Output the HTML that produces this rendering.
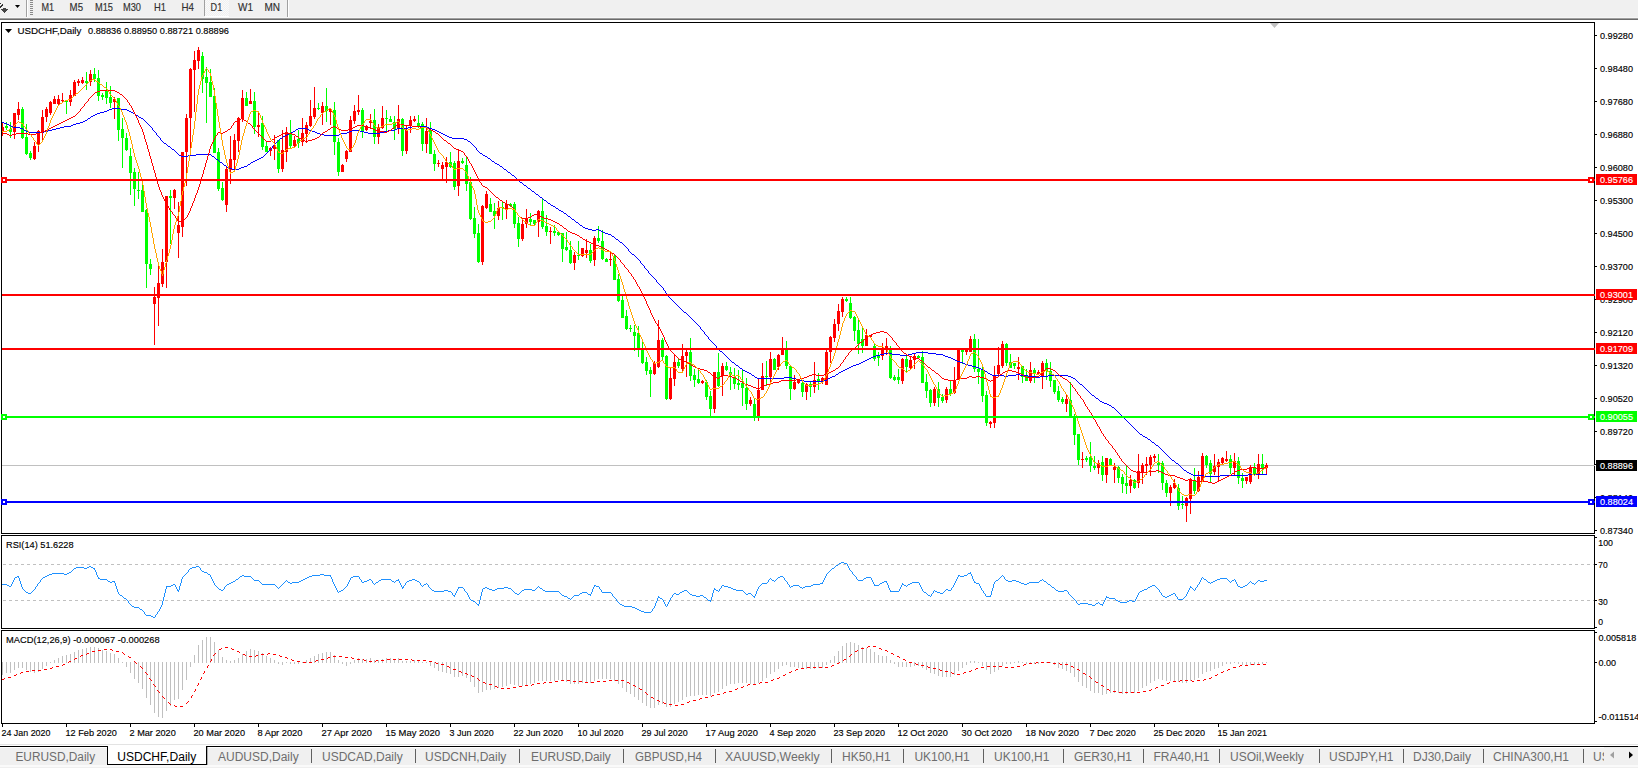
<!DOCTYPE html><html><head><meta charset="utf-8"><style>html,body{margin:0;padding:0;width:1638px;height:768px;overflow:hidden;background:#fff}svg{display:block}text{font-family:"Liberation Sans",sans-serif}</style></head><body>
<svg width="1638" height="768" viewBox="0 0 1638 768" shape-rendering="crispEdges">
<rect x="0" y="0" width="1638" height="18" fill="#f0f0f0"/>
<rect x="0" y="17" width="1638" height="1" fill="#f6f6f6"/>
<rect x="0" y="18" width="1638" height="1" fill="#a0a0a0"/>
<rect x="0" y="19" width="1638" height="1" fill="#6a6a6a"/>
<rect x="0" y="3" width="1" height="1" fill="#303030"/>
<rect x="2" y="4" width="1" height="1" fill="#303030"/>
<rect x="1" y="5" width="2" height="1" fill="#303030"/>
<rect x="0" y="6" width="2" height="1" fill="#303030"/>
<rect x="0" y="7" width="1" height="1" fill="#303030"/>
<rect x="3" y="8" width="3" height="1" fill="#444444"/>
<rect x="1" y="9" width="7" height="1" fill="#444444"/>
<rect x="2" y="10" width="5" height="1" fill="#444444"/>
<rect x="3" y="11" width="3" height="1" fill="#444444"/>
<rect x="4" y="12" width="1" height="1" fill="#444444"/>
<path d="M15 5 L20 5 L17.5 8 Z" fill="#000" shape-rendering="geometricPrecision"/>
<rect x="26" y="0" width="1" height="17" fill="#a0a0a0"/>
<rect x="27" y="0" width="1" height="17" fill="#ffffff"/>
<rect x="30" y="0" width="3" height="1" fill="#8a8a8a"/>
<rect x="30" y="2" width="3" height="1" fill="#8a8a8a"/>
<rect x="30" y="4" width="3" height="1" fill="#8a8a8a"/>
<rect x="30" y="6" width="3" height="1" fill="#8a8a8a"/>
<rect x="30" y="8" width="3" height="1" fill="#8a8a8a"/>
<rect x="30" y="10" width="3" height="1" fill="#8a8a8a"/>
<rect x="30" y="12" width="3" height="1" fill="#8a8a8a"/>
<rect x="30" y="14" width="3" height="1" fill="#8a8a8a"/>
<defs><pattern id="dith" width="2" height="2" patternUnits="userSpaceOnUse"><rect width="2" height="2" fill="#f0f0f0"/><rect width="1" height="1" fill="#fafafa"/><rect x="1" y="1" width="1" height="1" fill="#fafafa"/></pattern></defs>
<rect x="205" y="0" width="24" height="16" fill="url(#dith)"/>
<rect x="204" y="0" width="1" height="16" fill="#a0a0a0"/>
<rect x="205" y="16" width="24" height="1" fill="#ffffff"/>
<rect x="287" y="0" width="1" height="17" fill="#a0a0a0"/>
<rect x="288" y="0" width="1" height="17" fill="#ffffff"/>
<text x="41.4" y="10.5" font-size="10.5" fill="#303030" stroke="#303030" stroke-width="0.15" textLength="12.6" lengthAdjust="spacingAndGlyphs">M1</text>
<text x="69.6" y="10.5" font-size="10.5" fill="#303030" stroke="#303030" stroke-width="0.15" textLength="13.4" lengthAdjust="spacingAndGlyphs">M5</text>
<text x="95" y="10.5" font-size="10.5" fill="#303030" stroke="#303030" stroke-width="0.15" textLength="18" lengthAdjust="spacingAndGlyphs">M15</text>
<text x="123" y="10.5" font-size="10.5" fill="#303030" stroke="#303030" stroke-width="0.15" textLength="18" lengthAdjust="spacingAndGlyphs">M30</text>
<text x="154" y="10.5" font-size="10.5" fill="#303030" stroke="#303030" stroke-width="0.15" textLength="12" lengthAdjust="spacingAndGlyphs">H1</text>
<text x="181.5" y="10.5" font-size="10.5" fill="#303030" stroke="#303030" stroke-width="0.15" textLength="12.5" lengthAdjust="spacingAndGlyphs">H4</text>
<text x="210.6" y="10.5" font-size="10.5" fill="#303030" stroke="#303030" stroke-width="0.15" textLength="11.6" lengthAdjust="spacingAndGlyphs">D1</text>
<text x="238" y="10.5" font-size="10.5" fill="#303030" stroke="#303030" stroke-width="0.15" textLength="15" lengthAdjust="spacingAndGlyphs">W1</text>
<text x="264.4" y="10.5" font-size="10.5" fill="#303030" stroke="#303030" stroke-width="0.15" textLength="15.6" lengthAdjust="spacingAndGlyphs">MN</text>
<rect x="1" y="22" width="1594" height="1" fill="#000"/>
<rect x="1" y="533" width="1594" height="1" fill="#000"/>
<rect x="1" y="22" width="1" height="512" fill="#000"/>
<rect x="1594" y="22" width="1" height="512" fill="#000"/>
<rect x="1" y="535" width="1594" height="1" fill="#000"/>
<rect x="1" y="628" width="1594" height="1" fill="#000"/>
<rect x="1" y="535" width="1" height="94" fill="#000"/>
<rect x="1594" y="535" width="1" height="94" fill="#000"/>
<rect x="1" y="630" width="1594" height="1" fill="#000"/>
<rect x="1" y="723" width="1594" height="1" fill="#000"/>
<rect x="1" y="630" width="1" height="94" fill="#000"/>
<rect x="1594" y="630" width="1" height="94" fill="#000"/>
<rect x="2" y="465" width="1593" height="1" fill="#c0c0c0"/>
<g>
<rect x="2" y="123" width="1" height="13" fill="#ff0000"/>
<rect x="2" y="127" width="2" height="5" fill="#ff0000"/>
<rect x="6" y="122" width="1" height="8" fill="#00ff00"/>
<rect x="5" y="126" width="3" height="2" fill="#00ff00"/>
<rect x="10" y="122" width="1" height="16" fill="#00ff00"/>
<rect x="9" y="129" width="3" height="3" fill="#00ff00"/>
<rect x="14" y="113" width="1" height="26" fill="#ff0000"/>
<rect x="13" y="113" width="3" height="19" fill="#ff0000"/>
<rect x="18" y="102" width="1" height="18" fill="#ff0000"/>
<rect x="17" y="109" width="3" height="6" fill="#ff0000"/>
<rect x="22" y="107" width="1" height="32" fill="#00ff00"/>
<rect x="21" y="109" width="3" height="29" fill="#00ff00"/>
<rect x="26" y="124" width="1" height="31" fill="#00ff00"/>
<rect x="25" y="137" width="3" height="17" fill="#00ff00"/>
<rect x="30" y="151" width="1" height="9" fill="#00ff00"/>
<rect x="29" y="153" width="3" height="5" fill="#00ff00"/>
<rect x="34" y="142" width="1" height="18" fill="#ff0000"/>
<rect x="33" y="146" width="3" height="13" fill="#ff0000"/>
<rect x="38" y="130" width="1" height="22" fill="#ff0000"/>
<rect x="37" y="131" width="3" height="14" fill="#ff0000"/>
<rect x="42" y="110" width="1" height="30" fill="#ff0000"/>
<rect x="41" y="117" width="3" height="15" fill="#ff0000"/>
<rect x="46" y="107" width="1" height="15" fill="#ff0000"/>
<rect x="45" y="109" width="3" height="8" fill="#ff0000"/>
<rect x="50" y="101" width="1" height="14" fill="#ff0000"/>
<rect x="49" y="102" width="3" height="11" fill="#ff0000"/>
<rect x="54" y="96" width="1" height="8" fill="#ff0000"/>
<rect x="53" y="99" width="3" height="5" fill="#ff0000"/>
<rect x="58" y="95" width="1" height="10" fill="#ff0000"/>
<rect x="57" y="99" width="3" height="5" fill="#ff0000"/>
<rect x="62" y="93" width="1" height="10" fill="#ff0000"/>
<rect x="61" y="100" width="3" height="1" fill="#ff0000"/>
<rect x="66" y="100" width="1" height="14" fill="#00ff00"/>
<rect x="65" y="101" width="3" height="1" fill="#00ff00"/>
<rect x="70" y="90" width="1" height="16" fill="#ff0000"/>
<rect x="69" y="95" width="3" height="7" fill="#ff0000"/>
<rect x="74" y="80" width="1" height="16" fill="#ff0000"/>
<rect x="73" y="82" width="3" height="14" fill="#ff0000"/>
<rect x="78" y="79" width="1" height="7" fill="#ff0000"/>
<rect x="77" y="81" width="3" height="2" fill="#ff0000"/>
<rect x="82" y="77" width="1" height="7" fill="#ff0000"/>
<rect x="81" y="80" width="3" height="3" fill="#ff0000"/>
<rect x="86" y="72" width="1" height="18" fill="#00ff00"/>
<rect x="85" y="81" width="3" height="2" fill="#00ff00"/>
<rect x="90" y="70" width="1" height="16" fill="#ff0000"/>
<rect x="89" y="74" width="3" height="8" fill="#ff0000"/>
<rect x="94" y="68" width="1" height="14" fill="#00ff00"/>
<rect x="93" y="74" width="3" height="5" fill="#00ff00"/>
<rect x="98" y="70" width="1" height="31" fill="#00ff00"/>
<rect x="97" y="78" width="3" height="18" fill="#00ff00"/>
<rect x="102" y="93" width="1" height="7" fill="#00ff00"/>
<rect x="101" y="95" width="3" height="2" fill="#00ff00"/>
<rect x="106" y="82" width="1" height="22" fill="#00ff00"/>
<rect x="105" y="90" width="3" height="8" fill="#00ff00"/>
<rect x="110" y="86" width="1" height="22" fill="#00ff00"/>
<rect x="109" y="97" width="3" height="6" fill="#00ff00"/>
<rect x="114" y="97" width="1" height="22" fill="#ff0000"/>
<rect x="113" y="99" width="3" height="3" fill="#ff0000"/>
<rect x="118" y="98" width="1" height="43" fill="#00ff00"/>
<rect x="117" y="98" width="3" height="32" fill="#00ff00"/>
<rect x="122" y="118" width="1" height="50" fill="#00ff00"/>
<rect x="121" y="129" width="3" height="9" fill="#00ff00"/>
<rect x="126" y="133" width="1" height="18" fill="#00ff00"/>
<rect x="125" y="138" width="3" height="12" fill="#00ff00"/>
<rect x="130" y="148" width="1" height="47" fill="#00ff00"/>
<rect x="129" y="156" width="3" height="17" fill="#00ff00"/>
<rect x="134" y="168" width="1" height="38" fill="#00ff00"/>
<rect x="133" y="172" width="3" height="17" fill="#00ff00"/>
<rect x="138" y="172" width="1" height="27" fill="#00ff00"/>
<rect x="137" y="190" width="3" height="1" fill="#00ff00"/>
<rect x="142" y="185" width="1" height="27" fill="#00ff00"/>
<rect x="141" y="190" width="3" height="22" fill="#00ff00"/>
<rect x="146" y="209" width="1" height="79" fill="#00ff00"/>
<rect x="145" y="210" width="3" height="54" fill="#00ff00"/>
<rect x="150" y="259" width="1" height="16" fill="#00ff00"/>
<rect x="149" y="264" width="3" height="5" fill="#00ff00"/>
<rect x="154" y="287" width="1" height="58" fill="#ff0000"/>
<rect x="153" y="297" width="3" height="7" fill="#ff0000"/>
<rect x="158" y="266" width="1" height="60" fill="#ff0000"/>
<rect x="157" y="283" width="3" height="15" fill="#ff0000"/>
<rect x="162" y="249" width="1" height="38" fill="#ff0000"/>
<rect x="161" y="262" width="3" height="22" fill="#ff0000"/>
<rect x="166" y="196" width="1" height="92" fill="#ff0000"/>
<rect x="165" y="196" width="3" height="66" fill="#ff0000"/>
<rect x="170" y="190" width="1" height="54" fill="#00ff00"/>
<rect x="169" y="196" width="3" height="2" fill="#00ff00"/>
<rect x="174" y="189" width="1" height="20" fill="#ff0000"/>
<rect x="173" y="190" width="3" height="8" fill="#ff0000"/>
<rect x="178" y="202" width="1" height="56" fill="#ff0000"/>
<rect x="177" y="225" width="3" height="8" fill="#ff0000"/>
<rect x="182" y="152" width="1" height="85" fill="#ff0000"/>
<rect x="181" y="152" width="3" height="75" fill="#ff0000"/>
<rect x="186" y="114" width="1" height="72" fill="#ff0000"/>
<rect x="185" y="118" width="3" height="34" fill="#ff0000"/>
<rect x="190" y="68" width="1" height="80" fill="#ff0000"/>
<rect x="189" y="69" width="3" height="49" fill="#ff0000"/>
<rect x="194" y="51" width="1" height="61" fill="#ff0000"/>
<rect x="193" y="60" width="3" height="10" fill="#ff0000"/>
<rect x="198" y="47" width="1" height="22" fill="#ff0000"/>
<rect x="197" y="50" width="3" height="11" fill="#ff0000"/>
<rect x="202" y="52" width="1" height="41" fill="#00ff00"/>
<rect x="201" y="56" width="3" height="23" fill="#00ff00"/>
<rect x="206" y="67" width="1" height="56" fill="#00ff00"/>
<rect x="205" y="77" width="3" height="6" fill="#00ff00"/>
<rect x="210" y="69" width="1" height="28" fill="#00ff00"/>
<rect x="209" y="82" width="3" height="15" fill="#00ff00"/>
<rect x="214" y="88" width="1" height="65" fill="#00ff00"/>
<rect x="213" y="96" width="3" height="57" fill="#00ff00"/>
<rect x="218" y="148" width="1" height="43" fill="#00ff00"/>
<rect x="217" y="152" width="3" height="37" fill="#00ff00"/>
<rect x="222" y="182" width="1" height="19" fill="#00ff00"/>
<rect x="221" y="188" width="3" height="12" fill="#00ff00"/>
<rect x="226" y="167" width="1" height="45" fill="#ff0000"/>
<rect x="225" y="169" width="3" height="36" fill="#ff0000"/>
<rect x="230" y="136" width="1" height="48" fill="#ff0000"/>
<rect x="229" y="159" width="3" height="11" fill="#ff0000"/>
<rect x="234" y="134" width="1" height="36" fill="#ff0000"/>
<rect x="233" y="140" width="3" height="20" fill="#ff0000"/>
<rect x="238" y="117" width="1" height="35" fill="#ff0000"/>
<rect x="237" y="118" width="3" height="23" fill="#ff0000"/>
<rect x="242" y="90" width="1" height="32" fill="#ff0000"/>
<rect x="241" y="98" width="3" height="21" fill="#ff0000"/>
<rect x="246" y="92" width="1" height="14" fill="#00ff00"/>
<rect x="245" y="98" width="3" height="8" fill="#00ff00"/>
<rect x="250" y="89" width="1" height="15" fill="#ff0000"/>
<rect x="249" y="101" width="3" height="3" fill="#ff0000"/>
<rect x="254" y="92" width="1" height="42" fill="#00ff00"/>
<rect x="253" y="101" width="3" height="26" fill="#00ff00"/>
<rect x="258" y="113" width="1" height="24" fill="#ff0000"/>
<rect x="257" y="125" width="3" height="2" fill="#ff0000"/>
<rect x="262" y="116" width="1" height="34" fill="#00ff00"/>
<rect x="261" y="123" width="3" height="24" fill="#00ff00"/>
<rect x="266" y="142" width="1" height="10" fill="#00ff00"/>
<rect x="265" y="146" width="3" height="6" fill="#00ff00"/>
<rect x="270" y="147" width="1" height="9" fill="#ff0000"/>
<rect x="269" y="148" width="3" height="3" fill="#ff0000"/>
<rect x="274" y="135" width="1" height="25" fill="#ff0000"/>
<rect x="273" y="146" width="3" height="3" fill="#ff0000"/>
<rect x="278" y="140" width="1" height="33" fill="#00ff00"/>
<rect x="277" y="140" width="3" height="29" fill="#00ff00"/>
<rect x="282" y="130" width="1" height="42" fill="#ff0000"/>
<rect x="281" y="150" width="3" height="19" fill="#ff0000"/>
<rect x="286" y="127" width="1" height="35" fill="#ff0000"/>
<rect x="285" y="132" width="3" height="20" fill="#ff0000"/>
<rect x="290" y="120" width="1" height="28" fill="#00ff00"/>
<rect x="289" y="133" width="3" height="13" fill="#00ff00"/>
<rect x="294" y="136" width="1" height="11" fill="#ff0000"/>
<rect x="293" y="140" width="3" height="6" fill="#ff0000"/>
<rect x="298" y="130" width="1" height="18" fill="#00ff00"/>
<rect x="297" y="139" width="3" height="4" fill="#00ff00"/>
<rect x="302" y="118" width="1" height="28" fill="#ff0000"/>
<rect x="301" y="133" width="3" height="9" fill="#ff0000"/>
<rect x="306" y="122" width="1" height="21" fill="#ff0000"/>
<rect x="305" y="125" width="3" height="9" fill="#ff0000"/>
<rect x="310" y="100" width="1" height="27" fill="#ff0000"/>
<rect x="309" y="116" width="3" height="10" fill="#ff0000"/>
<rect x="314" y="87" width="1" height="32" fill="#ff0000"/>
<rect x="313" y="108" width="3" height="9" fill="#ff0000"/>
<rect x="318" y="103" width="1" height="7" fill="#00ff00"/>
<rect x="317" y="108" width="3" height="1" fill="#00ff00"/>
<rect x="322" y="102" width="1" height="23" fill="#ff0000"/>
<rect x="321" y="106" width="3" height="7" fill="#ff0000"/>
<rect x="326" y="88" width="1" height="34" fill="#00ff00"/>
<rect x="325" y="106" width="3" height="5" fill="#00ff00"/>
<rect x="330" y="108" width="1" height="17" fill="#ff0000"/>
<rect x="329" y="109" width="3" height="3" fill="#ff0000"/>
<rect x="334" y="102" width="1" height="53" fill="#00ff00"/>
<rect x="333" y="110" width="3" height="32" fill="#00ff00"/>
<rect x="338" y="138" width="1" height="38" fill="#00ff00"/>
<rect x="337" y="142" width="3" height="30" fill="#00ff00"/>
<rect x="342" y="164" width="1" height="8" fill="#ff0000"/>
<rect x="341" y="165" width="3" height="7" fill="#ff0000"/>
<rect x="346" y="150" width="1" height="12" fill="#ff0000"/>
<rect x="345" y="151" width="3" height="8" fill="#ff0000"/>
<rect x="350" y="116" width="1" height="36" fill="#ff0000"/>
<rect x="349" y="120" width="3" height="32" fill="#ff0000"/>
<rect x="354" y="105" width="1" height="19" fill="#ff0000"/>
<rect x="353" y="111" width="3" height="10" fill="#ff0000"/>
<rect x="358" y="95" width="1" height="20" fill="#ff0000"/>
<rect x="357" y="110" width="3" height="2" fill="#ff0000"/>
<rect x="362" y="108" width="1" height="30" fill="#00ff00"/>
<rect x="361" y="110" width="3" height="21" fill="#00ff00"/>
<rect x="366" y="125" width="1" height="6" fill="#ff0000"/>
<rect x="365" y="126" width="3" height="4" fill="#ff0000"/>
<rect x="370" y="114" width="1" height="15" fill="#ff0000"/>
<rect x="369" y="121" width="3" height="2" fill="#ff0000"/>
<rect x="374" y="109" width="1" height="35" fill="#00ff00"/>
<rect x="373" y="120" width="3" height="17" fill="#00ff00"/>
<rect x="378" y="124" width="1" height="20" fill="#ff0000"/>
<rect x="377" y="127" width="3" height="10" fill="#ff0000"/>
<rect x="382" y="106" width="1" height="23" fill="#ff0000"/>
<rect x="381" y="118" width="3" height="10" fill="#ff0000"/>
<rect x="386" y="110" width="1" height="22" fill="#00ff00"/>
<rect x="385" y="118" width="3" height="1" fill="#00ff00"/>
<rect x="390" y="116" width="1" height="6" fill="#00ff00"/>
<rect x="389" y="119" width="3" height="3" fill="#00ff00"/>
<rect x="394" y="116" width="1" height="24" fill="#00ff00"/>
<rect x="393" y="122" width="3" height="7" fill="#00ff00"/>
<rect x="398" y="105" width="1" height="29" fill="#ff0000"/>
<rect x="397" y="119" width="3" height="9" fill="#ff0000"/>
<rect x="402" y="118" width="1" height="38" fill="#00ff00"/>
<rect x="401" y="119" width="3" height="32" fill="#00ff00"/>
<rect x="406" y="125" width="1" height="29" fill="#ff0000"/>
<rect x="405" y="130" width="3" height="21" fill="#ff0000"/>
<rect x="410" y="116" width="1" height="17" fill="#ff0000"/>
<rect x="409" y="120" width="3" height="6" fill="#ff0000"/>
<rect x="414" y="116" width="1" height="6" fill="#ff0000"/>
<rect x="413" y="119" width="3" height="2" fill="#ff0000"/>
<rect x="418" y="115" width="1" height="13" fill="#00ff00"/>
<rect x="417" y="123" width="3" height="3" fill="#00ff00"/>
<rect x="422" y="122" width="1" height="29" fill="#00ff00"/>
<rect x="421" y="124" width="3" height="20" fill="#00ff00"/>
<rect x="426" y="118" width="1" height="35" fill="#ff0000"/>
<rect x="425" y="131" width="3" height="13" fill="#ff0000"/>
<rect x="430" y="122" width="1" height="32" fill="#00ff00"/>
<rect x="429" y="130" width="3" height="24" fill="#00ff00"/>
<rect x="434" y="150" width="1" height="21" fill="#00ff00"/>
<rect x="433" y="154" width="3" height="10" fill="#00ff00"/>
<rect x="438" y="160" width="1" height="7" fill="#ff0000"/>
<rect x="437" y="163" width="3" height="1" fill="#ff0000"/>
<rect x="442" y="162" width="1" height="18" fill="#ff0000"/>
<rect x="441" y="165" width="3" height="4" fill="#ff0000"/>
<rect x="446" y="157" width="1" height="26" fill="#ff0000"/>
<rect x="445" y="162" width="3" height="5" fill="#ff0000"/>
<rect x="450" y="152" width="1" height="16" fill="#00ff00"/>
<rect x="449" y="162" width="3" height="5" fill="#00ff00"/>
<rect x="454" y="161" width="1" height="29" fill="#00ff00"/>
<rect x="453" y="163" width="3" height="24" fill="#00ff00"/>
<rect x="458" y="149" width="1" height="47" fill="#ff0000"/>
<rect x="457" y="161" width="3" height="25" fill="#ff0000"/>
<rect x="462" y="158" width="1" height="6" fill="#00ff00"/>
<rect x="461" y="161" width="3" height="2" fill="#00ff00"/>
<rect x="466" y="156" width="1" height="35" fill="#00ff00"/>
<rect x="465" y="165" width="3" height="19" fill="#00ff00"/>
<rect x="470" y="177" width="1" height="43" fill="#00ff00"/>
<rect x="469" y="182" width="3" height="37" fill="#00ff00"/>
<rect x="474" y="207" width="1" height="31" fill="#00ff00"/>
<rect x="473" y="218" width="3" height="16" fill="#00ff00"/>
<rect x="478" y="224" width="1" height="39" fill="#00ff00"/>
<rect x="477" y="233" width="3" height="29" fill="#00ff00"/>
<rect x="482" y="205" width="1" height="60" fill="#ff0000"/>
<rect x="481" y="206" width="3" height="56" fill="#ff0000"/>
<rect x="486" y="191" width="1" height="18" fill="#ff0000"/>
<rect x="485" y="194" width="3" height="14" fill="#ff0000"/>
<rect x="490" y="198" width="1" height="14" fill="#00ff00"/>
<rect x="489" y="204" width="3" height="8" fill="#00ff00"/>
<rect x="494" y="203" width="1" height="26" fill="#00ff00"/>
<rect x="493" y="211" width="3" height="5" fill="#00ff00"/>
<rect x="498" y="201" width="1" height="19" fill="#ff0000"/>
<rect x="497" y="208" width="3" height="8" fill="#ff0000"/>
<rect x="502" y="202" width="1" height="18" fill="#00ff00"/>
<rect x="501" y="207" width="3" height="1" fill="#00ff00"/>
<rect x="506" y="200" width="1" height="19" fill="#ff0000"/>
<rect x="505" y="204" width="3" height="5" fill="#ff0000"/>
<rect x="510" y="203" width="1" height="4" fill="#00ff00"/>
<rect x="509" y="204" width="3" height="2" fill="#00ff00"/>
<rect x="514" y="202" width="1" height="26" fill="#00ff00"/>
<rect x="513" y="204" width="3" height="20" fill="#00ff00"/>
<rect x="518" y="217" width="1" height="30" fill="#00ff00"/>
<rect x="517" y="223" width="3" height="16" fill="#00ff00"/>
<rect x="522" y="219" width="1" height="22" fill="#ff0000"/>
<rect x="521" y="224" width="3" height="15" fill="#ff0000"/>
<rect x="526" y="209" width="1" height="19" fill="#ff0000"/>
<rect x="525" y="219" width="3" height="5" fill="#ff0000"/>
<rect x="530" y="213" width="1" height="12" fill="#00ff00"/>
<rect x="529" y="219" width="3" height="3" fill="#00ff00"/>
<rect x="534" y="220" width="1" height="6" fill="#00ff00"/>
<rect x="533" y="220" width="3" height="4" fill="#00ff00"/>
<rect x="538" y="210" width="1" height="27" fill="#ff0000"/>
<rect x="537" y="211" width="3" height="11" fill="#ff0000"/>
<rect x="542" y="199" width="1" height="30" fill="#00ff00"/>
<rect x="541" y="211" width="3" height="16" fill="#00ff00"/>
<rect x="546" y="215" width="1" height="21" fill="#00ff00"/>
<rect x="545" y="226" width="3" height="6" fill="#00ff00"/>
<rect x="550" y="227" width="1" height="17" fill="#ff0000"/>
<rect x="549" y="231" width="3" height="1" fill="#ff0000"/>
<rect x="554" y="225" width="1" height="11" fill="#00ff00"/>
<rect x="553" y="231" width="3" height="2" fill="#00ff00"/>
<rect x="558" y="232" width="1" height="4" fill="#00ff00"/>
<rect x="557" y="232" width="3" height="3" fill="#00ff00"/>
<rect x="562" y="233" width="1" height="29" fill="#00ff00"/>
<rect x="561" y="233" width="3" height="16" fill="#00ff00"/>
<rect x="566" y="232" width="1" height="19" fill="#00ff00"/>
<rect x="565" y="247" width="3" height="3" fill="#00ff00"/>
<rect x="570" y="241" width="1" height="23" fill="#00ff00"/>
<rect x="569" y="250" width="3" height="13" fill="#00ff00"/>
<rect x="574" y="252" width="1" height="18" fill="#ff0000"/>
<rect x="573" y="255" width="3" height="8" fill="#ff0000"/>
<rect x="578" y="241" width="1" height="19" fill="#00ff00"/>
<rect x="577" y="255" width="3" height="1" fill="#00ff00"/>
<rect x="582" y="248" width="1" height="9" fill="#ff0000"/>
<rect x="581" y="248" width="3" height="8" fill="#ff0000"/>
<rect x="586" y="239" width="1" height="19" fill="#ff0000"/>
<rect x="585" y="250" width="3" height="3" fill="#ff0000"/>
<rect x="590" y="244" width="1" height="19" fill="#00ff00"/>
<rect x="589" y="250" width="3" height="11" fill="#00ff00"/>
<rect x="594" y="236" width="1" height="30" fill="#ff0000"/>
<rect x="593" y="238" width="3" height="22" fill="#ff0000"/>
<rect x="598" y="226" width="1" height="17" fill="#00ff00"/>
<rect x="597" y="238" width="3" height="3" fill="#00ff00"/>
<rect x="602" y="230" width="1" height="30" fill="#00ff00"/>
<rect x="601" y="241" width="3" height="18" fill="#00ff00"/>
<rect x="606" y="258" width="1" height="4" fill="#00ff00"/>
<rect x="605" y="259" width="3" height="3" fill="#00ff00"/>
<rect x="610" y="252" width="1" height="14" fill="#ff0000"/>
<rect x="609" y="259" width="3" height="1" fill="#ff0000"/>
<rect x="614" y="254" width="1" height="26" fill="#00ff00"/>
<rect x="613" y="256" width="3" height="24" fill="#00ff00"/>
<rect x="618" y="274" width="1" height="28" fill="#00ff00"/>
<rect x="617" y="279" width="3" height="22" fill="#00ff00"/>
<rect x="622" y="296" width="1" height="22" fill="#00ff00"/>
<rect x="621" y="300" width="3" height="18" fill="#00ff00"/>
<rect x="626" y="310" width="1" height="20" fill="#00ff00"/>
<rect x="625" y="316" width="3" height="13" fill="#00ff00"/>
<rect x="630" y="325" width="1" height="7" fill="#00ff00"/>
<rect x="629" y="328" width="3" height="1" fill="#00ff00"/>
<rect x="634" y="325" width="1" height="26" fill="#00ff00"/>
<rect x="633" y="332" width="3" height="4" fill="#00ff00"/>
<rect x="638" y="326" width="1" height="31" fill="#00ff00"/>
<rect x="637" y="333" width="3" height="17" fill="#00ff00"/>
<rect x="642" y="342" width="1" height="22" fill="#00ff00"/>
<rect x="641" y="350" width="3" height="13" fill="#00ff00"/>
<rect x="646" y="357" width="1" height="18" fill="#00ff00"/>
<rect x="645" y="362" width="3" height="9" fill="#00ff00"/>
<rect x="650" y="367" width="1" height="30" fill="#00ff00"/>
<rect x="649" y="370" width="3" height="4" fill="#00ff00"/>
<rect x="654" y="361" width="1" height="14" fill="#ff0000"/>
<rect x="653" y="363" width="3" height="11" fill="#ff0000"/>
<rect x="658" y="320" width="1" height="48" fill="#ff0000"/>
<rect x="657" y="340" width="3" height="27" fill="#ff0000"/>
<rect x="662" y="338" width="1" height="22" fill="#00ff00"/>
<rect x="661" y="340" width="3" height="17" fill="#00ff00"/>
<rect x="666" y="355" width="1" height="45" fill="#00ff00"/>
<rect x="665" y="356" width="3" height="43" fill="#00ff00"/>
<rect x="670" y="368" width="1" height="32" fill="#ff0000"/>
<rect x="669" y="378" width="3" height="21" fill="#ff0000"/>
<rect x="674" y="355" width="1" height="31" fill="#ff0000"/>
<rect x="673" y="362" width="3" height="17" fill="#ff0000"/>
<rect x="678" y="359" width="1" height="9" fill="#00ff00"/>
<rect x="677" y="362" width="3" height="4" fill="#00ff00"/>
<rect x="682" y="344" width="1" height="28" fill="#ff0000"/>
<rect x="681" y="356" width="3" height="13" fill="#ff0000"/>
<rect x="686" y="350" width="1" height="27" fill="#ff0000"/>
<rect x="685" y="352" width="3" height="4" fill="#ff0000"/>
<rect x="690" y="338" width="1" height="43" fill="#00ff00"/>
<rect x="689" y="352" width="3" height="24" fill="#00ff00"/>
<rect x="694" y="369" width="1" height="18" fill="#00ff00"/>
<rect x="693" y="375" width="3" height="5" fill="#00ff00"/>
<rect x="698" y="370" width="1" height="14" fill="#00ff00"/>
<rect x="697" y="379" width="3" height="4" fill="#00ff00"/>
<rect x="702" y="380" width="1" height="4" fill="#ff0000"/>
<rect x="701" y="381" width="3" height="2" fill="#ff0000"/>
<rect x="706" y="380" width="1" height="20" fill="#00ff00"/>
<rect x="705" y="382" width="3" height="15" fill="#00ff00"/>
<rect x="710" y="391" width="1" height="25" fill="#00ff00"/>
<rect x="709" y="396" width="3" height="13" fill="#00ff00"/>
<rect x="714" y="372" width="1" height="41" fill="#ff0000"/>
<rect x="713" y="372" width="3" height="37" fill="#ff0000"/>
<rect x="718" y="353" width="1" height="34" fill="#00ff00"/>
<rect x="717" y="372" width="3" height="14" fill="#00ff00"/>
<rect x="722" y="363" width="1" height="33" fill="#ff0000"/>
<rect x="721" y="366" width="3" height="10" fill="#ff0000"/>
<rect x="726" y="362" width="1" height="9" fill="#00ff00"/>
<rect x="725" y="366" width="3" height="4" fill="#00ff00"/>
<rect x="730" y="367" width="1" height="23" fill="#00ff00"/>
<rect x="729" y="372" width="3" height="3" fill="#00ff00"/>
<rect x="734" y="368" width="1" height="21" fill="#00ff00"/>
<rect x="733" y="377" width="3" height="7" fill="#00ff00"/>
<rect x="738" y="370" width="1" height="20" fill="#00ff00"/>
<rect x="737" y="383" width="3" height="2" fill="#00ff00"/>
<rect x="742" y="370" width="1" height="36" fill="#00ff00"/>
<rect x="741" y="383" width="3" height="5" fill="#00ff00"/>
<rect x="746" y="378" width="1" height="32" fill="#00ff00"/>
<rect x="745" y="388" width="3" height="16" fill="#00ff00"/>
<rect x="750" y="397" width="1" height="9" fill="#ff0000"/>
<rect x="749" y="400" width="3" height="4" fill="#ff0000"/>
<rect x="754" y="399" width="1" height="22" fill="#00ff00"/>
<rect x="753" y="404" width="3" height="12" fill="#00ff00"/>
<rect x="758" y="378" width="1" height="43" fill="#ff0000"/>
<rect x="757" y="390" width="3" height="26" fill="#ff0000"/>
<rect x="762" y="363" width="1" height="27" fill="#ff0000"/>
<rect x="761" y="376" width="3" height="14" fill="#ff0000"/>
<rect x="766" y="361" width="1" height="25" fill="#00ff00"/>
<rect x="765" y="376" width="3" height="1" fill="#00ff00"/>
<rect x="770" y="352" width="1" height="32" fill="#ff0000"/>
<rect x="769" y="359" width="3" height="18" fill="#ff0000"/>
<rect x="774" y="358" width="1" height="12" fill="#00ff00"/>
<rect x="773" y="359" width="3" height="11" fill="#00ff00"/>
<rect x="778" y="354" width="1" height="16" fill="#ff0000"/>
<rect x="777" y="355" width="3" height="12" fill="#ff0000"/>
<rect x="782" y="337" width="1" height="18" fill="#ff0000"/>
<rect x="781" y="350" width="3" height="5" fill="#ff0000"/>
<rect x="786" y="341" width="1" height="28" fill="#00ff00"/>
<rect x="785" y="350" width="3" height="16" fill="#00ff00"/>
<rect x="790" y="365" width="1" height="35" fill="#00ff00"/>
<rect x="789" y="366" width="3" height="23" fill="#00ff00"/>
<rect x="794" y="375" width="1" height="15" fill="#ff0000"/>
<rect x="793" y="382" width="3" height="7" fill="#ff0000"/>
<rect x="798" y="380" width="1" height="4" fill="#ff0000"/>
<rect x="797" y="380" width="3" height="3" fill="#ff0000"/>
<rect x="802" y="381" width="1" height="16" fill="#00ff00"/>
<rect x="801" y="383" width="3" height="9" fill="#00ff00"/>
<rect x="806" y="383" width="1" height="17" fill="#ff0000"/>
<rect x="805" y="384" width="3" height="8" fill="#ff0000"/>
<rect x="810" y="382" width="1" height="15" fill="#00ff00"/>
<rect x="809" y="384" width="3" height="3" fill="#00ff00"/>
<rect x="814" y="362" width="1" height="31" fill="#ff0000"/>
<rect x="813" y="380" width="3" height="7" fill="#ff0000"/>
<rect x="818" y="373" width="1" height="17" fill="#00ff00"/>
<rect x="817" y="379" width="3" height="2" fill="#00ff00"/>
<rect x="822" y="377" width="1" height="7" fill="#ff0000"/>
<rect x="821" y="378" width="3" height="3" fill="#ff0000"/>
<rect x="826" y="350" width="1" height="35" fill="#ff0000"/>
<rect x="825" y="352" width="3" height="33" fill="#ff0000"/>
<rect x="830" y="336" width="1" height="27" fill="#ff0000"/>
<rect x="829" y="337" width="3" height="15" fill="#ff0000"/>
<rect x="834" y="319" width="1" height="23" fill="#ff0000"/>
<rect x="833" y="324" width="3" height="14" fill="#ff0000"/>
<rect x="838" y="304" width="1" height="27" fill="#ff0000"/>
<rect x="837" y="311" width="3" height="13" fill="#ff0000"/>
<rect x="842" y="297" width="1" height="20" fill="#ff0000"/>
<rect x="841" y="299" width="3" height="13" fill="#ff0000"/>
<rect x="846" y="297" width="1" height="5" fill="#00ff00"/>
<rect x="845" y="299" width="3" height="2" fill="#00ff00"/>
<rect x="850" y="297" width="1" height="22" fill="#00ff00"/>
<rect x="849" y="303" width="3" height="15" fill="#00ff00"/>
<rect x="854" y="316" width="1" height="25" fill="#00ff00"/>
<rect x="853" y="317" width="3" height="14" fill="#00ff00"/>
<rect x="858" y="320" width="1" height="34" fill="#00ff00"/>
<rect x="857" y="330" width="3" height="14" fill="#00ff00"/>
<rect x="862" y="327" width="1" height="26" fill="#00ff00"/>
<rect x="861" y="339" width="3" height="7" fill="#00ff00"/>
<rect x="866" y="329" width="1" height="17" fill="#ff0000"/>
<rect x="865" y="335" width="3" height="11" fill="#ff0000"/>
<rect x="870" y="335" width="1" height="3" fill="#ff0000"/>
<rect x="869" y="335" width="3" height="2" fill="#ff0000"/>
<rect x="874" y="344" width="1" height="17" fill="#00ff00"/>
<rect x="873" y="346" width="3" height="13" fill="#00ff00"/>
<rect x="878" y="352" width="1" height="14" fill="#00ff00"/>
<rect x="877" y="356" width="3" height="2" fill="#00ff00"/>
<rect x="882" y="343" width="1" height="17" fill="#ff0000"/>
<rect x="881" y="348" width="3" height="8" fill="#ff0000"/>
<rect x="886" y="338" width="1" height="17" fill="#ff0000"/>
<rect x="885" y="346" width="3" height="4" fill="#ff0000"/>
<rect x="890" y="346" width="1" height="33" fill="#00ff00"/>
<rect x="889" y="348" width="3" height="30" fill="#00ff00"/>
<rect x="894" y="375" width="1" height="6" fill="#00ff00"/>
<rect x="893" y="377" width="3" height="3" fill="#00ff00"/>
<rect x="898" y="369" width="1" height="15" fill="#00ff00"/>
<rect x="897" y="377" width="3" height="3" fill="#00ff00"/>
<rect x="902" y="358" width="1" height="26" fill="#ff0000"/>
<rect x="901" y="359" width="3" height="22" fill="#ff0000"/>
<rect x="906" y="356" width="1" height="17" fill="#00ff00"/>
<rect x="905" y="359" width="3" height="8" fill="#00ff00"/>
<rect x="910" y="356" width="1" height="13" fill="#ff0000"/>
<rect x="909" y="360" width="3" height="8" fill="#ff0000"/>
<rect x="914" y="354" width="1" height="15" fill="#ff0000"/>
<rect x="913" y="356" width="3" height="4" fill="#ff0000"/>
<rect x="918" y="355" width="1" height="3" fill="#00ff00"/>
<rect x="917" y="356" width="3" height="2" fill="#00ff00"/>
<rect x="922" y="351" width="1" height="32" fill="#00ff00"/>
<rect x="921" y="357" width="3" height="26" fill="#00ff00"/>
<rect x="926" y="374" width="1" height="24" fill="#00ff00"/>
<rect x="925" y="382" width="3" height="9" fill="#00ff00"/>
<rect x="930" y="389" width="1" height="18" fill="#00ff00"/>
<rect x="929" y="390" width="3" height="13" fill="#00ff00"/>
<rect x="934" y="387" width="1" height="19" fill="#ff0000"/>
<rect x="933" y="389" width="3" height="14" fill="#ff0000"/>
<rect x="938" y="382" width="1" height="25" fill="#00ff00"/>
<rect x="937" y="389" width="3" height="9" fill="#00ff00"/>
<rect x="942" y="394" width="1" height="9" fill="#00ff00"/>
<rect x="941" y="397" width="3" height="4" fill="#00ff00"/>
<rect x="946" y="387" width="1" height="16" fill="#ff0000"/>
<rect x="945" y="389" width="3" height="11" fill="#ff0000"/>
<rect x="950" y="381" width="1" height="15" fill="#00ff00"/>
<rect x="949" y="389" width="3" height="5" fill="#00ff00"/>
<rect x="954" y="367" width="1" height="27" fill="#ff0000"/>
<rect x="953" y="380" width="3" height="13" fill="#ff0000"/>
<rect x="958" y="349" width="1" height="31" fill="#ff0000"/>
<rect x="957" y="349" width="3" height="31" fill="#ff0000"/>
<rect x="962" y="350" width="1" height="14" fill="#00ff00"/>
<rect x="961" y="350" width="3" height="2" fill="#00ff00"/>
<rect x="966" y="350" width="1" height="5" fill="#ff0000"/>
<rect x="965" y="350" width="3" height="2" fill="#ff0000"/>
<rect x="970" y="336" width="1" height="16" fill="#ff0000"/>
<rect x="969" y="339" width="3" height="13" fill="#ff0000"/>
<rect x="974" y="334" width="1" height="38" fill="#00ff00"/>
<rect x="973" y="339" width="3" height="30" fill="#00ff00"/>
<rect x="978" y="339" width="1" height="45" fill="#00ff00"/>
<rect x="977" y="369" width="3" height="3" fill="#00ff00"/>
<rect x="982" y="366" width="1" height="36" fill="#00ff00"/>
<rect x="981" y="370" width="3" height="26" fill="#00ff00"/>
<rect x="986" y="391" width="1" height="35" fill="#00ff00"/>
<rect x="985" y="395" width="3" height="28" fill="#00ff00"/>
<rect x="990" y="421" width="1" height="7" fill="#ff0000"/>
<rect x="989" y="422" width="3" height="2" fill="#ff0000"/>
<rect x="994" y="366" width="1" height="62" fill="#ff0000"/>
<rect x="993" y="375" width="3" height="48" fill="#ff0000"/>
<rect x="998" y="347" width="1" height="28" fill="#ff0000"/>
<rect x="997" y="365" width="3" height="9" fill="#ff0000"/>
<rect x="1002" y="341" width="1" height="27" fill="#ff0000"/>
<rect x="1001" y="344" width="3" height="22" fill="#ff0000"/>
<rect x="1006" y="343" width="1" height="23" fill="#00ff00"/>
<rect x="1005" y="344" width="3" height="19" fill="#00ff00"/>
<rect x="1010" y="354" width="1" height="14" fill="#00ff00"/>
<rect x="1009" y="362" width="3" height="6" fill="#00ff00"/>
<rect x="1014" y="363" width="1" height="6" fill="#00ff00"/>
<rect x="1013" y="363" width="3" height="3" fill="#00ff00"/>
<rect x="1018" y="357" width="1" height="23" fill="#ff0000"/>
<rect x="1017" y="367" width="3" height="2" fill="#ff0000"/>
<rect x="1022" y="366" width="1" height="17" fill="#00ff00"/>
<rect x="1021" y="366" width="3" height="11" fill="#00ff00"/>
<rect x="1026" y="369" width="1" height="12" fill="#00ff00"/>
<rect x="1025" y="375" width="3" height="6" fill="#00ff00"/>
<rect x="1030" y="362" width="1" height="21" fill="#ff0000"/>
<rect x="1029" y="370" width="3" height="11" fill="#ff0000"/>
<rect x="1034" y="368" width="1" height="15" fill="#00ff00"/>
<rect x="1033" y="370" width="3" height="4" fill="#00ff00"/>
<rect x="1038" y="370" width="1" height="5" fill="#ff0000"/>
<rect x="1037" y="372" width="3" height="2" fill="#ff0000"/>
<rect x="1042" y="361" width="1" height="28" fill="#ff0000"/>
<rect x="1041" y="363" width="3" height="13" fill="#ff0000"/>
<rect x="1046" y="359" width="1" height="21" fill="#00ff00"/>
<rect x="1045" y="363" width="3" height="8" fill="#00ff00"/>
<rect x="1050" y="362" width="1" height="25" fill="#00ff00"/>
<rect x="1049" y="371" width="3" height="10" fill="#00ff00"/>
<rect x="1054" y="380" width="1" height="14" fill="#00ff00"/>
<rect x="1053" y="380" width="3" height="12" fill="#00ff00"/>
<rect x="1058" y="386" width="1" height="16" fill="#00ff00"/>
<rect x="1057" y="391" width="3" height="9" fill="#00ff00"/>
<rect x="1062" y="397" width="1" height="7" fill="#00ff00"/>
<rect x="1061" y="399" width="3" height="3" fill="#00ff00"/>
<rect x="1066" y="394" width="1" height="18" fill="#ff0000"/>
<rect x="1065" y="399" width="3" height="5" fill="#ff0000"/>
<rect x="1070" y="382" width="1" height="36" fill="#00ff00"/>
<rect x="1069" y="400" width="3" height="18" fill="#00ff00"/>
<rect x="1074" y="414" width="1" height="31" fill="#00ff00"/>
<rect x="1073" y="416" width="3" height="19" fill="#00ff00"/>
<rect x="1078" y="434" width="1" height="31" fill="#00ff00"/>
<rect x="1077" y="434" width="3" height="26" fill="#00ff00"/>
<rect x="1082" y="452" width="1" height="16" fill="#ff0000"/>
<rect x="1081" y="459" width="3" height="1" fill="#ff0000"/>
<rect x="1086" y="456" width="1" height="6" fill="#00ff00"/>
<rect x="1085" y="458" width="3" height="2" fill="#00ff00"/>
<rect x="1090" y="442" width="1" height="30" fill="#00ff00"/>
<rect x="1089" y="457" width="3" height="9" fill="#00ff00"/>
<rect x="1094" y="456" width="1" height="14" fill="#00ff00"/>
<rect x="1093" y="466" width="3" height="2" fill="#00ff00"/>
<rect x="1098" y="460" width="1" height="14" fill="#ff0000"/>
<rect x="1097" y="463" width="3" height="5" fill="#ff0000"/>
<rect x="1102" y="456" width="1" height="25" fill="#00ff00"/>
<rect x="1101" y="462" width="3" height="13" fill="#00ff00"/>
<rect x="1106" y="458" width="1" height="25" fill="#ff0000"/>
<rect x="1105" y="458" width="3" height="17" fill="#ff0000"/>
<rect x="1110" y="458" width="1" height="8" fill="#00ff00"/>
<rect x="1109" y="459" width="3" height="7" fill="#00ff00"/>
<rect x="1114" y="463" width="1" height="20" fill="#ff0000"/>
<rect x="1113" y="467" width="3" height="3" fill="#ff0000"/>
<rect x="1118" y="466" width="1" height="17" fill="#00ff00"/>
<rect x="1117" y="467" width="3" height="11" fill="#00ff00"/>
<rect x="1122" y="474" width="1" height="19" fill="#00ff00"/>
<rect x="1121" y="477" width="3" height="7" fill="#00ff00"/>
<rect x="1126" y="466" width="1" height="28" fill="#00ff00"/>
<rect x="1125" y="483" width="3" height="3" fill="#00ff00"/>
<rect x="1130" y="475" width="1" height="18" fill="#ff0000"/>
<rect x="1129" y="480" width="3" height="6" fill="#ff0000"/>
<rect x="1134" y="479" width="1" height="10" fill="#00ff00"/>
<rect x="1133" y="480" width="3" height="8" fill="#00ff00"/>
<rect x="1138" y="454" width="1" height="34" fill="#ff0000"/>
<rect x="1137" y="471" width="3" height="12" fill="#ff0000"/>
<rect x="1142" y="463" width="1" height="21" fill="#ff0000"/>
<rect x="1141" y="465" width="3" height="7" fill="#ff0000"/>
<rect x="1146" y="457" width="1" height="18" fill="#ff0000"/>
<rect x="1145" y="464" width="3" height="2" fill="#ff0000"/>
<rect x="1150" y="455" width="1" height="21" fill="#ff0000"/>
<rect x="1149" y="457" width="3" height="8" fill="#ff0000"/>
<rect x="1154" y="454" width="1" height="8" fill="#ff0000"/>
<rect x="1153" y="456" width="3" height="2" fill="#ff0000"/>
<rect x="1158" y="454" width="1" height="19" fill="#00ff00"/>
<rect x="1157" y="463" width="3" height="2" fill="#00ff00"/>
<rect x="1162" y="461" width="1" height="29" fill="#00ff00"/>
<rect x="1161" y="463" width="3" height="20" fill="#00ff00"/>
<rect x="1166" y="480" width="1" height="17" fill="#00ff00"/>
<rect x="1165" y="483" width="3" height="10" fill="#00ff00"/>
<rect x="1170" y="485" width="1" height="21" fill="#ff0000"/>
<rect x="1169" y="487" width="3" height="6" fill="#ff0000"/>
<rect x="1174" y="479" width="1" height="10" fill="#ff0000"/>
<rect x="1173" y="483" width="3" height="5" fill="#ff0000"/>
<rect x="1178" y="484" width="1" height="26" fill="#00ff00"/>
<rect x="1177" y="488" width="3" height="18" fill="#00ff00"/>
<rect x="1182" y="496" width="1" height="13" fill="#00ff00"/>
<rect x="1181" y="504" width="3" height="1" fill="#00ff00"/>
<rect x="1186" y="497" width="1" height="25" fill="#ff0000"/>
<rect x="1185" y="498" width="3" height="8" fill="#ff0000"/>
<rect x="1190" y="478" width="1" height="36" fill="#ff0000"/>
<rect x="1189" y="479" width="3" height="20" fill="#ff0000"/>
<rect x="1194" y="468" width="1" height="26" fill="#00ff00"/>
<rect x="1193" y="481" width="3" height="10" fill="#00ff00"/>
<rect x="1198" y="471" width="1" height="21" fill="#ff0000"/>
<rect x="1197" y="477" width="3" height="14" fill="#ff0000"/>
<rect x="1202" y="453" width="1" height="29" fill="#ff0000"/>
<rect x="1201" y="456" width="3" height="25" fill="#ff0000"/>
<rect x="1206" y="455" width="1" height="13" fill="#00ff00"/>
<rect x="1205" y="456" width="3" height="9" fill="#00ff00"/>
<rect x="1210" y="460" width="1" height="23" fill="#00ff00"/>
<rect x="1209" y="463" width="3" height="11" fill="#00ff00"/>
<rect x="1214" y="454" width="1" height="21" fill="#ff0000"/>
<rect x="1213" y="466" width="3" height="6" fill="#ff0000"/>
<rect x="1218" y="459" width="1" height="22" fill="#ff0000"/>
<rect x="1217" y="462" width="3" height="5" fill="#ff0000"/>
<rect x="1222" y="457" width="1" height="8" fill="#ff0000"/>
<rect x="1221" y="458" width="3" height="5" fill="#ff0000"/>
<rect x="1226" y="451" width="1" height="11" fill="#ff0000"/>
<rect x="1225" y="459" width="3" height="2" fill="#ff0000"/>
<rect x="1230" y="455" width="1" height="19" fill="#00ff00"/>
<rect x="1229" y="459" width="3" height="9" fill="#00ff00"/>
<rect x="1234" y="453" width="1" height="22" fill="#ff0000"/>
<rect x="1233" y="461" width="3" height="7" fill="#ff0000"/>
<rect x="1238" y="457" width="1" height="27" fill="#00ff00"/>
<rect x="1237" y="461" width="3" height="17" fill="#00ff00"/>
<rect x="1242" y="473" width="1" height="15" fill="#00ff00"/>
<rect x="1241" y="478" width="3" height="3" fill="#00ff00"/>
<rect x="1246" y="477" width="1" height="7" fill="#ff0000"/>
<rect x="1245" y="477" width="3" height="4" fill="#ff0000"/>
<rect x="1250" y="465" width="1" height="19" fill="#ff0000"/>
<rect x="1249" y="467" width="3" height="15" fill="#ff0000"/>
<rect x="1254" y="463" width="1" height="13" fill="#00ff00"/>
<rect x="1253" y="468" width="3" height="6" fill="#00ff00"/>
<rect x="1258" y="454" width="1" height="25" fill="#ff0000"/>
<rect x="1257" y="464" width="3" height="10" fill="#ff0000"/>
<rect x="1262" y="454" width="1" height="20" fill="#00ff00"/>
<rect x="1261" y="464" width="3" height="4" fill="#00ff00"/>
<rect x="1266" y="463" width="1" height="11" fill="#ff0000"/>
<rect x="1265" y="465" width="3" height="3" fill="#ff0000"/>
</g>
<path fill="#0000ff" d="M2 122h1v1h-1zM3 122h1v1h-1zM4 123h1v1h-1zM5 123h1v1h-1zM6 123h1v1h-1zM7 124h1v1h-1zM8 124h1v1h-1zM9 125h1v1h-1zM10 125h1v1h-1zM11 126h1v1h-1zM12 126h1v1h-1zM13 127h1v1h-1zM14 127h1v1h-1zM15 127h1v1h-1zM16 127h1v1h-1zM17 127h1v1h-1zM18 127h1v1h-1zM19 127h1v1h-1zM20 128h1v1h-1zM21 128h1v1h-1zM22 128h1v1h-1zM23 129h1v1h-1zM24 130h1v1h-1zM25 130h1v1h-1zM26 131h1v1h-1zM27 131h1v1h-1zM28 132h1v1h-1zM29 132h1v1h-1zM30 132h1v1h-1zM31 132h1v1h-1zM32 132h1v1h-1zM33 132h1v1h-1zM34 132h1v1h-1zM35 132h1v1h-1zM36 132h1v1h-1zM37 132h1v1h-1zM38 132h1v1h-1zM39 132h1v1h-1zM40 132h1v1h-1zM41 132h1v1h-1zM42 132h1v1h-1zM43 132h1v1h-1zM44 131h1v1h-1zM45 131h1v1h-1zM46 131h1v1h-1zM47 131h1v1h-1zM48 130h1v1h-1zM49 130h1v1h-1zM50 130h1v1h-1zM51 130h1v1h-1zM52 129h1v1h-1zM53 129h1v1h-1zM54 129h1v1h-1zM55 129h1v1h-1zM56 128h1v1h-1zM57 128h1v1h-1zM58 128h1v1h-1zM59 128h1v1h-1zM60 127h1v1h-1zM61 127h1v1h-1zM62 127h1v1h-1zM63 127h1v1h-1zM64 126h1v1h-1zM65 126h1v1h-1zM66 126h1v1h-1zM67 126h1v1h-1zM68 126h1v1h-1zM69 126h1v1h-1zM70 126h1v1h-1zM71 125h1v1h-1zM72 125h1v1h-1zM73 124h1v1h-1zM74 124h1v1h-1zM75 124h1v1h-1zM76 123h1v1h-1zM77 123h1v1h-1zM78 123h1v1h-1zM79 123h1v1h-1zM80 122h1v1h-1zM81 122h1v1h-1zM82 122h1v1h-1zM83 121h1v1h-1zM84 121h1v1h-1zM85 120h1v1h-1zM86 120h1v1h-1zM87 119h1v1h-1zM88 118h1v1h-1zM89 118h1v1h-1zM90 117h1v1h-1zM91 116h1v1h-1zM92 116h1v1h-1zM93 115h1v1h-1zM94 115h1v1h-1zM95 114h1v1h-1zM96 114h1v1h-1zM97 113h1v1h-1zM98 113h1v1h-1zM99 113h1v1h-1zM100 112h1v1h-1zM101 112h1v1h-1zM102 112h1v1h-1zM103 112h1v1h-1zM104 111h1v1h-1zM105 111h1v1h-1zM106 111h1v1h-1zM107 110h1v1h-1zM108 110h1v1h-1zM109 109h1v1h-1zM110 109h1v1h-1zM111 109h1v1h-1zM112 108h1v1h-1zM113 108h1v1h-1zM114 108h1v1h-1zM115 108h1v1h-1zM116 108h1v1h-1zM117 108h1v1h-1zM118 108h1v1h-1zM119 108h1v1h-1zM120 109h1v1h-1zM121 109h1v1h-1zM122 109h1v1h-1zM123 109h1v1h-1zM124 109h1v1h-1zM125 109h1v1h-1zM126 109h1v1h-1zM127 110h1v1h-1zM128 110h1v1h-1zM129 111h1v1h-1zM130 111h1v1h-1zM131 112h1v1h-1zM132 112h1v1h-1zM133 113h1v1h-1zM134 113h1v1h-1zM135 114h1v1h-1zM136 115h1v1h-1zM137 115h1v1h-1zM138 116h1v1h-1zM139 117h1v1h-1zM140 117h1v1h-1zM141 118h1v1h-1zM142 118h1v1h-1zM143 119h1v1h-1zM144 120h1v1h-1zM145 121h1v1h-1zM146 122h1v1h-1zM147 123h1v1h-1zM148 124h1v1h-1zM149 125h1v1h-1zM150 126h1v1h-1zM151 127h1v1h-1zM152 128h1v2h-1zM153 130h1v1h-1zM154 131h1v1h-1zM155 132h1v1h-1zM156 133h1v2h-1zM157 135h1v1h-1zM158 136h1v1h-1zM159 137h1v1h-1zM160 138h1v2h-1zM161 140h1v1h-1zM162 141h1v1h-1zM163 142h1v1h-1zM164 143h1v1h-1zM165 143h1v1h-1zM166 144h1v1h-1zM167 145h1v1h-1zM168 146h1v1h-1zM169 146h1v1h-1zM170 147h1v1h-1zM171 148h1v1h-1zM172 149h1v1h-1zM173 149h1v1h-1zM174 150h1v1h-1zM175 151h1v1h-1zM176 152h1v1h-1zM177 153h1v1h-1zM178 154h1v1h-1zM179 155h1v1h-1zM180 155h1v1h-1zM181 156h1v1h-1zM182 156h1v1h-1zM183 156h1v1h-1zM184 156h1v1h-1zM185 156h1v1h-1zM186 156h1v1h-1zM187 156h1v1h-1zM188 155h1v1h-1zM189 155h1v1h-1zM190 155h1v1h-1zM191 155h1v1h-1zM192 155h1v1h-1zM193 155h1v1h-1zM194 155h1v1h-1zM195 155h1v1h-1zM196 154h1v1h-1zM197 154h1v1h-1zM198 154h1v1h-1zM199 154h1v1h-1zM200 154h1v1h-1zM201 154h1v1h-1zM202 154h1v1h-1zM203 154h1v1h-1zM204 154h1v1h-1zM205 154h1v1h-1zM206 154h1v1h-1zM207 154h1v1h-1zM208 154h1v1h-1zM209 154h1v1h-1zM210 154h1v1h-1zM211 155h1v1h-1zM212 156h1v1h-1zM213 156h1v1h-1zM214 157h1v1h-1zM215 158h1v1h-1zM216 159h1v1h-1zM217 159h1v1h-1zM218 160h1v1h-1zM219 161h1v1h-1zM220 162h1v1h-1zM221 162h1v1h-1zM222 163h1v1h-1zM223 164h1v1h-1zM224 165h1v1h-1zM225 165h1v1h-1zM226 166h1v1h-1zM227 167h1v1h-1zM228 167h1v1h-1zM229 168h1v1h-1zM230 168h1v1h-1zM231 168h1v1h-1zM232 169h1v1h-1zM233 169h1v1h-1zM234 169h1v1h-1zM235 169h1v1h-1zM236 169h1v1h-1zM237 169h1v1h-1zM238 169h1v1h-1zM239 168h1v1h-1zM240 168h1v1h-1zM241 167h1v1h-1zM242 167h1v1h-1zM243 167h1v1h-1zM244 166h1v1h-1zM245 166h1v1h-1zM246 166h1v1h-1zM247 165h1v1h-1zM248 164h1v1h-1zM249 164h1v1h-1zM250 163h1v1h-1zM251 162h1v1h-1zM252 162h1v1h-1zM253 161h1v1h-1zM254 161h1v1h-1zM255 160h1v1h-1zM256 160h1v1h-1zM257 159h1v1h-1zM258 159h1v1h-1zM259 158h1v1h-1zM260 158h1v1h-1zM261 157h1v1h-1zM262 157h1v1h-1zM263 156h1v1h-1zM264 155h1v1h-1zM265 154h1v1h-1zM266 153h1v1h-1zM267 152h1v1h-1zM268 151h1v1h-1zM269 150h1v1h-1zM270 149h1v1h-1zM271 148h1v1h-1zM272 146h1v2h-1zM273 145h1v1h-1zM274 144h1v1h-1zM275 143h1v1h-1zM276 142h1v1h-1zM277 141h1v1h-1zM278 140h1v1h-1zM279 139h1v1h-1zM280 138h1v1h-1zM281 138h1v1h-1zM282 137h1v1h-1zM283 136h1v1h-1zM284 136h1v1h-1zM285 135h1v1h-1zM286 135h1v1h-1zM287 134h1v1h-1zM288 134h1v1h-1zM289 133h1v1h-1zM290 133h1v1h-1zM291 132h1v1h-1zM292 132h1v1h-1zM293 131h1v1h-1zM294 131h1v1h-1zM295 130h1v1h-1zM296 129h1v1h-1zM297 129h1v1h-1zM298 128h1v1h-1zM299 128h1v1h-1zM300 128h1v1h-1zM301 128h1v1h-1zM302 128h1v1h-1zM303 128h1v1h-1zM304 128h1v1h-1zM305 128h1v1h-1zM306 128h1v1h-1zM307 129h1v1h-1zM308 129h1v1h-1zM309 130h1v1h-1zM310 130h1v1h-1zM311 130h1v1h-1zM312 131h1v1h-1zM313 131h1v1h-1zM314 131h1v1h-1zM315 132h1v1h-1zM316 132h1v1h-1zM317 133h1v1h-1zM318 133h1v1h-1zM319 133h1v1h-1zM320 134h1v1h-1zM321 134h1v1h-1zM322 134h1v1h-1zM323 134h1v1h-1zM324 135h1v1h-1zM325 135h1v1h-1zM326 135h1v1h-1zM327 135h1v1h-1zM328 135h1v1h-1zM329 135h1v1h-1zM330 135h1v1h-1zM331 135h1v1h-1zM332 135h1v1h-1zM333 135h1v1h-1zM334 135h1v1h-1zM335 135h1v1h-1zM336 135h1v1h-1zM337 135h1v1h-1zM338 135h1v1h-1zM339 134h1v1h-1zM340 134h1v1h-1zM341 133h1v1h-1zM342 133h1v1h-1zM343 133h1v1h-1zM344 133h1v1h-1zM345 133h1v1h-1zM346 133h1v1h-1zM347 132h1v1h-1zM348 132h1v1h-1zM349 131h1v1h-1zM350 131h1v1h-1zM351 131h1v1h-1zM352 130h1v1h-1zM353 130h1v1h-1zM354 130h1v1h-1zM355 130h1v1h-1zM356 130h1v1h-1zM357 130h1v1h-1zM358 130h1v1h-1zM359 130h1v1h-1zM360 131h1v1h-1zM361 131h1v1h-1zM362 131h1v1h-1zM363 131h1v1h-1zM364 132h1v1h-1zM365 132h1v1h-1zM366 132h1v1h-1zM367 132h1v1h-1zM368 133h1v1h-1zM369 133h1v1h-1zM370 133h1v1h-1zM371 133h1v1h-1zM372 133h1v1h-1zM373 133h1v1h-1zM374 133h1v1h-1zM375 133h1v1h-1zM376 133h1v1h-1zM377 133h1v1h-1zM378 133h1v1h-1zM379 133h1v1h-1zM380 132h1v1h-1zM381 132h1v1h-1zM382 132h1v1h-1zM383 132h1v1h-1zM384 131h1v1h-1zM385 131h1v1h-1zM386 131h1v1h-1zM387 131h1v1h-1zM388 130h1v1h-1zM389 130h1v1h-1zM390 130h1v1h-1zM391 130h1v1h-1zM392 130h1v1h-1zM393 130h1v1h-1zM394 130h1v1h-1zM395 129h1v1h-1zM396 129h1v1h-1zM397 128h1v1h-1zM398 128h1v1h-1zM399 128h1v1h-1zM400 128h1v1h-1zM401 128h1v1h-1zM402 128h1v1h-1zM403 128h1v1h-1zM404 128h1v1h-1zM405 128h1v1h-1zM406 128h1v1h-1zM407 128h1v1h-1zM408 127h1v1h-1zM409 127h1v1h-1zM410 127h1v1h-1zM411 127h1v1h-1zM412 126h1v1h-1zM413 126h1v1h-1zM414 126h1v1h-1zM415 126h1v1h-1zM416 126h1v1h-1zM417 126h1v1h-1zM418 126h1v1h-1zM419 126h1v1h-1zM420 126h1v1h-1zM421 126h1v1h-1zM422 126h1v1h-1zM423 126h1v1h-1zM424 126h1v1h-1zM425 126h1v1h-1zM426 126h1v1h-1zM427 127h1v1h-1zM428 127h1v1h-1zM429 128h1v1h-1zM430 128h1v1h-1zM431 128h1v1h-1zM432 129h1v1h-1zM433 129h1v1h-1zM434 129h1v1h-1zM435 130h1v1h-1zM436 130h1v1h-1zM437 131h1v1h-1zM438 131h1v1h-1zM439 132h1v1h-1zM440 132h1v1h-1zM441 133h1v1h-1zM442 133h1v1h-1zM443 134h1v1h-1zM444 134h1v1h-1zM445 135h1v1h-1zM446 135h1v1h-1zM447 136h1v1h-1zM448 136h1v1h-1zM449 137h1v1h-1zM450 137h1v1h-1zM451 137h1v1h-1zM452 138h1v1h-1zM453 138h1v1h-1zM454 138h1v1h-1zM455 138h1v1h-1zM456 138h1v1h-1zM457 138h1v1h-1zM458 138h1v1h-1zM459 138h1v1h-1zM460 138h1v1h-1zM461 138h1v1h-1zM462 138h1v1h-1zM463 138h1v1h-1zM464 139h1v1h-1zM465 139h1v1h-1zM466 139h1v1h-1zM467 140h1v1h-1zM468 141h1v1h-1zM469 141h1v1h-1zM470 142h1v1h-1zM471 143h1v1h-1zM472 144h1v1h-1zM473 145h1v1h-1zM474 146h1v1h-1zM475 147h1v1h-1zM476 148h1v2h-1zM477 150h1v1h-1zM478 151h1v1h-1zM479 152h1v1h-1zM480 153h1v1h-1zM481 153h1v1h-1zM482 154h1v1h-1zM483 155h1v1h-1zM484 155h1v1h-1zM485 156h1v1h-1zM486 156h1v1h-1zM487 157h1v1h-1zM488 158h1v1h-1zM489 158h1v1h-1zM490 159h1v1h-1zM491 160h1v1h-1zM492 161h1v1h-1zM493 161h1v1h-1zM494 162h1v1h-1zM495 163h1v1h-1zM496 163h1v1h-1zM497 164h1v1h-1zM498 164h1v1h-1zM499 165h1v1h-1zM500 166h1v1h-1zM501 166h1v1h-1zM502 167h1v1h-1zM503 168h1v1h-1zM504 169h1v1h-1zM505 169h1v1h-1zM506 170h1v1h-1zM507 171h1v1h-1zM508 172h1v1h-1zM509 172h1v1h-1zM510 173h1v1h-1zM511 174h1v1h-1zM512 175h1v1h-1zM513 175h1v1h-1zM514 176h1v1h-1zM515 177h1v1h-1zM516 178h1v1h-1zM517 179h1v1h-1zM518 180h1v1h-1zM519 181h1v1h-1zM520 182h1v1h-1zM521 182h1v1h-1zM522 183h1v1h-1zM523 184h1v1h-1zM524 185h1v1h-1zM525 185h1v1h-1zM526 186h1v1h-1zM527 187h1v1h-1zM528 188h1v1h-1zM529 188h1v1h-1zM530 189h1v1h-1zM531 190h1v1h-1zM532 191h1v1h-1zM533 191h1v1h-1zM534 192h1v1h-1zM535 193h1v1h-1zM536 194h1v1h-1zM537 194h1v1h-1zM538 195h1v1h-1zM539 196h1v1h-1zM540 197h1v1h-1zM541 197h1v1h-1zM542 198h1v1h-1zM543 199h1v1h-1zM544 200h1v1h-1zM545 200h1v1h-1zM546 201h1v1h-1zM547 202h1v1h-1zM548 203h1v1h-1zM549 203h1v1h-1zM550 204h1v1h-1zM551 205h1v1h-1zM552 205h1v1h-1zM553 206h1v1h-1zM554 206h1v1h-1zM555 207h1v1h-1zM556 208h1v1h-1zM557 208h1v1h-1zM558 209h1v1h-1zM559 210h1v1h-1zM560 210h1v1h-1zM561 211h1v1h-1zM562 211h1v1h-1zM563 212h1v1h-1zM564 213h1v1h-1zM565 213h1v1h-1zM566 214h1v1h-1zM567 215h1v1h-1zM568 216h1v1h-1zM569 216h1v1h-1zM570 217h1v1h-1zM571 218h1v1h-1zM572 219h1v1h-1zM573 219h1v1h-1zM574 220h1v1h-1zM575 221h1v1h-1zM576 222h1v1h-1zM577 222h1v1h-1zM578 223h1v1h-1zM579 224h1v1h-1zM580 225h1v1h-1zM581 225h1v1h-1zM582 226h1v1h-1zM583 227h1v1h-1zM584 227h1v1h-1zM585 228h1v1h-1zM586 228h1v1h-1zM587 228h1v1h-1zM588 229h1v1h-1zM589 229h1v1h-1zM590 229h1v1h-1zM591 229h1v1h-1zM592 230h1v1h-1zM593 230h1v1h-1zM594 230h1v1h-1zM595 230h1v1h-1zM596 229h1v1h-1zM597 229h1v1h-1zM598 229h1v1h-1zM599 230h1v1h-1zM600 230h1v1h-1zM601 231h1v1h-1zM602 231h1v1h-1zM603 232h1v1h-1zM604 232h1v1h-1zM605 233h1v1h-1zM606 233h1v1h-1zM607 233h1v1h-1zM608 234h1v1h-1zM609 234h1v1h-1zM610 234h1v1h-1zM611 235h1v1h-1zM612 236h1v1h-1zM613 236h1v1h-1zM614 237h1v1h-1zM615 238h1v1h-1zM616 239h1v1h-1zM617 239h1v1h-1zM618 240h1v1h-1zM619 241h1v1h-1zM620 242h1v1h-1zM621 242h1v1h-1zM622 243h1v1h-1zM623 244h1v1h-1zM624 245h1v1h-1zM625 246h1v1h-1zM626 247h1v1h-1zM627 248h1v1h-1zM628 249h1v2h-1zM629 251h1v1h-1zM630 252h1v1h-1zM631 253h1v1h-1zM632 254h1v1h-1zM633 254h1v1h-1zM634 255h1v1h-1zM635 256h1v1h-1zM636 257h1v1h-1zM637 258h1v1h-1zM638 259h1v1h-1zM639 260h1v1h-1zM640 261h1v2h-1zM641 263h1v1h-1zM642 264h1v1h-1zM643 265h1v1h-1zM644 266h1v2h-1zM645 268h1v1h-1zM646 269h1v1h-1zM647 270h1v1h-1zM648 271h1v2h-1zM649 273h1v1h-1zM650 274h1v1h-1zM651 275h1v1h-1zM652 276h1v1h-1zM653 277h1v1h-1zM654 278h1v1h-1zM655 279h1v1h-1zM656 280h1v2h-1zM657 282h1v1h-1zM658 283h1v1h-1zM659 284h1v1h-1zM660 285h1v1h-1zM661 286h1v1h-1zM662 287h1v1h-1zM663 288h1v2h-1zM664 290h1v1h-1zM665 291h1v2h-1zM666 293h1v1h-1zM667 294h1v1h-1zM668 295h1v2h-1zM669 297h1v1h-1zM670 298h1v1h-1zM671 299h1v1h-1zM672 300h1v1h-1zM673 301h1v1h-1zM674 302h1v1h-1zM675 303h1v1h-1zM676 304h1v1h-1zM677 305h1v1h-1zM678 306h1v1h-1zM679 307h1v1h-1zM680 308h1v1h-1zM681 309h1v1h-1zM682 310h1v1h-1zM683 311h1v1h-1zM684 312h1v1h-1zM685 312h1v1h-1zM686 313h1v1h-1zM687 314h1v1h-1zM688 315h1v1h-1zM689 316h1v1h-1zM690 317h1v1h-1zM691 318h1v1h-1zM692 319h1v1h-1zM693 320h1v1h-1zM694 321h1v1h-1zM695 322h1v1h-1zM696 323h1v1h-1zM697 324h1v1h-1zM698 325h1v1h-1zM699 326h1v1h-1zM700 327h1v2h-1zM701 329h1v1h-1zM702 330h1v1h-1zM703 331h1v1h-1zM704 332h1v2h-1zM705 334h1v1h-1zM706 335h1v1h-1zM707 336h1v1h-1zM708 337h1v2h-1zM709 339h1v1h-1zM710 340h1v1h-1zM711 341h1v1h-1zM712 342h1v1h-1zM713 343h1v1h-1zM714 344h1v1h-1zM715 345h1v1h-1zM716 346h1v2h-1zM717 348h1v1h-1zM718 349h1v1h-1zM719 350h1v1h-1zM720 351h1v1h-1zM721 351h1v1h-1zM722 352h1v1h-1zM723 353h1v1h-1zM724 354h1v1h-1zM725 355h1v1h-1zM726 356h1v1h-1zM727 357h1v1h-1zM728 358h1v1h-1zM729 359h1v1h-1zM730 360h1v1h-1zM731 361h1v1h-1zM732 362h1v1h-1zM733 362h1v1h-1zM734 363h1v1h-1zM735 364h1v1h-1zM736 365h1v1h-1zM737 365h1v1h-1zM738 366h1v1h-1zM739 367h1v1h-1zM740 368h1v1h-1zM741 368h1v1h-1zM742 369h1v1h-1zM743 370h1v1h-1zM744 370h1v1h-1zM745 371h1v1h-1zM746 371h1v1h-1zM747 372h1v1h-1zM748 372h1v1h-1zM749 373h1v1h-1zM750 373h1v1h-1zM751 374h1v1h-1zM752 375h1v1h-1zM753 375h1v1h-1zM754 376h1v1h-1zM755 377h1v1h-1zM756 377h1v1h-1zM757 378h1v1h-1zM758 378h1v1h-1zM759 378h1v1h-1zM760 378h1v1h-1zM761 378h1v1h-1zM762 378h1v1h-1zM763 378h1v1h-1zM764 378h1v1h-1zM765 378h1v1h-1zM766 378h1v1h-1zM767 378h1v1h-1zM768 378h1v1h-1zM769 378h1v1h-1zM770 378h1v1h-1zM771 378h1v1h-1zM772 378h1v1h-1zM773 378h1v1h-1zM774 378h1v1h-1zM775 378h1v1h-1zM776 378h1v1h-1zM777 378h1v1h-1zM778 378h1v1h-1zM779 378h1v1h-1zM780 378h1v1h-1zM781 378h1v1h-1zM782 378h1v1h-1zM783 378h1v1h-1zM784 377h1v1h-1zM785 377h1v1h-1zM786 377h1v1h-1zM787 377h1v1h-1zM788 377h1v1h-1zM789 377h1v1h-1zM790 377h1v1h-1zM791 377h1v1h-1zM792 378h1v1h-1zM793 378h1v1h-1zM794 378h1v1h-1zM795 378h1v1h-1zM796 379h1v1h-1zM797 379h1v1h-1zM798 379h1v1h-1zM799 379h1v1h-1zM800 380h1v1h-1zM801 380h1v1h-1zM802 380h1v1h-1zM803 380h1v1h-1zM804 381h1v1h-1zM805 381h1v1h-1zM806 381h1v1h-1zM807 381h1v1h-1zM808 381h1v1h-1zM809 381h1v1h-1zM810 381h1v1h-1zM811 381h1v1h-1zM812 381h1v1h-1zM813 381h1v1h-1zM814 381h1v1h-1zM815 381h1v1h-1zM816 381h1v1h-1zM817 381h1v1h-1zM818 381h1v1h-1zM819 381h1v1h-1zM820 381h1v1h-1zM821 381h1v1h-1zM822 381h1v1h-1zM823 381h1v1h-1zM824 380h1v1h-1zM825 380h1v1h-1zM826 380h1v1h-1zM827 379h1v1h-1zM828 378h1v1h-1zM829 378h1v1h-1zM830 377h1v1h-1zM831 377h1v1h-1zM832 376h1v1h-1zM833 376h1v1h-1zM834 376h1v1h-1zM835 375h1v1h-1zM836 374h1v1h-1zM837 374h1v1h-1zM838 373h1v1h-1zM839 372h1v1h-1zM840 372h1v1h-1zM841 371h1v1h-1zM842 371h1v1h-1zM843 370h1v1h-1zM844 370h1v1h-1zM845 369h1v1h-1zM846 369h1v1h-1zM847 368h1v1h-1zM848 368h1v1h-1zM849 367h1v1h-1zM850 367h1v1h-1zM851 366h1v1h-1zM852 366h1v1h-1zM853 365h1v1h-1zM854 365h1v1h-1zM855 365h1v1h-1zM856 364h1v1h-1zM857 364h1v1h-1zM858 364h1v1h-1zM859 363h1v1h-1zM860 363h1v1h-1zM861 362h1v1h-1zM862 362h1v1h-1zM863 361h1v1h-1zM864 361h1v1h-1zM865 360h1v1h-1zM866 360h1v1h-1zM867 359h1v1h-1zM868 359h1v1h-1zM869 358h1v1h-1zM870 358h1v1h-1zM871 357h1v1h-1zM872 357h1v1h-1zM873 356h1v1h-1zM874 356h1v1h-1zM875 356h1v1h-1zM876 355h1v1h-1zM877 355h1v1h-1zM878 355h1v1h-1zM879 355h1v1h-1zM880 354h1v1h-1zM881 354h1v1h-1zM882 354h1v1h-1zM883 354h1v1h-1zM884 353h1v1h-1zM885 353h1v1h-1zM886 353h1v1h-1zM887 353h1v1h-1zM888 353h1v1h-1zM889 353h1v1h-1zM890 353h1v1h-1zM891 353h1v1h-1zM892 354h1v1h-1zM893 354h1v1h-1zM894 354h1v1h-1zM895 354h1v1h-1zM896 354h1v1h-1zM897 354h1v1h-1zM898 354h1v1h-1zM899 354h1v1h-1zM900 355h1v1h-1zM901 355h1v1h-1zM902 355h1v1h-1zM903 355h1v1h-1zM904 355h1v1h-1zM905 355h1v1h-1zM906 355h1v1h-1zM907 355h1v1h-1zM908 354h1v1h-1zM909 354h1v1h-1zM910 354h1v1h-1zM911 354h1v1h-1zM912 353h1v1h-1zM913 353h1v1h-1zM914 353h1v1h-1zM915 353h1v1h-1zM916 352h1v1h-1zM917 352h1v1h-1zM918 352h1v1h-1zM919 352h1v1h-1zM920 352h1v1h-1zM921 352h1v1h-1zM922 352h1v1h-1zM923 352h1v1h-1zM924 352h1v1h-1zM925 352h1v1h-1zM926 352h1v1h-1zM927 352h1v1h-1zM928 353h1v1h-1zM929 353h1v1h-1zM930 353h1v1h-1zM931 353h1v1h-1zM932 353h1v1h-1zM933 353h1v1h-1zM934 353h1v1h-1zM935 353h1v1h-1zM936 354h1v1h-1zM937 354h1v1h-1zM938 354h1v1h-1zM939 354h1v1h-1zM940 354h1v1h-1zM941 354h1v1h-1zM942 354h1v1h-1zM943 355h1v1h-1zM944 355h1v1h-1zM945 356h1v1h-1zM946 356h1v1h-1zM947 356h1v1h-1zM948 357h1v1h-1zM949 357h1v1h-1zM950 357h1v1h-1zM951 358h1v1h-1zM952 358h1v1h-1zM953 359h1v1h-1zM954 359h1v1h-1zM955 360h1v1h-1zM956 360h1v1h-1zM957 361h1v1h-1zM958 361h1v1h-1zM959 361h1v1h-1zM960 362h1v1h-1zM961 362h1v1h-1zM962 362h1v1h-1zM963 363h1v1h-1zM964 363h1v1h-1zM965 364h1v1h-1zM966 364h1v1h-1zM967 364h1v1h-1zM968 365h1v1h-1zM969 365h1v1h-1zM970 365h1v1h-1zM971 365h1v1h-1zM972 366h1v1h-1zM973 366h1v1h-1zM974 366h1v1h-1zM975 366h1v1h-1zM976 367h1v1h-1zM977 367h1v1h-1zM978 367h1v1h-1zM979 368h1v1h-1zM980 368h1v1h-1zM981 369h1v1h-1zM982 369h1v1h-1zM983 370h1v1h-1zM984 370h1v1h-1zM985 371h1v1h-1zM986 371h1v1h-1zM987 372h1v1h-1zM988 373h1v1h-1zM989 373h1v1h-1zM990 374h1v1h-1zM991 374h1v1h-1zM992 375h1v1h-1zM993 375h1v1h-1zM994 375h1v1h-1zM995 375h1v1h-1zM996 375h1v1h-1zM997 375h1v1h-1zM998 375h1v1h-1zM999 375h1v1h-1zM1000 375h1v1h-1zM1001 375h1v1h-1zM1002 375h1v1h-1zM1003 375h1v1h-1zM1004 376h1v1h-1zM1005 376h1v1h-1zM1006 376h1v1h-1zM1007 376h1v1h-1zM1008 375h1v1h-1zM1009 375h1v1h-1zM1010 375h1v1h-1zM1011 375h1v1h-1zM1012 375h1v1h-1zM1013 375h1v1h-1zM1014 375h1v1h-1zM1015 375h1v1h-1zM1016 374h1v1h-1zM1017 374h1v1h-1zM1018 374h1v1h-1zM1019 374h1v1h-1zM1020 375h1v1h-1zM1021 375h1v1h-1zM1022 375h1v1h-1zM1023 375h1v1h-1zM1024 375h1v1h-1zM1025 375h1v1h-1zM1026 375h1v1h-1zM1027 375h1v1h-1zM1028 376h1v1h-1zM1029 376h1v1h-1zM1030 376h1v1h-1zM1031 376h1v1h-1zM1032 376h1v1h-1zM1033 376h1v1h-1zM1034 376h1v1h-1zM1035 376h1v1h-1zM1036 377h1v1h-1zM1037 377h1v1h-1zM1038 377h1v1h-1zM1039 377h1v1h-1zM1040 376h1v1h-1zM1041 376h1v1h-1zM1042 376h1v1h-1zM1043 376h1v1h-1zM1044 376h1v1h-1zM1045 376h1v1h-1zM1046 376h1v1h-1zM1047 376h1v1h-1zM1048 375h1v1h-1zM1049 375h1v1h-1zM1050 375h1v1h-1zM1051 375h1v1h-1zM1052 375h1v1h-1zM1053 375h1v1h-1zM1054 375h1v1h-1zM1055 375h1v1h-1zM1056 375h1v1h-1zM1057 375h1v1h-1zM1058 375h1v1h-1zM1059 375h1v1h-1zM1060 375h1v1h-1zM1061 375h1v1h-1zM1062 375h1v1h-1zM1063 375h1v1h-1zM1064 375h1v1h-1zM1065 375h1v1h-1zM1066 375h1v1h-1zM1067 375h1v1h-1zM1068 376h1v1h-1zM1069 376h1v1h-1zM1070 376h1v1h-1zM1071 377h1v1h-1zM1072 377h1v1h-1zM1073 378h1v1h-1zM1074 378h1v1h-1zM1075 379h1v1h-1zM1076 380h1v1h-1zM1077 381h1v1h-1zM1078 382h1v1h-1zM1079 383h1v1h-1zM1080 384h1v1h-1zM1081 384h1v1h-1zM1082 385h1v1h-1zM1083 386h1v1h-1zM1084 387h1v1h-1zM1085 388h1v1h-1zM1086 389h1v1h-1zM1087 390h1v1h-1zM1088 391h1v1h-1zM1089 392h1v1h-1zM1090 393h1v1h-1zM1091 394h1v1h-1zM1092 395h1v1h-1zM1093 395h1v1h-1zM1094 396h1v1h-1zM1095 397h1v1h-1zM1096 398h1v1h-1zM1097 398h1v1h-1zM1098 399h1v1h-1zM1099 400h1v1h-1zM1100 401h1v1h-1zM1101 401h1v1h-1zM1102 402h1v1h-1zM1103 402h1v1h-1zM1104 403h1v1h-1zM1105 403h1v1h-1zM1106 403h1v1h-1zM1107 404h1v1h-1zM1108 404h1v1h-1zM1109 405h1v1h-1zM1110 405h1v1h-1zM1111 406h1v1h-1zM1112 407h1v1h-1zM1113 407h1v1h-1zM1114 408h1v1h-1zM1115 409h1v1h-1zM1116 410h1v1h-1zM1117 411h1v1h-1zM1118 412h1v1h-1zM1119 413h1v1h-1zM1120 414h1v1h-1zM1121 415h1v1h-1zM1122 416h1v1h-1zM1123 417h1v1h-1zM1124 418h1v1h-1zM1125 419h1v1h-1zM1126 420h1v1h-1zM1127 421h1v1h-1zM1128 422h1v1h-1zM1129 423h1v1h-1zM1130 424h1v1h-1zM1131 425h1v1h-1zM1132 426h1v1h-1zM1133 427h1v1h-1zM1134 428h1v1h-1zM1135 429h1v1h-1zM1136 430h1v1h-1zM1137 431h1v1h-1zM1138 432h1v1h-1zM1139 433h1v1h-1zM1140 434h1v1h-1zM1141 434h1v1h-1zM1142 435h1v1h-1zM1143 436h1v1h-1zM1144 436h1v1h-1zM1145 437h1v1h-1zM1146 437h1v1h-1zM1147 438h1v1h-1zM1148 439h1v1h-1zM1149 439h1v1h-1zM1150 440h1v1h-1zM1151 441h1v1h-1zM1152 442h1v1h-1zM1153 442h1v1h-1zM1154 443h1v1h-1zM1155 444h1v1h-1zM1156 445h1v1h-1zM1157 445h1v1h-1zM1158 446h1v1h-1zM1159 447h1v1h-1zM1160 448h1v1h-1zM1161 449h1v1h-1zM1162 450h1v1h-1zM1163 451h1v1h-1zM1164 452h1v1h-1zM1165 453h1v1h-1zM1166 454h1v1h-1zM1167 455h1v1h-1zM1168 456h1v1h-1zM1169 457h1v1h-1zM1170 458h1v1h-1zM1171 459h1v1h-1zM1172 460h1v1h-1zM1173 460h1v1h-1zM1174 461h1v1h-1zM1175 462h1v1h-1zM1176 463h1v1h-1zM1177 463h1v1h-1zM1178 464h1v1h-1zM1179 465h1v1h-1zM1180 466h1v1h-1zM1181 467h1v1h-1zM1182 468h1v1h-1zM1183 469h1v1h-1zM1184 470h1v1h-1zM1185 470h1v1h-1zM1186 471h1v1h-1zM1187 472h1v1h-1zM1188 472h1v1h-1zM1189 473h1v1h-1zM1190 473h1v1h-1zM1191 474h1v1h-1zM1192 474h1v1h-1zM1193 475h1v1h-1zM1194 475h1v1h-1zM1195 475h1v1h-1zM1196 475h1v1h-1zM1197 475h1v1h-1zM1198 475h1v1h-1zM1199 475h1v1h-1zM1200 475h1v1h-1zM1201 475h1v1h-1zM1202 475h1v1h-1zM1203 475h1v1h-1zM1204 476h1v1h-1zM1205 476h1v1h-1zM1206 476h1v1h-1zM1207 476h1v1h-1zM1208 476h1v1h-1zM1209 476h1v1h-1zM1210 476h1v1h-1zM1211 476h1v1h-1zM1212 476h1v1h-1zM1213 476h1v1h-1zM1214 476h1v1h-1zM1215 476h1v1h-1zM1216 476h1v1h-1zM1217 476h1v1h-1zM1218 476h1v1h-1zM1219 476h1v1h-1zM1220 475h1v1h-1zM1221 475h1v1h-1zM1222 475h1v1h-1zM1223 475h1v1h-1zM1224 475h1v1h-1zM1225 475h1v1h-1zM1226 475h1v1h-1zM1227 475h1v1h-1zM1228 475h1v1h-1zM1229 475h1v1h-1zM1230 475h1v1h-1zM1231 475h1v1h-1zM1232 475h1v1h-1zM1233 475h1v1h-1zM1234 475h1v1h-1zM1235 475h1v1h-1zM1236 475h1v1h-1zM1237 475h1v1h-1zM1238 475h1v1h-1zM1239 475h1v1h-1zM1240 475h1v1h-1zM1241 475h1v1h-1zM1242 475h1v1h-1zM1243 475h1v1h-1zM1244 475h1v1h-1zM1245 475h1v1h-1zM1246 475h1v1h-1zM1247 475h1v1h-1zM1248 474h1v1h-1zM1249 474h1v1h-1zM1250 474h1v1h-1zM1251 474h1v1h-1zM1252 474h1v1h-1zM1253 474h1v1h-1zM1254 474h1v1h-1zM1255 474h1v1h-1zM1256 474h1v1h-1zM1257 474h1v1h-1zM1258 474h1v1h-1zM1259 474h1v1h-1zM1260 474h1v1h-1zM1261 474h1v1h-1zM1262 474h1v1h-1zM1263 474h1v1h-1zM1264 474h1v1h-1zM1265 474h1v1h-1zM1266 474h1v1h-1z"/>
<path fill="#ff0000" d="M2 133h1v1h-1zM3 133h1v1h-1zM4 133h1v1h-1zM5 133h1v1h-1zM6 133h1v1h-1zM7 134h1v1h-1zM8 134h1v1h-1zM9 135h1v1h-1zM10 135h1v1h-1zM11 135h1v1h-1zM12 134h1v1h-1zM13 134h1v1h-1zM14 134h1v1h-1zM15 134h1v1h-1zM16 133h1v1h-1zM17 133h1v1h-1zM18 133h1v1h-1zM19 133h1v1h-1zM20 133h1v1h-1zM21 133h1v1h-1zM22 133h1v1h-1zM23 133h1v1h-1zM24 133h1v1h-1zM25 133h1v1h-1zM26 133h1v1h-1zM27 133h1v1h-1zM28 134h1v1h-1zM29 134h1v1h-1zM30 134h1v1h-1zM31 134h1v1h-1zM32 134h1v1h-1zM33 134h1v1h-1zM34 134h1v1h-1zM35 134h1v1h-1zM36 133h1v1h-1zM37 133h1v1h-1zM38 133h1v1h-1zM39 133h1v1h-1zM40 132h1v1h-1zM41 132h1v1h-1zM42 132h1v1h-1zM43 131h1v1h-1zM44 131h1v1h-1zM45 130h1v1h-1zM46 130h1v1h-1zM47 129h1v1h-1zM48 129h1v1h-1zM49 128h1v1h-1zM50 128h1v1h-1zM51 127h1v1h-1zM52 127h1v1h-1zM53 126h1v1h-1zM54 126h1v1h-1zM55 125h1v1h-1zM56 125h1v1h-1zM57 124h1v1h-1zM58 124h1v1h-1zM59 123h1v1h-1zM60 123h1v1h-1zM61 122h1v1h-1zM62 122h1v1h-1zM63 121h1v1h-1zM64 121h1v1h-1zM65 120h1v1h-1zM66 120h1v1h-1zM67 119h1v1h-1zM68 119h1v1h-1zM69 118h1v1h-1zM70 118h1v1h-1zM71 117h1v1h-1zM72 117h1v1h-1zM73 116h1v1h-1zM74 116h1v1h-1zM75 115h1v1h-1zM76 114h1v1h-1zM77 113h1v1h-1zM78 112h1v1h-1zM79 111h1v1h-1zM80 109h1v2h-1zM81 108h1v1h-1zM82 107h1v1h-1zM83 106h1v1h-1zM84 104h1v2h-1zM85 103h1v1h-1zM86 102h1v1h-1zM87 101h1v1h-1zM88 99h1v2h-1zM89 98h1v1h-1zM90 97h1v1h-1zM91 96h1v1h-1zM92 95h1v1h-1zM93 94h1v1h-1zM94 93h1v1h-1zM95 92h1v1h-1zM96 92h1v1h-1zM97 91h1v1h-1zM98 91h1v1h-1zM99 91h1v1h-1zM100 90h1v1h-1zM101 90h1v1h-1zM102 90h1v1h-1zM103 90h1v1h-1zM104 90h1v1h-1zM105 90h1v1h-1zM106 90h1v1h-1zM107 90h1v1h-1zM108 90h1v1h-1zM109 90h1v1h-1zM110 90h1v1h-1zM111 90h1v1h-1zM112 90h1v1h-1zM113 90h1v1h-1zM114 90h1v1h-1zM115 91h1v1h-1zM116 91h1v1h-1zM117 92h1v1h-1zM118 92h1v1h-1zM119 93h1v1h-1zM120 94h1v1h-1zM121 94h1v1h-1zM122 95h1v1h-1zM123 96h1v1h-1zM124 97h1v1h-1zM125 98h1v1h-1zM126 99h1v1h-1zM127 100h1v2h-1zM128 102h1v1h-1zM129 103h1v2h-1zM130 105h1v1h-1zM131 106h1v2h-1zM132 108h1v2h-1zM133 110h1v2h-1zM134 112h1v2h-1zM135 114h1v2h-1zM136 116h1v2h-1zM137 118h1v2h-1zM138 120h1v3h-1zM139 123h1v2h-1zM140 125h1v2h-1zM141 127h1v2h-1zM142 129h1v3h-1zM143 132h1v3h-1zM144 135h1v4h-1zM145 139h1v3h-1zM146 142h1v3h-1zM147 145h1v4h-1zM148 149h1v3h-1zM149 152h1v4h-1zM150 156h1v3h-1zM151 159h1v4h-1zM152 163h1v3h-1zM153 166h1v4h-1zM154 170h1v3h-1zM155 173h1v4h-1zM156 177h1v3h-1zM157 180h1v4h-1zM158 184h1v3h-1zM159 187h1v3h-1zM160 190h1v2h-1zM161 192h1v3h-1zM162 195h1v2h-1zM163 197h1v2h-1zM164 199h1v2h-1zM165 201h1v2h-1zM166 203h1v1h-1zM167 204h1v2h-1zM168 206h1v2h-1zM169 208h1v2h-1zM170 210h1v1h-1zM171 211h1v1h-1zM172 212h1v2h-1zM173 214h1v1h-1zM174 215h1v1h-1zM175 216h1v2h-1zM176 218h1v1h-1zM177 219h1v2h-1zM178 221h1v1h-1zM179 221h1v1h-1zM180 221h1v1h-1zM181 221h1v1h-1zM182 221h1v1h-1zM183 220h1v1h-1zM184 219h1v1h-1zM185 218h1v1h-1zM186 217h1v1h-1zM187 215h1v2h-1zM188 213h1v2h-1zM189 211h1v2h-1zM190 208h1v3h-1zM191 206h1v2h-1zM192 203h1v3h-1zM193 201h1v2h-1zM194 198h1v3h-1zM195 195h1v3h-1zM196 193h1v2h-1zM197 190h1v3h-1zM198 187h1v3h-1zM199 184h1v3h-1zM200 180h1v4h-1zM201 177h1v3h-1zM202 174h1v3h-1zM203 170h1v4h-1zM204 167h1v3h-1zM205 163h1v4h-1zM206 160h1v3h-1zM207 156h1v4h-1zM208 153h1v3h-1zM209 149h1v4h-1zM210 146h1v3h-1zM211 144h1v2h-1zM212 142h1v2h-1zM213 140h1v2h-1zM214 138h1v2h-1zM215 136h1v2h-1zM216 135h1v1h-1zM217 133h1v2h-1zM218 132h1v1h-1zM219 132h1v1h-1zM220 133h1v1h-1zM221 133h1v1h-1zM222 133h1v1h-1zM223 132h1v1h-1zM224 132h1v1h-1zM225 131h1v1h-1zM226 131h1v1h-1zM227 130h1v1h-1zM228 129h1v1h-1zM229 129h1v1h-1zM230 128h1v1h-1zM231 126h1v2h-1zM232 125h1v1h-1zM233 123h1v2h-1zM234 122h1v1h-1zM235 121h1v1h-1zM236 121h1v1h-1zM237 120h1v1h-1zM238 120h1v1h-1zM239 119h1v1h-1zM240 119h1v1h-1zM241 118h1v1h-1zM242 118h1v1h-1zM243 119h1v1h-1zM244 120h1v1h-1zM245 120h1v1h-1zM246 121h1v1h-1zM247 122h1v1h-1zM248 123h1v1h-1zM249 123h1v1h-1zM250 124h1v1h-1zM251 125h1v1h-1zM252 126h1v2h-1zM253 128h1v1h-1zM254 129h1v1h-1zM255 130h1v1h-1zM256 131h1v1h-1zM257 132h1v1h-1zM258 133h1v1h-1zM259 134h1v1h-1zM260 135h1v1h-1zM261 136h1v1h-1zM262 137h1v1h-1zM263 138h1v1h-1zM264 139h1v1h-1zM265 140h1v1h-1zM266 141h1v1h-1zM267 141h1v1h-1zM268 141h1v1h-1zM269 141h1v1h-1zM270 141h1v1h-1zM271 140h1v1h-1zM272 139h1v1h-1zM273 139h1v1h-1zM274 138h1v1h-1zM275 137h1v1h-1zM276 137h1v1h-1zM277 136h1v1h-1zM278 136h1v1h-1zM279 135h1v1h-1zM280 135h1v1h-1zM281 134h1v1h-1zM282 134h1v1h-1zM283 133h1v1h-1zM284 133h1v1h-1zM285 132h1v1h-1zM286 132h1v1h-1zM287 132h1v1h-1zM288 133h1v1h-1zM289 133h1v1h-1zM290 133h1v1h-1zM291 133h1v1h-1zM292 134h1v1h-1zM293 134h1v1h-1zM294 134h1v1h-1zM295 135h1v1h-1zM296 136h1v1h-1zM297 136h1v1h-1zM298 137h1v1h-1zM299 138h1v1h-1zM300 138h1v1h-1zM301 139h1v1h-1zM302 139h1v1h-1zM303 140h1v1h-1zM304 140h1v1h-1zM305 141h1v1h-1zM306 141h1v1h-1zM307 141h1v1h-1zM308 140h1v1h-1zM309 140h1v1h-1zM310 140h1v1h-1zM311 140h1v1h-1zM312 139h1v1h-1zM313 139h1v1h-1zM314 139h1v1h-1zM315 138h1v1h-1zM316 138h1v1h-1zM317 137h1v1h-1zM318 137h1v1h-1zM319 136h1v1h-1zM320 135h1v1h-1zM321 134h1v1h-1zM322 133h1v1h-1zM323 132h1v1h-1zM324 132h1v1h-1zM325 131h1v1h-1zM326 131h1v1h-1zM327 130h1v1h-1zM328 129h1v1h-1zM329 129h1v1h-1zM330 128h1v1h-1zM331 127h1v1h-1zM332 127h1v1h-1zM333 126h1v1h-1zM334 126h1v1h-1zM335 127h1v1h-1zM336 127h1v1h-1zM337 128h1v1h-1zM338 128h1v1h-1zM339 129h1v1h-1zM340 129h1v1h-1zM341 130h1v1h-1zM342 130h1v1h-1zM343 130h1v1h-1zM344 130h1v1h-1zM345 130h1v1h-1zM346 130h1v1h-1zM347 130h1v1h-1zM348 129h1v1h-1zM349 129h1v1h-1zM350 129h1v1h-1zM351 128h1v1h-1zM352 128h1v1h-1zM353 127h1v1h-1zM354 127h1v1h-1zM355 126h1v1h-1zM356 126h1v1h-1zM357 125h1v1h-1zM358 125h1v1h-1zM359 125h1v1h-1zM360 125h1v1h-1zM361 125h1v1h-1zM362 125h1v1h-1zM363 125h1v1h-1zM364 126h1v1h-1zM365 126h1v1h-1zM366 126h1v1h-1zM367 126h1v1h-1zM368 127h1v1h-1zM369 127h1v1h-1zM370 127h1v1h-1zM371 128h1v1h-1zM372 128h1v1h-1zM373 129h1v1h-1zM374 129h1v1h-1zM375 130h1v1h-1zM376 130h1v1h-1zM377 131h1v1h-1zM378 131h1v1h-1zM379 131h1v1h-1zM380 131h1v1h-1zM381 131h1v1h-1zM382 131h1v1h-1zM383 131h1v1h-1zM384 132h1v1h-1zM385 132h1v1h-1zM386 132h1v1h-1zM387 131h1v1h-1zM388 131h1v1h-1zM389 130h1v1h-1zM390 130h1v1h-1zM391 129h1v1h-1zM392 128h1v1h-1zM393 128h1v1h-1zM394 127h1v1h-1zM395 126h1v1h-1zM396 125h1v1h-1zM397 125h1v1h-1zM398 124h1v1h-1zM399 124h1v1h-1zM400 124h1v1h-1zM401 124h1v1h-1zM402 124h1v1h-1zM403 124h1v1h-1zM404 125h1v1h-1zM405 125h1v1h-1zM406 125h1v1h-1zM407 125h1v1h-1zM408 125h1v1h-1zM409 125h1v1h-1zM410 125h1v1h-1zM411 125h1v1h-1zM412 126h1v1h-1zM413 126h1v1h-1zM414 126h1v1h-1zM415 126h1v1h-1zM416 126h1v1h-1zM417 126h1v1h-1zM418 126h1v1h-1zM419 126h1v1h-1zM420 127h1v1h-1zM421 127h1v1h-1zM422 127h1v1h-1zM423 127h1v1h-1zM424 127h1v1h-1zM425 127h1v1h-1zM426 127h1v1h-1zM427 128h1v1h-1zM428 128h1v1h-1zM429 129h1v1h-1zM430 129h1v1h-1zM431 130h1v1h-1zM432 130h1v1h-1zM433 131h1v1h-1zM434 131h1v1h-1zM435 132h1v1h-1zM436 133h1v1h-1zM437 133h1v1h-1zM438 134h1v1h-1zM439 135h1v1h-1zM440 136h1v1h-1zM441 137h1v1h-1zM442 138h1v1h-1zM443 139h1v1h-1zM444 140h1v1h-1zM445 140h1v1h-1zM446 141h1v1h-1zM447 142h1v1h-1zM448 143h1v1h-1zM449 143h1v1h-1zM450 144h1v1h-1zM451 145h1v1h-1zM452 146h1v1h-1zM453 147h1v1h-1zM454 148h1v1h-1zM455 148h1v1h-1zM456 149h1v1h-1zM457 149h1v1h-1zM458 149h1v1h-1zM459 150h1v1h-1zM460 150h1v1h-1zM461 151h1v1h-1zM462 151h1v1h-1zM463 152h1v1h-1zM464 153h1v2h-1zM465 155h1v1h-1zM466 156h1v1h-1zM467 157h1v2h-1zM468 159h1v2h-1zM469 161h1v2h-1zM470 163h1v1h-1zM471 164h1v2h-1zM472 166h1v2h-1zM473 168h1v2h-1zM474 170h1v2h-1zM475 172h1v2h-1zM476 174h1v2h-1zM477 176h1v2h-1zM478 178h1v2h-1zM479 180h1v2h-1zM480 182h1v1h-1zM481 183h1v2h-1zM482 185h1v1h-1zM483 186h1v1h-1zM484 186h1v1h-1zM485 187h1v1h-1zM486 187h1v1h-1zM487 188h1v1h-1zM488 189h1v1h-1zM489 190h1v1h-1zM490 191h1v1h-1zM491 192h1v1h-1zM492 193h1v1h-1zM493 194h1v1h-1zM494 195h1v1h-1zM495 196h1v1h-1zM496 197h1v1h-1zM497 197h1v1h-1zM498 198h1v1h-1zM499 199h1v1h-1zM500 200h1v1h-1zM501 200h1v1h-1zM502 201h1v1h-1zM503 202h1v1h-1zM504 202h1v1h-1zM505 203h1v1h-1zM506 203h1v1h-1zM507 204h1v1h-1zM508 204h1v1h-1zM509 205h1v1h-1zM510 205h1v1h-1zM511 206h1v1h-1zM512 207h1v1h-1zM513 208h1v1h-1zM514 209h1v1h-1zM515 210h1v2h-1zM516 212h1v1h-1zM517 213h1v2h-1zM518 215h1v1h-1zM519 216h1v1h-1zM520 217h1v1h-1zM521 217h1v1h-1zM522 218h1v1h-1zM523 218h1v1h-1zM524 218h1v1h-1zM525 218h1v1h-1zM526 218h1v1h-1zM527 218h1v1h-1zM528 217h1v1h-1zM529 217h1v1h-1zM530 217h1v1h-1zM531 216h1v1h-1zM532 215h1v1h-1zM533 215h1v1h-1zM534 214h1v1h-1zM535 214h1v1h-1zM536 214h1v1h-1zM537 214h1v1h-1zM538 214h1v1h-1zM539 215h1v1h-1zM540 216h1v1h-1zM541 216h1v1h-1zM542 217h1v1h-1zM543 217h1v1h-1zM544 218h1v1h-1zM545 218h1v1h-1zM546 218h1v1h-1zM547 218h1v1h-1zM548 219h1v1h-1zM549 219h1v1h-1zM550 219h1v1h-1zM551 220h1v1h-1zM552 220h1v1h-1zM553 221h1v1h-1zM554 221h1v1h-1zM555 222h1v1h-1zM556 222h1v1h-1zM557 223h1v1h-1zM558 223h1v1h-1zM559 224h1v1h-1zM560 225h1v1h-1zM561 225h1v1h-1zM562 226h1v1h-1zM563 227h1v1h-1zM564 228h1v1h-1zM565 228h1v1h-1zM566 229h1v1h-1zM567 230h1v1h-1zM568 231h1v1h-1zM569 231h1v1h-1zM570 232h1v1h-1zM571 232h1v1h-1zM572 233h1v1h-1zM573 233h1v1h-1zM574 233h1v1h-1zM575 234h1v1h-1zM576 234h1v1h-1zM577 235h1v1h-1zM578 235h1v1h-1zM579 236h1v1h-1zM580 237h1v1h-1zM581 237h1v1h-1zM582 238h1v1h-1zM583 239h1v1h-1zM584 239h1v1h-1zM585 240h1v1h-1zM586 240h1v1h-1zM587 241h1v1h-1zM588 241h1v1h-1zM589 242h1v1h-1zM590 242h1v1h-1zM591 243h1v1h-1zM592 243h1v1h-1zM593 244h1v1h-1zM594 244h1v1h-1zM595 244h1v1h-1zM596 245h1v1h-1zM597 245h1v1h-1zM598 245h1v1h-1zM599 246h1v1h-1zM600 246h1v1h-1zM601 247h1v1h-1zM602 247h1v1h-1zM603 248h1v1h-1zM604 248h1v1h-1zM605 249h1v1h-1zM606 249h1v1h-1zM607 250h1v1h-1zM608 250h1v1h-1zM609 251h1v1h-1zM610 251h1v1h-1zM611 252h1v1h-1zM612 253h1v1h-1zM613 253h1v1h-1zM614 254h1v1h-1zM615 255h1v1h-1zM616 256h1v1h-1zM617 257h1v1h-1zM618 258h1v1h-1zM619 259h1v1h-1zM620 260h1v2h-1zM621 262h1v1h-1zM622 263h1v1h-1zM623 264h1v1h-1zM624 265h1v2h-1zM625 267h1v1h-1zM626 268h1v1h-1zM627 269h1v1h-1zM628 270h1v2h-1zM629 272h1v1h-1zM630 273h1v1h-1zM631 274h1v2h-1zM632 276h1v1h-1zM633 277h1v2h-1zM634 279h1v1h-1zM635 280h1v2h-1zM636 282h1v2h-1zM637 284h1v2h-1zM638 286h1v1h-1zM639 287h1v2h-1zM640 289h1v2h-1zM641 291h1v2h-1zM642 293h1v2h-1zM643 295h1v2h-1zM644 297h1v2h-1zM645 299h1v2h-1zM646 301h1v3h-1zM647 304h1v2h-1zM648 306h1v2h-1zM649 308h1v2h-1zM650 310h1v3h-1zM651 313h1v2h-1zM652 315h1v2h-1zM653 317h1v2h-1zM654 319h1v2h-1zM655 321h1v2h-1zM656 323h1v1h-1zM657 324h1v2h-1zM658 326h1v1h-1zM659 327h1v2h-1zM660 329h1v2h-1zM661 331h1v2h-1zM662 333h1v2h-1zM663 335h1v2h-1zM664 337h1v3h-1zM665 340h1v2h-1zM666 342h1v2h-1zM667 344h1v2h-1zM668 346h1v2h-1zM669 348h1v2h-1zM670 350h1v1h-1zM671 351h1v1h-1zM672 352h1v1h-1zM673 353h1v1h-1zM674 354h1v1h-1zM675 355h1v1h-1zM676 356h1v1h-1zM677 357h1v1h-1zM678 358h1v1h-1zM679 359h1v1h-1zM680 359h1v1h-1zM681 360h1v1h-1zM682 360h1v1h-1zM683 360h1v1h-1zM684 361h1v1h-1zM685 361h1v1h-1zM686 361h1v1h-1zM687 362h1v1h-1zM688 363h1v1h-1zM689 363h1v1h-1zM690 364h1v1h-1zM691 365h1v1h-1zM692 365h1v1h-1zM693 366h1v1h-1zM694 366h1v1h-1zM695 367h1v1h-1zM696 367h1v1h-1zM697 368h1v1h-1zM698 368h1v1h-1zM699 368h1v1h-1zM700 369h1v1h-1zM701 369h1v1h-1zM702 369h1v1h-1zM703 369h1v1h-1zM704 370h1v1h-1zM705 370h1v1h-1zM706 370h1v1h-1zM707 371h1v1h-1zM708 372h1v1h-1zM709 372h1v1h-1zM710 373h1v1h-1zM711 374h1v1h-1zM712 375h1v1h-1zM713 375h1v1h-1zM714 376h1v1h-1zM715 377h1v1h-1zM716 377h1v1h-1zM717 378h1v1h-1zM718 378h1v1h-1zM719 377h1v1h-1zM720 376h1v1h-1zM721 376h1v1h-1zM722 375h1v1h-1zM723 375h1v1h-1zM724 375h1v1h-1zM725 375h1v1h-1zM726 375h1v1h-1zM727 375h1v1h-1zM728 376h1v1h-1zM729 376h1v1h-1zM730 376h1v1h-1zM731 376h1v1h-1zM732 377h1v1h-1zM733 377h1v1h-1zM734 377h1v1h-1zM735 378h1v1h-1zM736 378h1v1h-1zM737 379h1v1h-1zM738 379h1v1h-1zM739 380h1v1h-1zM740 381h1v1h-1zM741 381h1v1h-1zM742 382h1v1h-1zM743 383h1v1h-1zM744 383h1v1h-1zM745 384h1v1h-1zM746 384h1v1h-1zM747 384h1v1h-1zM748 385h1v1h-1zM749 385h1v1h-1zM750 385h1v1h-1zM751 386h1v1h-1zM752 386h1v1h-1zM753 387h1v1h-1zM754 387h1v1h-1zM755 387h1v1h-1zM756 388h1v1h-1zM757 388h1v1h-1zM758 388h1v1h-1zM759 388h1v1h-1zM760 387h1v1h-1zM761 387h1v1h-1zM762 387h1v1h-1zM763 386h1v1h-1zM764 385h1v1h-1zM765 385h1v1h-1zM766 384h1v1h-1zM767 384h1v1h-1zM768 384h1v1h-1zM769 384h1v1h-1zM770 384h1v1h-1zM771 383h1v1h-1zM772 383h1v1h-1zM773 382h1v1h-1zM774 382h1v1h-1zM775 382h1v1h-1zM776 382h1v1h-1zM777 382h1v1h-1zM778 382h1v1h-1zM779 381h1v1h-1zM780 381h1v1h-1zM781 380h1v1h-1zM782 380h1v1h-1zM783 380h1v1h-1zM784 380h1v1h-1zM785 380h1v1h-1zM786 380h1v1h-1zM787 380h1v1h-1zM788 380h1v1h-1zM789 380h1v1h-1zM790 380h1v1h-1zM791 380h1v1h-1zM792 380h1v1h-1zM793 380h1v1h-1zM794 380h1v1h-1zM795 380h1v1h-1zM796 379h1v1h-1zM797 379h1v1h-1zM798 379h1v1h-1zM799 379h1v1h-1zM800 378h1v1h-1zM801 378h1v1h-1zM802 378h1v1h-1zM803 378h1v1h-1zM804 377h1v1h-1zM805 377h1v1h-1zM806 377h1v1h-1zM807 376h1v1h-1zM808 376h1v1h-1zM809 375h1v1h-1zM810 375h1v1h-1zM811 375h1v1h-1zM812 374h1v1h-1zM813 374h1v1h-1zM814 374h1v1h-1zM815 374h1v1h-1zM816 375h1v1h-1zM817 375h1v1h-1zM818 375h1v1h-1zM819 375h1v1h-1zM820 375h1v1h-1zM821 375h1v1h-1zM822 375h1v1h-1zM823 375h1v1h-1zM824 374h1v1h-1zM825 374h1v1h-1zM826 374h1v1h-1zM827 373h1v1h-1zM828 373h1v1h-1zM829 372h1v1h-1zM830 372h1v1h-1zM831 371h1v1h-1zM832 371h1v1h-1zM833 370h1v1h-1zM834 370h1v1h-1zM835 369h1v1h-1zM836 368h1v1h-1zM837 368h1v1h-1zM838 367h1v1h-1zM839 366h1v1h-1zM840 364h1v2h-1zM841 363h1v1h-1zM842 362h1v1h-1zM843 360h1v2h-1zM844 359h1v1h-1zM845 357h1v2h-1zM846 356h1v1h-1zM847 355h1v1h-1zM848 353h1v2h-1zM849 352h1v1h-1zM850 351h1v1h-1zM851 350h1v1h-1zM852 349h1v1h-1zM853 349h1v1h-1zM854 348h1v1h-1zM855 347h1v1h-1zM856 346h1v1h-1zM857 345h1v1h-1zM858 344h1v1h-1zM859 343h1v1h-1zM860 342h1v1h-1zM861 342h1v1h-1zM862 341h1v1h-1zM863 340h1v1h-1zM864 339h1v1h-1zM865 339h1v1h-1zM866 338h1v1h-1zM867 337h1v1h-1zM868 336h1v1h-1zM869 336h1v1h-1zM870 335h1v1h-1zM871 334h1v1h-1zM872 334h1v1h-1zM873 333h1v1h-1zM874 333h1v1h-1zM875 333h1v1h-1zM876 332h1v1h-1zM877 332h1v1h-1zM878 332h1v1h-1zM879 332h1v1h-1zM880 331h1v1h-1zM881 331h1v1h-1zM882 331h1v1h-1zM883 331h1v1h-1zM884 332h1v1h-1zM885 332h1v1h-1zM886 332h1v1h-1zM887 333h1v1h-1zM888 334h1v1h-1zM889 335h1v1h-1zM890 336h1v1h-1zM891 337h1v1h-1zM892 338h1v2h-1zM893 340h1v1h-1zM894 341h1v1h-1zM895 342h1v1h-1zM896 343h1v2h-1zM897 345h1v1h-1zM898 346h1v1h-1zM899 347h1v1h-1zM900 348h1v2h-1zM901 350h1v1h-1zM902 351h1v1h-1zM903 352h1v1h-1zM904 353h1v1h-1zM905 353h1v1h-1zM906 354h1v1h-1zM907 355h1v1h-1zM908 355h1v1h-1zM909 356h1v1h-1zM910 356h1v1h-1zM911 356h1v1h-1zM912 357h1v1h-1zM913 357h1v1h-1zM914 357h1v1h-1zM915 357h1v1h-1zM916 358h1v1h-1zM917 358h1v1h-1zM918 358h1v1h-1zM919 359h1v1h-1zM920 360h1v1h-1zM921 360h1v1h-1zM922 361h1v1h-1zM923 362h1v1h-1zM924 363h1v1h-1zM925 364h1v1h-1zM926 365h1v1h-1zM927 366h1v1h-1zM928 367h1v1h-1zM929 367h1v1h-1zM930 368h1v1h-1zM931 369h1v1h-1zM932 370h1v1h-1zM933 370h1v1h-1zM934 371h1v1h-1zM935 372h1v1h-1zM936 373h1v1h-1zM937 373h1v1h-1zM938 374h1v1h-1zM939 375h1v1h-1zM940 376h1v1h-1zM941 377h1v1h-1zM942 378h1v1h-1zM943 378h1v1h-1zM944 379h1v1h-1zM945 379h1v1h-1zM946 379h1v1h-1zM947 379h1v1h-1zM948 380h1v1h-1zM949 380h1v1h-1zM950 380h1v1h-1zM951 380h1v1h-1zM952 380h1v1h-1zM953 380h1v1h-1zM954 380h1v1h-1zM955 380h1v1h-1zM956 379h1v1h-1zM957 379h1v1h-1zM958 379h1v1h-1zM959 379h1v1h-1zM960 378h1v1h-1zM961 378h1v1h-1zM962 378h1v1h-1zM963 378h1v1h-1zM964 378h1v1h-1zM965 378h1v1h-1zM966 378h1v1h-1zM967 377h1v1h-1zM968 377h1v1h-1zM969 376h1v1h-1zM970 376h1v1h-1zM971 376h1v1h-1zM972 377h1v1h-1zM973 377h1v1h-1zM974 377h1v1h-1zM975 377h1v1h-1zM976 376h1v1h-1zM977 376h1v1h-1zM978 376h1v1h-1zM979 376h1v1h-1zM980 377h1v1h-1zM981 377h1v1h-1zM982 377h1v1h-1zM983 377h1v1h-1zM984 378h1v1h-1zM985 378h1v1h-1zM986 378h1v1h-1zM987 379h1v1h-1zM988 380h1v1h-1zM989 380h1v1h-1zM990 381h1v1h-1zM991 380h1v1h-1zM992 380h1v1h-1zM993 379h1v1h-1zM994 379h1v1h-1zM995 378h1v1h-1zM996 377h1v1h-1zM997 377h1v1h-1zM998 376h1v1h-1zM999 375h1v1h-1zM1000 374h1v1h-1zM1001 374h1v1h-1zM1002 373h1v1h-1zM1003 372h1v1h-1zM1004 372h1v1h-1zM1005 371h1v1h-1zM1006 371h1v1h-1zM1007 371h1v1h-1zM1008 370h1v1h-1zM1009 370h1v1h-1zM1010 370h1v1h-1zM1011 370h1v1h-1zM1012 371h1v1h-1zM1013 371h1v1h-1zM1014 371h1v1h-1zM1015 371h1v1h-1zM1016 372h1v1h-1zM1017 372h1v1h-1zM1018 372h1v1h-1zM1019 373h1v1h-1zM1020 373h1v1h-1zM1021 374h1v1h-1zM1022 374h1v1h-1zM1023 375h1v1h-1zM1024 376h1v1h-1zM1025 376h1v1h-1zM1026 377h1v1h-1zM1027 377h1v1h-1zM1028 377h1v1h-1zM1029 377h1v1h-1zM1030 377h1v1h-1zM1031 377h1v1h-1zM1032 377h1v1h-1zM1033 377h1v1h-1zM1034 377h1v1h-1zM1035 377h1v1h-1zM1036 376h1v1h-1zM1037 376h1v1h-1zM1038 376h1v1h-1zM1039 375h1v1h-1zM1040 374h1v1h-1zM1041 373h1v1h-1zM1042 372h1v1h-1zM1043 371h1v1h-1zM1044 370h1v1h-1zM1045 369h1v1h-1zM1046 368h1v1h-1zM1047 368h1v1h-1zM1048 368h1v1h-1zM1049 368h1v1h-1zM1050 368h1v1h-1zM1051 369h1v1h-1zM1052 369h1v1h-1zM1053 370h1v1h-1zM1054 370h1v1h-1zM1055 371h1v1h-1zM1056 372h1v1h-1zM1057 373h1v1h-1zM1058 374h1v1h-1zM1059 375h1v1h-1zM1060 376h1v1h-1zM1061 376h1v1h-1zM1062 377h1v1h-1zM1063 378h1v1h-1zM1064 378h1v1h-1zM1065 379h1v1h-1zM1066 379h1v1h-1zM1067 380h1v1h-1zM1068 381h1v1h-1zM1069 382h1v1h-1zM1070 383h1v1h-1zM1071 384h1v1h-1zM1072 385h1v2h-1zM1073 387h1v1h-1zM1074 388h1v1h-1zM1075 389h1v2h-1zM1076 391h1v1h-1zM1077 392h1v2h-1zM1078 394h1v1h-1zM1079 395h1v1h-1zM1080 396h1v2h-1zM1081 398h1v1h-1zM1082 399h1v1h-1zM1083 400h1v2h-1zM1084 402h1v2h-1zM1085 404h1v2h-1zM1086 406h1v1h-1zM1087 407h1v2h-1zM1088 409h1v1h-1zM1089 410h1v2h-1zM1090 412h1v1h-1zM1091 413h1v2h-1zM1092 415h1v2h-1zM1093 417h1v2h-1zM1094 419h1v1h-1zM1095 420h1v2h-1zM1096 422h1v2h-1zM1097 424h1v2h-1zM1098 426h1v1h-1zM1099 427h1v2h-1zM1100 429h1v2h-1zM1101 431h1v2h-1zM1102 433h1v1h-1zM1103 434h1v2h-1zM1104 436h1v1h-1zM1105 437h1v2h-1zM1106 439h1v1h-1zM1107 440h1v1h-1zM1108 441h1v2h-1zM1109 443h1v1h-1zM1110 444h1v1h-1zM1111 445h1v1h-1zM1112 446h1v2h-1zM1113 448h1v1h-1zM1114 449h1v1h-1zM1115 450h1v2h-1zM1116 452h1v1h-1zM1117 453h1v2h-1zM1118 455h1v1h-1zM1119 456h1v2h-1zM1120 458h1v1h-1zM1121 459h1v2h-1zM1122 461h1v1h-1zM1123 462h1v1h-1zM1124 463h1v1h-1zM1125 464h1v1h-1zM1126 465h1v1h-1zM1127 466h1v1h-1zM1128 467h1v1h-1zM1129 468h1v1h-1zM1130 469h1v1h-1zM1131 470h1v1h-1zM1132 470h1v1h-1zM1133 471h1v1h-1zM1134 471h1v1h-1zM1135 471h1v1h-1zM1136 472h1v1h-1zM1137 472h1v1h-1zM1138 472h1v1h-1zM1139 472h1v1h-1zM1140 472h1v1h-1zM1141 472h1v1h-1zM1142 472h1v1h-1zM1143 472h1v1h-1zM1144 472h1v1h-1zM1145 472h1v1h-1zM1146 472h1v1h-1zM1147 472h1v1h-1zM1148 471h1v1h-1zM1149 471h1v1h-1zM1150 471h1v1h-1zM1151 471h1v1h-1zM1152 471h1v1h-1zM1153 471h1v1h-1zM1154 471h1v1h-1zM1155 471h1v1h-1zM1156 470h1v1h-1zM1157 470h1v1h-1zM1158 470h1v1h-1zM1159 471h1v1h-1zM1160 471h1v1h-1zM1161 472h1v1h-1zM1162 472h1v1h-1zM1163 473h1v1h-1zM1164 473h1v1h-1zM1165 474h1v1h-1zM1166 474h1v1h-1zM1167 474h1v1h-1zM1168 475h1v1h-1zM1169 475h1v1h-1zM1170 475h1v1h-1zM1171 475h1v1h-1zM1172 475h1v1h-1zM1173 475h1v1h-1zM1174 475h1v1h-1zM1175 476h1v1h-1zM1176 476h1v1h-1zM1177 477h1v1h-1zM1178 477h1v1h-1zM1179 477h1v1h-1zM1180 478h1v1h-1zM1181 478h1v1h-1zM1182 478h1v1h-1zM1183 479h1v1h-1zM1184 479h1v1h-1zM1185 480h1v1h-1zM1186 480h1v1h-1zM1187 480h1v1h-1zM1188 479h1v1h-1zM1189 479h1v1h-1zM1190 479h1v1h-1zM1191 479h1v1h-1zM1192 480h1v1h-1zM1193 480h1v1h-1zM1194 480h1v1h-1zM1195 480h1v1h-1zM1196 481h1v1h-1zM1197 481h1v1h-1zM1198 481h1v1h-1zM1199 481h1v1h-1zM1200 481h1v1h-1zM1201 481h1v1h-1zM1202 481h1v1h-1zM1203 481h1v1h-1zM1204 481h1v1h-1zM1205 481h1v1h-1zM1206 481h1v1h-1zM1207 481h1v1h-1zM1208 482h1v1h-1zM1209 482h1v1h-1zM1210 482h1v1h-1zM1211 482h1v1h-1zM1212 483h1v1h-1zM1213 483h1v1h-1zM1214 483h1v1h-1zM1215 482h1v1h-1zM1216 482h1v1h-1zM1217 481h1v1h-1zM1218 481h1v1h-1zM1219 480h1v1h-1zM1220 480h1v1h-1zM1221 479h1v1h-1zM1222 479h1v1h-1zM1223 478h1v1h-1zM1224 478h1v1h-1zM1225 477h1v1h-1zM1226 477h1v1h-1zM1227 476h1v1h-1zM1228 476h1v1h-1zM1229 475h1v1h-1zM1230 475h1v1h-1zM1231 474h1v1h-1zM1232 473h1v1h-1zM1233 473h1v1h-1zM1234 472h1v1h-1zM1235 471h1v1h-1zM1236 471h1v1h-1zM1237 470h1v1h-1zM1238 470h1v1h-1zM1239 470h1v1h-1zM1240 469h1v1h-1zM1241 469h1v1h-1zM1242 469h1v1h-1zM1243 469h1v1h-1zM1244 469h1v1h-1zM1245 469h1v1h-1zM1246 469h1v1h-1zM1247 468h1v1h-1zM1248 468h1v1h-1zM1249 467h1v1h-1zM1250 467h1v1h-1zM1251 467h1v1h-1zM1252 467h1v1h-1zM1253 467h1v1h-1zM1254 467h1v1h-1zM1255 467h1v1h-1zM1256 468h1v1h-1zM1257 468h1v1h-1zM1258 468h1v1h-1zM1259 468h1v1h-1zM1260 468h1v1h-1zM1261 468h1v1h-1zM1262 468h1v1h-1zM1263 468h1v1h-1zM1264 467h1v1h-1zM1265 467h1v1h-1zM1266 467h1v1h-1z"/>
<path fill="#ffa500" d="M2 131h1v1h-1zM3 131h1v1h-1zM4 131h1v1h-1zM5 131h1v1h-1zM6 131h1v1h-1zM7 130h1v1h-1zM8 130h1v1h-1zM9 129h1v1h-1zM10 129h1v1h-1zM11 128h1v1h-1zM12 127h1v1h-1zM13 126h1v1h-1zM14 125h1v1h-1zM15 124h1v1h-1zM16 123h1v1h-1zM17 122h1v1h-1zM18 121h1v1h-1zM19 122h1v1h-1zM20 122h1v1h-1zM21 123h1v1h-1zM22 123h1v1h-1zM23 124h1v2h-1zM24 126h1v1h-1zM25 127h1v2h-1zM26 129h1v1h-1zM27 130h1v1h-1zM28 131h1v2h-1zM29 133h1v1h-1zM30 134h1v1h-1zM31 135h1v2h-1zM32 137h1v1h-1zM33 138h1v2h-1zM34 140h1v1h-1zM35 141h1v1h-1zM36 142h1v2h-1zM37 144h1v1h-1zM38 145h1v1h-1zM39 144h1v1h-1zM40 143h1v1h-1zM41 142h1v1h-1zM42 140h1v2h-1zM43 138h1v2h-1zM44 136h1v2h-1zM45 134h1v2h-1zM46 131h1v3h-1zM47 128h1v3h-1zM48 126h1v2h-1zM49 123h1v3h-1zM50 120h1v3h-1zM51 118h1v2h-1zM52 116h1v2h-1zM53 114h1v2h-1zM54 112h1v2h-1zM55 110h1v2h-1zM56 108h1v2h-1zM57 106h1v2h-1zM58 105h1v1h-1zM59 104h1v1h-1zM60 103h1v1h-1zM61 103h1v1h-1zM62 102h1v1h-1zM63 101h1v1h-1zM64 101h1v1h-1zM65 100h1v1h-1zM66 100h1v1h-1zM67 100h1v1h-1zM68 99h1v1h-1zM69 99h1v1h-1zM70 99h1v1h-1zM71 98h1v1h-1zM72 97h1v1h-1zM73 96h1v1h-1zM74 95h1v1h-1zM75 94h1v1h-1zM76 93h1v1h-1zM77 93h1v1h-1zM78 92h1v1h-1zM79 91h1v1h-1zM80 90h1v1h-1zM81 89h1v1h-1zM82 88h1v1h-1zM83 87h1v1h-1zM84 86h1v1h-1zM85 85h1v1h-1zM86 84h1v1h-1zM87 83h1v1h-1zM88 82h1v1h-1zM89 81h1v1h-1zM90 80h1v1h-1zM91 80h1v1h-1zM92 79h1v1h-1zM93 79h1v1h-1zM94 79h1v1h-1zM95 80h1v1h-1zM96 81h1v1h-1zM97 81h1v1h-1zM98 82h1v1h-1zM99 83h1v1h-1zM100 84h1v1h-1zM101 84h1v1h-1zM102 85h1v1h-1zM103 86h1v1h-1zM104 87h1v1h-1zM105 87h1v1h-1zM106 88h1v1h-1zM107 89h1v2h-1zM108 91h1v1h-1zM109 92h1v2h-1zM110 94h1v1h-1zM111 95h1v1h-1zM112 96h1v1h-1zM113 97h1v1h-1zM114 98h1v1h-1zM115 99h1v2h-1zM116 101h1v2h-1zM117 103h1v2h-1zM118 105h1v1h-1zM119 106h1v2h-1zM120 108h1v2h-1zM121 110h1v2h-1zM122 112h1v3h-1zM123 115h1v2h-1zM124 117h1v3h-1zM125 120h1v2h-1zM126 122h1v3h-1zM127 125h1v4h-1zM128 129h1v3h-1zM129 132h1v4h-1zM130 136h1v4h-1zM131 140h1v4h-1zM132 144h1v5h-1zM133 149h1v4h-1zM134 153h1v4h-1zM135 157h1v3h-1zM136 160h1v3h-1zM137 163h1v3h-1zM138 166h1v3h-1zM139 169h1v4h-1zM140 173h1v4h-1zM141 177h1v4h-1zM142 181h1v4h-1zM143 185h1v6h-1zM144 191h1v6h-1zM145 197h1v6h-1zM146 203h1v5h-1zM147 208h1v5h-1zM148 213h1v4h-1zM149 217h1v5h-1zM150 222h1v5h-1zM151 227h1v6h-1zM152 233h1v5h-1zM153 238h1v6h-1zM154 244h1v5h-1zM155 249h1v4h-1zM156 253h1v5h-1zM157 258h1v4h-1zM158 262h1v4h-1zM159 266h1v3h-1zM160 269h1v2h-1zM161 271h1v3h-1zM162 274h1v2h-1zM163 270h1v4h-1zM164 267h1v3h-1zM165 263h1v4h-1zM166 260h1v3h-1zM167 256h1v4h-1zM168 253h1v3h-1zM169 249h1v4h-1zM170 245h1v4h-1zM171 240h1v5h-1zM172 234h1v6h-1zM173 229h1v5h-1zM174 225h1v4h-1zM175 222h1v3h-1zM176 219h1v3h-1zM177 216h1v3h-1zM178 212h1v4h-1zM179 206h1v6h-1zM180 201h1v5h-1zM181 195h1v6h-1zM182 191h1v4h-1zM183 187h1v4h-1zM184 183h1v4h-1zM185 179h1v4h-1zM186 173h1v6h-1zM187 167h1v6h-1zM188 161h1v6h-1zM189 155h1v6h-1zM190 148h1v7h-1zM191 142h1v6h-1zM192 135h1v7h-1zM193 129h1v6h-1zM194 121h1v8h-1zM195 112h1v9h-1zM196 104h1v8h-1zM197 95h1v9h-1zM198 89h1v6h-1zM199 85h1v4h-1zM200 81h1v4h-1zM201 77h1v4h-1zM202 75h1v2h-1zM203 73h1v2h-1zM204 71h1v2h-1zM205 69h1v2h-1zM206 68h1v1h-1zM207 69h1v1h-1zM208 70h1v2h-1zM209 72h1v1h-1zM210 73h1v3h-1zM211 76h1v5h-1zM212 81h1v4h-1zM213 85h1v5h-1zM214 90h1v6h-1zM215 96h1v7h-1zM216 103h1v6h-1zM217 109h1v7h-1zM218 116h1v6h-1zM219 122h1v6h-1zM220 128h1v6h-1zM221 134h1v6h-1zM222 140h1v6h-1zM223 146h1v4h-1zM224 150h1v5h-1zM225 155h1v4h-1zM226 159h1v4h-1zM227 163h1v3h-1zM228 166h1v3h-1zM229 169h1v3h-1zM230 172h1v2h-1zM231 172h1v1h-1zM232 172h1v1h-1zM233 171h1v1h-1zM234 170h1v2h-1zM235 166h1v4h-1zM236 163h1v3h-1zM237 159h1v4h-1zM238 155h1v4h-1zM239 150h1v5h-1zM240 145h1v5h-1zM241 140h1v5h-1zM242 136h1v4h-1zM243 133h1v3h-1zM244 129h1v4h-1zM245 126h1v3h-1zM246 123h1v3h-1zM247 120h1v3h-1zM248 117h1v3h-1zM249 114h1v3h-1zM250 112h1v2h-1zM251 111h1v1h-1zM252 111h1v1h-1zM253 110h1v1h-1zM254 110h1v1h-1zM255 110h1v1h-1zM256 111h1v1h-1zM257 111h1v1h-1zM258 111h1v2h-1zM259 113h1v2h-1zM260 115h1v3h-1zM261 118h1v2h-1zM262 120h1v3h-1zM263 123h1v2h-1zM264 125h1v2h-1zM265 127h1v2h-1zM266 129h1v3h-1zM267 132h1v2h-1zM268 134h1v2h-1zM269 136h1v2h-1zM270 138h1v2h-1zM271 140h1v1h-1zM272 141h1v1h-1zM273 142h1v1h-1zM274 143h1v2h-1zM275 145h1v2h-1zM276 147h1v2h-1zM277 149h1v2h-1zM278 151h1v2h-1zM279 152h1v1h-1zM280 153h1v1h-1zM281 153h1v1h-1zM282 153h1v1h-1zM283 152h1v1h-1zM284 151h1v1h-1zM285 150h1v1h-1zM286 149h1v1h-1zM287 149h1v1h-1zM288 148h1v1h-1zM289 148h1v1h-1zM290 148h1v1h-1zM291 148h1v1h-1zM292 147h1v1h-1zM293 147h1v1h-1zM294 147h1v1h-1zM295 146h1v1h-1zM296 144h1v2h-1zM297 143h1v1h-1zM298 142h1v1h-1zM299 141h1v1h-1zM300 140h1v1h-1zM301 140h1v1h-1zM302 139h1v1h-1zM303 138h1v1h-1zM304 138h1v1h-1zM305 137h1v1h-1zM306 137h1v1h-1zM307 135h1v2h-1zM308 134h1v1h-1zM309 132h1v2h-1zM310 131h1v1h-1zM311 129h1v2h-1zM312 128h1v1h-1zM313 126h1v2h-1zM314 125h1v1h-1zM315 123h1v2h-1zM316 121h1v2h-1zM317 119h1v2h-1zM318 118h1v1h-1zM319 117h1v1h-1zM320 115h1v2h-1zM321 114h1v1h-1zM322 113h1v1h-1zM323 112h1v1h-1zM324 111h1v1h-1zM325 111h1v1h-1zM326 110h1v1h-1zM327 109h1v1h-1zM328 109h1v1h-1zM329 108h1v1h-1zM330 108h1v1h-1zM331 109h1v2h-1zM332 111h1v2h-1zM333 113h1v2h-1zM334 115h1v2h-1zM335 117h1v3h-1zM336 120h1v4h-1zM337 124h1v3h-1zM338 127h1v3h-1zM339 130h1v3h-1zM340 133h1v2h-1zM341 135h1v3h-1zM342 138h1v2h-1zM343 140h1v2h-1zM344 142h1v2h-1zM345 144h1v2h-1zM346 146h1v2h-1zM347 148h1v1h-1zM348 149h1v1h-1zM349 149h1v1h-1zM350 150h1v1h-1zM351 148h1v2h-1zM352 147h1v1h-1zM353 145h1v2h-1zM354 143h1v2h-1zM355 140h1v3h-1zM356 136h1v4h-1zM357 133h1v3h-1zM358 131h1v2h-1zM359 129h1v2h-1zM360 127h1v2h-1zM361 125h1v2h-1zM362 124h1v1h-1zM363 123h1v1h-1zM364 121h1v2h-1zM365 120h1v1h-1zM366 119h1v1h-1zM367 119h1v1h-1zM368 119h1v1h-1zM369 119h1v1h-1zM370 119h1v1h-1zM371 120h1v2h-1zM372 122h1v1h-1zM373 123h1v2h-1zM374 125h1v1h-1zM375 126h1v1h-1zM376 127h1v1h-1zM377 127h1v1h-1zM378 128h1v1h-1zM379 127h1v1h-1zM380 127h1v1h-1zM381 126h1v1h-1zM382 126h1v1h-1zM383 125h1v1h-1zM384 125h1v1h-1zM385 124h1v1h-1zM386 124h1v1h-1zM387 124h1v1h-1zM388 124h1v1h-1zM389 124h1v1h-1zM390 124h1v1h-1zM391 124h1v1h-1zM392 123h1v1h-1zM393 123h1v1h-1zM394 123h1v1h-1zM395 122h1v1h-1zM396 122h1v1h-1zM397 121h1v1h-1zM398 121h1v1h-1zM399 122h1v2h-1zM400 124h1v1h-1zM401 125h1v2h-1zM402 127h1v1h-1zM403 128h1v1h-1zM404 129h1v1h-1zM405 129h1v1h-1zM406 130h1v1h-1zM407 130h1v1h-1zM408 129h1v1h-1zM409 129h1v1h-1zM410 129h1v1h-1zM411 129h1v1h-1zM412 128h1v1h-1zM413 128h1v1h-1zM414 128h1v1h-1zM415 128h1v1h-1zM416 129h1v1h-1zM417 129h1v1h-1zM418 129h1v1h-1zM419 128h1v1h-1zM420 128h1v1h-1zM421 127h1v1h-1zM422 127h1v1h-1zM423 127h1v1h-1zM424 127h1v1h-1zM425 127h1v1h-1zM426 127h1v1h-1zM427 128h1v2h-1zM428 130h1v2h-1zM429 132h1v2h-1zM430 134h1v2h-1zM431 136h1v2h-1zM432 138h1v2h-1zM433 140h1v2h-1zM434 142h1v2h-1zM435 144h1v2h-1zM436 146h1v2h-1zM437 148h1v2h-1zM438 150h1v2h-1zM439 152h1v1h-1zM440 153h1v1h-1zM441 154h1v1h-1zM442 155h1v1h-1zM443 156h1v2h-1zM444 158h1v1h-1zM445 159h1v2h-1zM446 161h1v1h-1zM447 162h1v1h-1zM448 163h1v1h-1zM449 163h1v1h-1zM450 164h1v1h-1zM451 165h1v1h-1zM452 166h1v2h-1zM453 168h1v1h-1zM454 169h1v1h-1zM455 169h1v1h-1zM456 168h1v1h-1zM457 168h1v1h-1zM458 168h1v1h-1zM459 168h1v1h-1zM460 168h1v1h-1zM461 168h1v1h-1zM462 168h1v1h-1zM463 169h1v1h-1zM464 170h1v1h-1zM465 171h1v1h-1zM466 172h1v2h-1zM467 174h1v2h-1zM468 176h1v3h-1zM469 179h1v2h-1zM470 181h1v3h-1zM471 184h1v2h-1zM472 186h1v2h-1zM473 188h1v2h-1zM474 190h1v4h-1zM475 194h1v5h-1zM476 199h1v6h-1zM477 205h1v5h-1zM478 210h1v3h-1zM479 213h1v2h-1zM480 215h1v2h-1zM481 217h1v2h-1zM482 219h1v2h-1zM483 221h1v1h-1zM484 221h1v1h-1zM485 222h1v1h-1zM486 222h1v1h-1zM487 222h1v1h-1zM488 221h1v1h-1zM489 221h1v1h-1zM490 221h1v1h-1zM491 220h1v1h-1zM492 219h1v1h-1zM493 218h1v1h-1zM494 216h1v2h-1zM495 214h1v2h-1zM496 211h1v3h-1zM497 209h1v2h-1zM498 207h1v2h-1zM499 207h1v1h-1zM500 207h1v1h-1zM501 207h1v1h-1zM502 207h1v1h-1zM503 208h1v1h-1zM504 208h1v1h-1zM505 209h1v1h-1zM506 209h1v1h-1zM507 209h1v1h-1zM508 208h1v1h-1zM509 208h1v1h-1zM510 208h1v1h-1zM511 208h1v1h-1zM512 209h1v1h-1zM513 209h1v1h-1zM514 209h1v1h-1zM515 210h1v2h-1zM516 212h1v1h-1zM517 213h1v2h-1zM518 215h1v1h-1zM519 216h1v1h-1zM520 217h1v1h-1zM521 218h1v1h-1zM522 219h1v1h-1zM523 220h1v1h-1zM524 221h1v1h-1zM525 221h1v1h-1zM526 222h1v1h-1zM527 223h1v1h-1zM528 224h1v1h-1zM529 224h1v1h-1zM530 225h1v1h-1zM531 225h1v1h-1zM532 225h1v1h-1zM533 225h1v1h-1zM534 225h1v1h-1zM535 223h1v2h-1zM536 222h1v1h-1zM537 220h1v2h-1zM538 219h1v1h-1zM539 219h1v1h-1zM540 220h1v1h-1zM541 220h1v1h-1zM542 220h1v1h-1zM543 221h1v1h-1zM544 221h1v1h-1zM545 222h1v1h-1zM546 222h1v1h-1zM547 223h1v1h-1zM548 223h1v1h-1zM549 224h1v1h-1zM550 224h1v1h-1zM551 225h1v1h-1zM552 225h1v1h-1zM553 226h1v1h-1zM554 226h1v1h-1zM555 227h1v1h-1zM556 228h1v2h-1zM557 230h1v1h-1zM558 231h1v1h-1zM559 232h1v1h-1zM560 233h1v1h-1zM561 234h1v1h-1zM562 235h1v1h-1zM563 236h1v1h-1zM564 237h1v1h-1zM565 238h1v1h-1zM566 239h1v1h-1zM567 240h1v2h-1zM568 242h1v1h-1zM569 243h1v2h-1zM570 245h1v1h-1zM571 246h1v1h-1zM572 247h1v2h-1zM573 249h1v1h-1zM574 250h1v1h-1zM575 251h1v1h-1zM576 252h1v1h-1zM577 253h1v1h-1zM578 254h1v1h-1zM579 254h1v1h-1zM580 254h1v1h-1zM581 254h1v1h-1zM582 254h1v1h-1zM583 254h1v1h-1zM584 254h1v1h-1zM585 254h1v1h-1zM586 254h1v1h-1zM587 254h1v1h-1zM588 254h1v1h-1zM589 254h1v1h-1zM590 254h1v1h-1zM591 253h1v1h-1zM592 252h1v1h-1zM593 251h1v1h-1zM594 250h1v1h-1zM595 249h1v1h-1zM596 248h1v1h-1zM597 248h1v1h-1zM598 247h1v1h-1zM599 248h1v1h-1zM600 248h1v1h-1zM601 249h1v1h-1zM602 249h1v1h-1zM603 250h1v1h-1zM604 250h1v1h-1zM605 251h1v1h-1zM606 251h1v1h-1zM607 251h1v1h-1zM608 251h1v1h-1zM609 251h1v1h-1zM610 251h1v1h-1zM611 252h1v2h-1zM612 254h1v2h-1zM613 256h1v2h-1zM614 258h1v3h-1zM615 261h1v3h-1zM616 264h1v3h-1zM617 267h1v3h-1zM618 270h1v3h-1zM619 273h1v3h-1zM620 276h1v3h-1zM621 279h1v3h-1zM622 282h1v3h-1zM623 285h1v4h-1zM624 289h1v3h-1zM625 292h1v4h-1zM626 296h1v3h-1zM627 299h1v3h-1zM628 302h1v4h-1zM629 306h1v3h-1zM630 309h1v3h-1zM631 312h1v3h-1zM632 315h1v3h-1zM633 318h1v3h-1zM634 321h1v3h-1zM635 324h1v2h-1zM636 326h1v2h-1zM637 328h1v2h-1zM638 330h1v3h-1zM639 333h1v2h-1zM640 335h1v2h-1zM641 337h1v2h-1zM642 339h1v3h-1zM643 342h1v2h-1zM644 344h1v2h-1zM645 346h1v2h-1zM646 348h1v3h-1zM647 351h1v2h-1zM648 353h1v2h-1zM649 355h1v2h-1zM650 357h1v2h-1zM651 359h1v1h-1zM652 360h1v2h-1zM653 362h1v1h-1zM654 363h1v1h-1zM655 363h1v1h-1zM656 362h1v1h-1zM657 362h1v1h-1zM658 362h1v1h-1zM659 361h1v1h-1zM660 361h1v1h-1zM661 360h1v1h-1zM662 360h1v1h-1zM663 361h1v2h-1zM664 363h1v1h-1zM665 364h1v2h-1zM666 366h1v1h-1zM667 366h1v1h-1zM668 367h1v1h-1zM669 367h1v1h-1zM670 367h1v1h-1zM671 367h1v1h-1zM672 367h1v1h-1zM673 367h1v1h-1zM674 367h1v1h-1zM675 368h1v1h-1zM676 369h1v2h-1zM677 371h1v1h-1zM678 372h1v1h-1zM679 372h1v1h-1zM680 372h1v1h-1zM681 372h1v1h-1zM682 371h1v2h-1zM683 369h1v2h-1zM684 367h1v2h-1zM685 365h1v2h-1zM686 363h1v2h-1zM687 363h1v1h-1zM688 362h1v1h-1zM689 362h1v1h-1zM690 362h1v1h-1zM691 363h1v1h-1zM692 364h1v1h-1zM693 364h1v1h-1zM694 365h1v1h-1zM695 366h1v1h-1zM696 367h1v1h-1zM697 368h1v1h-1zM698 369h1v1h-1zM699 370h1v1h-1zM700 371h1v2h-1zM701 373h1v1h-1zM702 374h1v1h-1zM703 375h1v2h-1zM704 377h1v2h-1zM705 379h1v2h-1zM706 381h1v2h-1zM707 383h1v2h-1zM708 385h1v2h-1zM709 387h1v2h-1zM710 389h1v1h-1zM711 389h1v1h-1zM712 388h1v1h-1zM713 388h1v1h-1zM714 388h1v1h-1zM715 388h1v1h-1zM716 388h1v1h-1zM717 388h1v1h-1zM718 388h1v1h-1zM719 387h1v1h-1zM720 386h1v1h-1zM721 386h1v1h-1zM722 385h1v1h-1zM723 384h1v1h-1zM724 382h1v2h-1zM725 381h1v1h-1zM726 380h1v1h-1zM727 378h1v2h-1zM728 376h1v2h-1zM729 374h1v2h-1zM730 373h1v1h-1zM731 374h1v1h-1zM732 375h1v1h-1zM733 375h1v1h-1zM734 376h1v1h-1zM735 376h1v1h-1zM736 375h1v1h-1zM737 375h1v1h-1zM738 375h1v1h-1zM739 376h1v1h-1zM740 377h1v2h-1zM741 379h1v1h-1zM742 380h1v1h-1zM743 381h1v2h-1zM744 383h1v1h-1zM745 384h1v2h-1zM746 386h1v1h-1zM747 387h1v1h-1zM748 388h1v2h-1zM749 390h1v1h-1zM750 391h1v1h-1zM751 392h1v2h-1zM752 394h1v2h-1zM753 396h1v2h-1zM754 398h1v1h-1zM755 398h1v1h-1zM756 399h1v1h-1zM757 399h1v1h-1zM758 399h1v1h-1zM759 398h1v1h-1zM760 398h1v1h-1zM761 397h1v1h-1zM762 397h1v1h-1zM763 396h1v1h-1zM764 394h1v2h-1zM765 393h1v1h-1zM766 391h1v2h-1zM767 389h1v2h-1zM768 387h1v2h-1zM769 385h1v2h-1zM770 382h1v3h-1zM771 380h1v2h-1zM772 378h1v2h-1zM773 376h1v2h-1zM774 374h1v2h-1zM775 372h1v2h-1zM776 370h1v2h-1zM777 368h1v2h-1zM778 367h1v1h-1zM779 366h1v1h-1zM780 364h1v2h-1zM781 363h1v1h-1zM782 362h1v1h-1zM783 361h1v1h-1zM784 361h1v1h-1zM785 360h1v1h-1zM786 360h1v1h-1zM787 361h1v1h-1zM788 362h1v2h-1zM789 364h1v1h-1zM790 365h1v1h-1zM791 366h1v1h-1zM792 367h1v1h-1zM793 367h1v1h-1zM794 368h1v1h-1zM795 369h1v1h-1zM796 370h1v2h-1zM797 372h1v1h-1zM798 373h1v1h-1zM799 374h1v2h-1zM800 376h1v2h-1zM801 378h1v2h-1zM802 380h1v2h-1zM803 382h1v1h-1zM804 383h1v1h-1zM805 384h1v1h-1zM806 385h1v1h-1zM807 385h1v1h-1zM808 385h1v1h-1zM809 385h1v1h-1zM810 385h1v1h-1zM811 385h1v1h-1zM812 384h1v1h-1zM813 384h1v1h-1zM814 384h1v1h-1zM815 384h1v1h-1zM816 384h1v1h-1zM817 384h1v1h-1zM818 384h1v1h-1zM819 383h1v1h-1zM820 383h1v1h-1zM821 382h1v1h-1zM822 382h1v1h-1zM823 380h1v2h-1zM824 378h1v2h-1zM825 376h1v2h-1zM826 374h1v2h-1zM827 372h1v2h-1zM828 369h1v3h-1zM829 367h1v2h-1zM830 364h1v3h-1zM831 361h1v3h-1zM832 359h1v2h-1zM833 356h1v3h-1zM834 353h1v3h-1zM835 349h1v4h-1zM836 346h1v3h-1zM837 342h1v4h-1zM838 339h1v3h-1zM839 335h1v4h-1zM840 331h1v4h-1zM841 327h1v4h-1zM842 323h1v4h-1zM843 321h1v2h-1zM844 318h1v3h-1zM845 316h1v2h-1zM846 314h1v2h-1zM847 313h1v1h-1zM848 312h1v1h-1zM849 311h1v1h-1zM850 310h1v1h-1zM851 310h1v1h-1zM852 311h1v1h-1zM853 311h1v1h-1zM854 311h1v1h-1zM855 312h1v2h-1zM856 314h1v2h-1zM857 316h1v2h-1zM858 318h1v2h-1zM859 320h1v2h-1zM860 322h1v2h-1zM861 324h1v2h-1zM862 326h1v2h-1zM863 328h1v2h-1zM864 330h1v2h-1zM865 332h1v2h-1zM866 334h1v1h-1zM867 335h1v1h-1zM868 336h1v1h-1zM869 336h1v1h-1zM870 337h1v1h-1zM871 338h1v2h-1zM872 340h1v1h-1zM873 341h1v2h-1zM874 343h1v1h-1zM875 344h1v1h-1zM876 345h1v1h-1zM877 345h1v1h-1zM878 346h1v1h-1zM879 346h1v1h-1zM880 346h1v1h-1zM881 346h1v1h-1zM882 346h1v1h-1zM883 347h1v1h-1zM884 348h1v1h-1zM885 348h1v1h-1zM886 349h1v1h-1zM887 350h1v2h-1zM888 352h1v2h-1zM889 354h1v2h-1zM890 356h1v2h-1zM891 358h1v1h-1zM892 359h1v1h-1zM893 360h1v1h-1zM894 361h1v1h-1zM895 362h1v1h-1zM896 363h1v2h-1zM897 365h1v1h-1zM898 366h1v1h-1zM899 367h1v1h-1zM900 367h1v1h-1zM901 368h1v1h-1zM902 368h1v1h-1zM903 369h1v1h-1zM904 370h1v1h-1zM905 371h1v1h-1zM906 372h1v1h-1zM907 371h1v1h-1zM908 370h1v1h-1zM909 370h1v1h-1zM910 369h1v1h-1zM911 368h1v1h-1zM912 366h1v2h-1zM913 365h1v1h-1zM914 364h1v1h-1zM915 363h1v1h-1zM916 362h1v1h-1zM917 361h1v1h-1zM918 360h1v1h-1zM919 361h1v1h-1zM920 362h1v1h-1zM921 363h1v1h-1zM922 364h1v1h-1zM923 365h1v1h-1zM924 366h1v2h-1zM925 368h1v1h-1zM926 369h1v1h-1zM927 370h1v2h-1zM928 372h1v2h-1zM929 374h1v2h-1zM930 376h1v2h-1zM931 378h1v2h-1zM932 380h1v2h-1zM933 382h1v2h-1zM934 384h1v1h-1zM935 385h1v2h-1zM936 387h1v2h-1zM937 389h1v2h-1zM938 391h1v2h-1zM939 393h1v1h-1zM940 394h1v1h-1zM941 395h1v1h-1zM942 396h1v1h-1zM943 396h1v1h-1zM944 395h1v1h-1zM945 395h1v1h-1zM946 395h1v1h-1zM947 395h1v1h-1zM948 394h1v1h-1zM949 394h1v1h-1zM950 394h1v1h-1zM951 393h1v1h-1zM952 393h1v1h-1zM953 392h1v1h-1zM954 391h1v2h-1zM955 389h1v2h-1zM956 386h1v3h-1zM957 384h1v2h-1zM958 381h1v3h-1zM959 379h1v2h-1zM960 376h1v3h-1zM961 374h1v2h-1zM962 372h1v2h-1zM963 370h1v2h-1zM964 368h1v2h-1zM965 366h1v2h-1zM966 364h1v2h-1zM967 361h1v3h-1zM968 359h1v2h-1zM969 356h1v3h-1zM970 354h1v2h-1zM971 353h1v1h-1zM972 353h1v1h-1zM973 352h1v1h-1zM974 352h1v1h-1zM975 353h1v1h-1zM976 354h1v1h-1zM977 355h1v1h-1zM978 356h1v2h-1zM979 358h1v2h-1zM980 360h1v2h-1zM981 362h1v2h-1zM982 364h1v3h-1zM983 367h1v4h-1zM984 371h1v3h-1zM985 374h1v4h-1zM986 378h1v4h-1zM987 382h1v4h-1zM988 386h1v4h-1zM989 390h1v4h-1zM990 394h1v3h-1zM991 396h1v1h-1zM992 397h1v1h-1zM993 397h1v1h-1zM994 397h1v1h-1zM995 397h1v1h-1zM996 396h1v1h-1zM997 396h1v1h-1zM998 395h1v2h-1zM999 393h1v2h-1zM1000 390h1v3h-1zM1001 388h1v2h-1zM1002 385h1v3h-1zM1003 382h1v3h-1zM1004 379h1v3h-1zM1005 376h1v3h-1zM1006 373h1v3h-1zM1007 370h1v3h-1zM1008 368h1v2h-1zM1009 365h1v3h-1zM1010 363h1v2h-1zM1011 362h1v1h-1zM1012 362h1v1h-1zM1013 361h1v1h-1zM1014 361h1v1h-1zM1015 361h1v1h-1zM1016 361h1v1h-1zM1017 361h1v1h-1zM1018 361h1v1h-1zM1019 362h1v2h-1zM1020 364h1v1h-1zM1021 365h1v2h-1zM1022 367h1v1h-1zM1023 368h1v1h-1zM1024 369h1v1h-1zM1025 370h1v1h-1zM1026 371h1v1h-1zM1027 371h1v1h-1zM1028 372h1v1h-1zM1029 372h1v1h-1zM1030 372h1v1h-1zM1031 372h1v1h-1zM1032 373h1v1h-1zM1033 373h1v1h-1zM1034 373h1v1h-1zM1035 373h1v1h-1zM1036 374h1v1h-1zM1037 374h1v1h-1zM1038 374h1v1h-1zM1039 373h1v1h-1zM1040 373h1v1h-1zM1041 372h1v1h-1zM1042 372h1v1h-1zM1043 371h1v1h-1zM1044 371h1v1h-1zM1045 370h1v1h-1zM1046 370h1v1h-1zM1047 371h1v1h-1zM1048 371h1v1h-1zM1049 372h1v1h-1zM1050 372h1v1h-1zM1051 373h1v1h-1zM1052 374h1v1h-1zM1053 374h1v1h-1zM1054 375h1v1h-1zM1055 376h1v2h-1zM1056 378h1v1h-1zM1057 379h1v2h-1zM1058 381h1v1h-1zM1059 382h1v2h-1zM1060 384h1v2h-1zM1061 386h1v2h-1zM1062 388h1v1h-1zM1063 389h1v2h-1zM1064 391h1v1h-1zM1065 392h1v2h-1zM1066 394h1v1h-1zM1067 395h1v2h-1zM1068 397h1v2h-1zM1069 399h1v2h-1zM1070 401h1v2h-1zM1071 403h1v2h-1zM1072 405h1v2h-1zM1073 407h1v2h-1zM1074 409h1v3h-1zM1075 412h1v3h-1zM1076 415h1v3h-1zM1077 418h1v3h-1zM1078 421h1v3h-1zM1079 424h1v3h-1zM1080 427h1v3h-1zM1081 430h1v3h-1zM1082 433h1v3h-1zM1083 436h1v3h-1zM1084 439h1v3h-1zM1085 442h1v3h-1zM1086 445h1v3h-1zM1087 448h1v2h-1zM1088 450h1v2h-1zM1089 452h1v2h-1zM1090 454h1v2h-1zM1091 456h1v2h-1zM1092 458h1v2h-1zM1093 460h1v2h-1zM1094 462h1v1h-1zM1095 462h1v1h-1zM1096 463h1v1h-1zM1097 463h1v1h-1zM1098 463h1v1h-1zM1099 464h1v1h-1zM1100 465h1v1h-1zM1101 465h1v1h-1zM1102 466h1v1h-1zM1103 466h1v1h-1zM1104 466h1v1h-1zM1105 466h1v1h-1zM1106 466h1v1h-1zM1107 466h1v1h-1zM1108 465h1v1h-1zM1109 465h1v1h-1zM1110 465h1v1h-1zM1111 465h1v1h-1zM1112 465h1v1h-1zM1113 465h1v1h-1zM1114 465h1v1h-1zM1115 466h1v1h-1zM1116 467h1v1h-1zM1117 467h1v1h-1zM1118 468h1v1h-1zM1119 469h1v1h-1zM1120 469h1v1h-1zM1121 470h1v1h-1zM1122 470h1v1h-1zM1123 471h1v1h-1zM1124 472h1v2h-1zM1125 474h1v1h-1zM1126 475h1v1h-1zM1127 476h1v1h-1zM1128 477h1v1h-1zM1129 477h1v1h-1zM1130 478h1v1h-1zM1131 479h1v1h-1zM1132 480h1v1h-1zM1133 481h1v1h-1zM1134 482h1v1h-1zM1135 482h1v1h-1zM1136 481h1v1h-1zM1137 481h1v1h-1zM1138 481h1v1h-1zM1139 480h1v1h-1zM1140 479h1v1h-1zM1141 479h1v1h-1zM1142 478h1v1h-1zM1143 477h1v1h-1zM1144 475h1v2h-1zM1145 474h1v1h-1zM1146 473h1v1h-1zM1147 472h1v1h-1zM1148 471h1v1h-1zM1149 470h1v1h-1zM1150 469h1v1h-1zM1151 467h1v2h-1zM1152 466h1v1h-1zM1153 464h1v2h-1zM1154 463h1v1h-1zM1155 462h1v1h-1zM1156 462h1v1h-1zM1157 461h1v1h-1zM1158 461h1v1h-1zM1159 462h1v1h-1zM1160 463h1v1h-1zM1161 464h1v1h-1zM1162 465h1v1h-1zM1163 466h1v1h-1zM1164 467h1v2h-1zM1165 469h1v1h-1zM1166 470h1v1h-1zM1167 471h1v2h-1zM1168 473h1v1h-1zM1169 474h1v2h-1zM1170 476h1v1h-1zM1171 477h1v2h-1zM1172 479h1v1h-1zM1173 480h1v2h-1zM1174 482h1v1h-1zM1175 483h1v2h-1zM1176 485h1v2h-1zM1177 487h1v2h-1zM1178 489h1v2h-1zM1179 491h1v1h-1zM1180 492h1v1h-1zM1181 493h1v1h-1zM1182 494h1v1h-1zM1183 494h1v1h-1zM1184 495h1v1h-1zM1185 495h1v1h-1zM1186 495h1v1h-1zM1187 495h1v1h-1zM1188 494h1v1h-1zM1189 494h1v1h-1zM1190 494h1v1h-1zM1191 494h1v1h-1zM1192 495h1v1h-1zM1193 495h1v1h-1zM1194 495h1v1h-1zM1195 494h1v1h-1zM1196 492h1v2h-1zM1197 491h1v1h-1zM1198 489h1v2h-1zM1199 487h1v2h-1zM1200 484h1v3h-1zM1201 482h1v2h-1zM1202 480h1v2h-1zM1203 478h1v2h-1zM1204 476h1v2h-1zM1205 474h1v2h-1zM1206 473h1v1h-1zM1207 473h1v1h-1zM1208 472h1v1h-1zM1209 472h1v1h-1zM1210 472h1v1h-1zM1211 471h1v1h-1zM1212 469h1v2h-1zM1213 468h1v1h-1zM1214 467h1v1h-1zM1215 466h1v1h-1zM1216 465h1v1h-1zM1217 465h1v1h-1zM1218 464h1v1h-1zM1219 464h1v1h-1zM1220 464h1v1h-1zM1221 464h1v1h-1zM1222 464h1v1h-1zM1223 464h1v1h-1zM1224 463h1v1h-1zM1225 463h1v1h-1zM1226 463h1v1h-1zM1227 463h1v1h-1zM1228 462h1v1h-1zM1229 462h1v1h-1zM1230 462h1v1h-1zM1231 462h1v1h-1zM1232 461h1v1h-1zM1233 461h1v1h-1zM1234 461h1v1h-1zM1235 462h1v1h-1zM1236 463h1v1h-1zM1237 463h1v1h-1zM1238 464h1v1h-1zM1239 465h1v1h-1zM1240 466h1v2h-1zM1241 468h1v1h-1zM1242 469h1v1h-1zM1243 470h1v1h-1zM1244 471h1v1h-1zM1245 471h1v1h-1zM1246 472h1v1h-1zM1247 472h1v1h-1zM1248 472h1v1h-1zM1249 472h1v1h-1zM1250 472h1v1h-1zM1251 473h1v1h-1zM1252 474h1v1h-1zM1253 474h1v1h-1zM1254 475h1v1h-1zM1255 474h1v1h-1zM1256 473h1v1h-1zM1257 473h1v1h-1zM1258 472h1v1h-1zM1259 471h1v1h-1zM1260 471h1v1h-1zM1261 470h1v1h-1zM1262 470h1v1h-1zM1263 469h1v1h-1zM1264 468h1v1h-1zM1265 468h1v1h-1zM1266 467h1v1h-1z"/>
<rect x="2" y="179" width="1593" height="2" fill="#ff0000"/>
<rect x="1" y="177" width="6" height="6" fill="#ff0000"/>
<rect x="3" y="179" width="2" height="2" fill="#fff"/>
<rect x="1588" y="177" width="6" height="6" fill="#ff0000"/>
<rect x="1590" y="179" width="2" height="2" fill="#fff"/>
<rect x="2" y="294" width="1593" height="2" fill="#ff0000"/>
<rect x="2" y="348" width="1593" height="2" fill="#ff0000"/>
<rect x="2" y="416" width="1593" height="2" fill="#00ff00"/>
<rect x="1" y="414" width="6" height="6" fill="#00ff00"/>
<rect x="3" y="416" width="2" height="2" fill="#fff"/>
<rect x="1588" y="414" width="6" height="6" fill="#00ff00"/>
<rect x="1590" y="416" width="2" height="2" fill="#fff"/>
<rect x="2" y="501" width="1593" height="2" fill="#0000ff"/>
<rect x="1" y="499" width="6" height="6" fill="#0000ff"/>
<rect x="3" y="501" width="2" height="2" fill="#fff"/>
<rect x="1588" y="499" width="6" height="6" fill="#0000ff"/>
<rect x="1590" y="501" width="2" height="2" fill="#fff"/>
<path d="M5 29 L12 29 L8.5 33 Z" fill="#000" shape-rendering="geometricPrecision"/>
<text x="17.4" y="34" font-size="9.8" fill="#000" stroke="#000" stroke-width="0.15" textLength="64" lengthAdjust="spacingAndGlyphs">USDCHF,Daily</text>
<text x="88" y="34" font-size="9.8" fill="#000" stroke="#000" stroke-width="0.15" textLength="141" lengthAdjust="spacingAndGlyphs">0.88836 0.88950 0.88721 0.88896</text>
<path d="M1270 23 L1279 23 L1274.5 28 Z" fill="#c0c0c0" shape-rendering="geometricPrecision"/>
<rect x="1595" y="35" width="2" height="1" fill="#000"/>
<text x="1600" y="39" font-size="9.8" fill="#000" stroke="#000" stroke-width="0.15" textLength="33" lengthAdjust="spacingAndGlyphs">0.99280</text>
<rect x="1595" y="68" width="2" height="1" fill="#000"/>
<text x="1600" y="72" font-size="9.8" fill="#000" stroke="#000" stroke-width="0.15" textLength="33" lengthAdjust="spacingAndGlyphs">0.98480</text>
<rect x="1595" y="101" width="2" height="1" fill="#000"/>
<text x="1600" y="105" font-size="9.8" fill="#000" stroke="#000" stroke-width="0.15" textLength="33" lengthAdjust="spacingAndGlyphs">0.97680</text>
<rect x="1595" y="134" width="2" height="1" fill="#000"/>
<text x="1600" y="138" font-size="9.8" fill="#000" stroke="#000" stroke-width="0.15" textLength="33" lengthAdjust="spacingAndGlyphs">0.96880</text>
<rect x="1595" y="167" width="2" height="1" fill="#000"/>
<text x="1600" y="171" font-size="9.8" fill="#000" stroke="#000" stroke-width="0.15" textLength="33" lengthAdjust="spacingAndGlyphs">0.96080</text>
<rect x="1595" y="200" width="2" height="1" fill="#000"/>
<text x="1600" y="204" font-size="9.8" fill="#000" stroke="#000" stroke-width="0.15" textLength="33" lengthAdjust="spacingAndGlyphs">0.95300</text>
<rect x="1595" y="233" width="2" height="1" fill="#000"/>
<text x="1600" y="237" font-size="9.8" fill="#000" stroke="#000" stroke-width="0.15" textLength="33" lengthAdjust="spacingAndGlyphs">0.94500</text>
<rect x="1595" y="266" width="2" height="1" fill="#000"/>
<text x="1600" y="270" font-size="9.8" fill="#000" stroke="#000" stroke-width="0.15" textLength="33" lengthAdjust="spacingAndGlyphs">0.93700</text>
<rect x="1595" y="299" width="2" height="1" fill="#000"/>
<text x="1600" y="303" font-size="9.8" fill="#000" stroke="#000" stroke-width="0.15" textLength="33" lengthAdjust="spacingAndGlyphs">0.92900</text>
<rect x="1595" y="332" width="2" height="1" fill="#000"/>
<text x="1600" y="336" font-size="9.8" fill="#000" stroke="#000" stroke-width="0.15" textLength="33" lengthAdjust="spacingAndGlyphs">0.92120</text>
<rect x="1595" y="365" width="2" height="1" fill="#000"/>
<text x="1600" y="369" font-size="9.8" fill="#000" stroke="#000" stroke-width="0.15" textLength="33" lengthAdjust="spacingAndGlyphs">0.91320</text>
<rect x="1595" y="398" width="2" height="1" fill="#000"/>
<text x="1600" y="402" font-size="9.8" fill="#000" stroke="#000" stroke-width="0.15" textLength="33" lengthAdjust="spacingAndGlyphs">0.90520</text>
<rect x="1595" y="431" width="2" height="1" fill="#000"/>
<text x="1600" y="435" font-size="9.8" fill="#000" stroke="#000" stroke-width="0.15" textLength="33" lengthAdjust="spacingAndGlyphs">0.89720</text>
<rect x="1595" y="464" width="2" height="1" fill="#000"/>
<text x="1600" y="468" font-size="9.8" fill="#000" stroke="#000" stroke-width="0.15" textLength="33" lengthAdjust="spacingAndGlyphs">0.88920</text>
<rect x="1595" y="497" width="2" height="1" fill="#000"/>
<text x="1600" y="501" font-size="9.8" fill="#000" stroke="#000" stroke-width="0.15" textLength="33" lengthAdjust="spacingAndGlyphs">0.88140</text>
<rect x="1595" y="530" width="2" height="1" fill="#000"/>
<text x="1600" y="534" font-size="9.8" fill="#000" stroke="#000" stroke-width="0.15" textLength="33" lengthAdjust="spacingAndGlyphs">0.87340</text>
<rect x="1596" y="174" width="41" height="11" fill="#ff0000"/>
<text x="1600" y="183" font-size="9.8" fill="#fff" stroke="#fff" stroke-width="0.15" textLength="33" lengthAdjust="spacingAndGlyphs">0.95766</text>
<rect x="1596" y="289" width="41" height="11" fill="#ff0000"/>
<text x="1600" y="298" font-size="9.8" fill="#fff" stroke="#fff" stroke-width="0.15" textLength="33" lengthAdjust="spacingAndGlyphs">0.93001</text>
<rect x="1596" y="343" width="41" height="11" fill="#ff0000"/>
<text x="1600" y="352" font-size="9.8" fill="#fff" stroke="#fff" stroke-width="0.15" textLength="33" lengthAdjust="spacingAndGlyphs">0.91709</text>
<rect x="1596" y="411" width="41" height="11" fill="#00ff00"/>
<text x="1600" y="420" font-size="9.8" fill="#fff" stroke="#fff" stroke-width="0.15" textLength="33" lengthAdjust="spacingAndGlyphs">0.90055</text>
<rect x="1596" y="460" width="41" height="11" fill="#000000"/>
<text x="1600" y="469" font-size="9.8" fill="#fff" stroke="#fff" stroke-width="0.15" textLength="33" lengthAdjust="spacingAndGlyphs">0.88896</text>
<rect x="1596" y="496" width="41" height="11" fill="#0000ff"/>
<text x="1600" y="505" font-size="9.8" fill="#fff" stroke="#fff" stroke-width="0.15" textLength="33" lengthAdjust="spacingAndGlyphs">0.88024</text>
<g stroke="#c0c0c0" stroke-width="1" stroke-dasharray="3 3">
<line x1="3" y1="564.5" x2="1594" y2="564.5"/><line x1="3" y1="600.5" x2="1594" y2="600.5"/>
</g>
<path fill="#1e90ff" d="M2 584h1v1h-1zM3 584h1v1h-1zM4 584h1v1h-1zM5 584h1v1h-1zM6 584h1v1h-1zM7 585h1v1h-1zM8 585h1v1h-1zM9 586h1v1h-1zM10 586h1v1h-1zM11 584h1v2h-1zM12 582h1v2h-1zM13 580h1v2h-1zM14 578h1v2h-1zM15 577h1v1h-1zM16 577h1v1h-1zM17 576h1v1h-1zM18 576h1v2h-1zM19 578h1v3h-1zM20 581h1v3h-1zM21 584h1v3h-1zM22 587h1v2h-1zM23 589h1v1h-1zM24 590h1v1h-1zM25 591h1v1h-1zM26 592h1v1h-1zM27 592h1v1h-1zM28 593h1v1h-1zM29 593h1v1h-1zM30 593h1v1h-1zM31 592h1v1h-1zM32 591h1v1h-1zM33 590h1v1h-1zM34 589h1v1h-1zM35 587h1v2h-1zM36 586h1v1h-1zM37 584h1v2h-1zM38 583h1v1h-1zM39 582h1v1h-1zM40 580h1v2h-1zM41 579h1v1h-1zM42 578h1v1h-1zM43 577h1v1h-1zM44 577h1v1h-1zM45 576h1v1h-1zM46 576h1v1h-1zM47 575h1v1h-1zM48 575h1v1h-1zM49 574h1v1h-1zM50 574h1v1h-1zM51 574h1v1h-1zM52 573h1v1h-1zM53 573h1v1h-1zM54 573h1v1h-1zM55 573h1v1h-1zM56 573h1v1h-1zM57 573h1v1h-1zM58 573h1v1h-1zM59 573h1v1h-1zM60 573h1v1h-1zM61 573h1v1h-1zM62 573h1v1h-1zM63 573h1v1h-1zM64 574h1v1h-1zM65 574h1v1h-1zM66 574h1v1h-1zM67 573h1v1h-1zM68 573h1v1h-1zM69 572h1v1h-1zM70 572h1v1h-1zM71 571h1v1h-1zM72 570h1v1h-1zM73 569h1v1h-1zM74 568h1v1h-1zM75 568h1v1h-1zM76 567h1v1h-1zM77 567h1v1h-1zM78 567h1v1h-1zM79 567h1v1h-1zM80 567h1v1h-1zM81 567h1v1h-1zM82 567h1v1h-1zM83 567h1v1h-1zM84 568h1v1h-1zM85 568h1v1h-1zM86 568h1v1h-1zM87 567h1v1h-1zM88 567h1v1h-1zM89 566h1v1h-1zM90 566h1v1h-1zM91 567h1v1h-1zM92 567h1v1h-1zM93 568h1v1h-1zM94 568h1v2h-1zM95 570h1v2h-1zM96 572h1v3h-1zM97 575h1v2h-1zM98 577h1v2h-1zM99 578h1v1h-1zM100 579h1v1h-1zM101 579h1v1h-1zM102 579h1v1h-1zM103 579h1v1h-1zM104 579h1v1h-1zM105 579h1v1h-1zM106 579h1v1h-1zM107 580h1v1h-1zM108 581h1v1h-1zM109 581h1v1h-1zM110 582h1v1h-1zM111 582h1v1h-1zM112 581h1v1h-1zM113 581h1v1h-1zM114 581h1v2h-1zM115 583h1v3h-1zM116 586h1v3h-1zM117 589h1v3h-1zM118 592h1v2h-1zM119 594h1v1h-1zM120 595h1v1h-1zM121 595h1v1h-1zM122 596h1v1h-1zM123 597h1v1h-1zM124 598h1v1h-1zM125 598h1v1h-1zM126 599h1v1h-1zM127 600h1v1h-1zM128 601h1v2h-1zM129 603h1v1h-1zM130 604h1v1h-1zM131 605h1v1h-1zM132 606h1v1h-1zM133 606h1v1h-1zM134 607h1v1h-1zM135 607h1v1h-1zM136 607h1v1h-1zM137 607h1v1h-1zM138 607h1v1h-1zM139 608h1v1h-1zM140 609h1v1h-1zM141 609h1v1h-1zM142 610h1v1h-1zM143 611h1v1h-1zM144 612h1v2h-1zM145 614h1v1h-1zM146 615h1v1h-1zM147 615h1v1h-1zM148 615h1v1h-1zM149 615h1v1h-1zM150 615h1v1h-1zM151 616h1v1h-1zM152 616h1v1h-1zM153 617h1v1h-1zM154 617h1v1h-1zM155 615h1v2h-1zM156 614h1v1h-1zM157 612h1v2h-1zM158 611h1v1h-1zM159 609h1v2h-1zM160 607h1v2h-1zM161 605h1v2h-1zM162 601h1v4h-1zM163 597h1v4h-1zM164 593h1v4h-1zM165 589h1v4h-1zM166 586h1v3h-1zM167 586h1v1h-1zM168 586h1v1h-1zM169 586h1v1h-1zM170 586h1v1h-1zM171 585h1v1h-1zM172 585h1v1h-1zM173 584h1v1h-1zM174 584h1v1h-1zM175 585h1v2h-1zM176 587h1v2h-1zM177 589h1v2h-1zM178 590h1v2h-1zM179 586h1v4h-1zM180 583h1v3h-1zM181 579h1v4h-1zM182 577h1v2h-1zM183 576h1v1h-1zM184 575h1v1h-1zM185 574h1v1h-1zM186 573h1v1h-1zM187 572h1v1h-1zM188 570h1v2h-1zM189 569h1v1h-1zM190 568h1v1h-1zM191 568h1v1h-1zM192 567h1v1h-1zM193 567h1v1h-1zM194 567h1v1h-1zM195 567h1v1h-1zM196 566h1v1h-1zM197 566h1v1h-1zM198 566h1v1h-1zM199 567h1v1h-1zM200 568h1v2h-1zM201 570h1v1h-1zM202 571h1v1h-1zM203 571h1v1h-1zM204 572h1v1h-1zM205 572h1v1h-1zM206 572h1v1h-1zM207 573h1v1h-1zM208 574h1v1h-1zM209 574h1v1h-1zM210 575h1v2h-1zM211 577h1v2h-1zM212 579h1v2h-1zM213 581h1v2h-1zM214 583h1v2h-1zM215 585h1v1h-1zM216 586h1v1h-1zM217 587h1v1h-1zM218 588h1v1h-1zM219 589h1v1h-1zM220 589h1v1h-1zM221 590h1v1h-1zM222 590h1v1h-1zM223 589h1v1h-1zM224 587h1v2h-1zM225 586h1v1h-1zM226 585h1v1h-1zM227 584h1v1h-1zM228 584h1v1h-1zM229 583h1v1h-1zM230 583h1v1h-1zM231 582h1v1h-1zM232 582h1v1h-1zM233 581h1v1h-1zM234 581h1v1h-1zM235 580h1v1h-1zM236 579h1v1h-1zM237 579h1v1h-1zM238 578h1v1h-1zM239 577h1v1h-1zM240 576h1v1h-1zM241 576h1v1h-1zM242 575h1v1h-1zM243 575h1v1h-1zM244 576h1v1h-1zM245 576h1v1h-1zM246 576h1v1h-1zM247 576h1v1h-1zM248 576h1v1h-1zM249 576h1v1h-1zM250 576h1v1h-1zM251 577h1v1h-1zM252 578h1v1h-1zM253 579h1v1h-1zM254 580h1v1h-1zM255 580h1v1h-1zM256 580h1v1h-1zM257 580h1v1h-1zM258 580h1v1h-1zM259 581h1v1h-1zM260 582h1v1h-1zM261 583h1v1h-1zM262 584h1v1h-1zM263 584h1v1h-1zM264 584h1v1h-1zM265 584h1v1h-1zM266 584h1v1h-1zM267 584h1v1h-1zM268 584h1v1h-1zM269 584h1v1h-1zM270 584h1v1h-1zM271 584h1v1h-1zM272 584h1v1h-1zM273 584h1v1h-1zM274 584h1v1h-1zM275 585h1v1h-1zM276 586h1v1h-1zM277 587h1v1h-1zM278 588h1v1h-1zM279 587h1v1h-1zM280 586h1v1h-1zM281 585h1v1h-1zM282 584h1v1h-1zM283 583h1v1h-1zM284 582h1v1h-1zM285 581h1v1h-1zM286 580h1v1h-1zM287 581h1v1h-1zM288 582h1v1h-1zM289 582h1v1h-1zM290 583h1v1h-1zM291 583h1v1h-1zM292 582h1v1h-1zM293 582h1v1h-1zM294 582h1v1h-1zM295 582h1v1h-1zM296 582h1v1h-1zM297 582h1v1h-1zM298 582h1v1h-1zM299 581h1v1h-1zM300 581h1v1h-1zM301 580h1v1h-1zM302 580h1v1h-1zM303 579h1v1h-1zM304 579h1v1h-1zM305 578h1v1h-1zM306 578h1v1h-1zM307 577h1v1h-1zM308 577h1v1h-1zM309 576h1v1h-1zM310 576h1v1h-1zM311 576h1v1h-1zM312 575h1v1h-1zM313 575h1v1h-1zM314 575h1v1h-1zM315 575h1v1h-1zM316 575h1v1h-1zM317 575h1v1h-1zM318 575h1v1h-1zM319 575h1v1h-1zM320 574h1v1h-1zM321 574h1v1h-1zM322 574h1v1h-1zM323 574h1v1h-1zM324 575h1v1h-1zM325 575h1v1h-1zM326 575h1v1h-1zM327 575h1v1h-1zM328 575h1v1h-1zM329 575h1v1h-1zM330 575h1v2h-1zM331 577h1v2h-1zM332 579h1v3h-1zM333 582h1v2h-1zM334 584h1v2h-1zM335 586h1v2h-1zM336 588h1v2h-1zM337 590h1v2h-1zM338 592h1v1h-1zM339 591h1v1h-1zM340 591h1v1h-1zM341 590h1v1h-1zM342 590h1v1h-1zM343 589h1v1h-1zM344 588h1v1h-1zM345 587h1v1h-1zM346 586h1v1h-1zM347 584h1v2h-1zM348 582h1v2h-1zM349 580h1v2h-1zM350 578h1v2h-1zM351 577h1v1h-1zM352 577h1v1h-1zM353 576h1v1h-1zM354 576h1v1h-1zM355 576h1v1h-1zM356 576h1v1h-1zM357 576h1v1h-1zM358 576h1v1h-1zM359 577h1v2h-1zM360 579h1v1h-1zM361 580h1v2h-1zM362 582h1v1h-1zM363 582h1v1h-1zM364 581h1v1h-1zM365 581h1v1h-1zM366 581h1v1h-1zM367 580h1v1h-1zM368 580h1v1h-1zM369 579h1v1h-1zM370 579h1v1h-1zM371 580h1v1h-1zM372 581h1v2h-1zM373 583h1v1h-1zM374 584h1v1h-1zM375 583h1v1h-1zM376 582h1v1h-1zM377 582h1v1h-1zM378 581h1v1h-1zM379 580h1v1h-1zM380 580h1v1h-1zM381 579h1v1h-1zM382 579h1v1h-1zM383 579h1v1h-1zM384 579h1v1h-1zM385 579h1v1h-1zM386 579h1v1h-1zM387 579h1v1h-1zM388 579h1v1h-1zM389 579h1v1h-1zM390 579h1v1h-1zM391 580h1v1h-1zM392 581h1v1h-1zM393 581h1v1h-1zM394 582h1v1h-1zM395 581h1v1h-1zM396 580h1v1h-1zM397 580h1v1h-1zM398 579h1v2h-1zM399 581h1v2h-1zM400 583h1v2h-1zM401 585h1v2h-1zM402 587h1v2h-1zM403 586h1v2h-1zM404 585h1v1h-1zM405 583h1v2h-1zM406 582h1v1h-1zM407 581h1v1h-1zM408 581h1v1h-1zM409 580h1v1h-1zM410 580h1v1h-1zM411 580h1v1h-1zM412 579h1v1h-1zM413 579h1v1h-1zM414 579h1v1h-1zM415 580h1v1h-1zM416 580h1v1h-1zM417 581h1v1h-1zM418 581h1v1h-1zM419 582h1v1h-1zM420 583h1v2h-1zM421 585h1v1h-1zM422 586h1v1h-1zM423 585h1v1h-1zM424 584h1v1h-1zM425 584h1v1h-1zM426 583h1v1h-1zM427 584h1v1h-1zM428 585h1v2h-1zM429 587h1v1h-1zM430 588h1v1h-1zM431 589h1v1h-1zM432 590h1v1h-1zM433 590h1v1h-1zM434 591h1v1h-1zM435 591h1v1h-1zM436 591h1v1h-1zM437 591h1v1h-1zM438 591h1v1h-1zM439 591h1v1h-1zM440 591h1v1h-1zM441 591h1v1h-1zM442 591h1v1h-1zM443 591h1v1h-1zM444 590h1v1h-1zM445 590h1v1h-1zM446 590h1v1h-1zM447 590h1v1h-1zM448 591h1v1h-1zM449 591h1v1h-1zM450 591h1v1h-1zM451 592h1v1h-1zM452 593h1v2h-1zM453 595h1v1h-1zM454 595h1v2h-1zM455 593h1v2h-1zM456 591h1v2h-1zM457 589h1v2h-1zM458 587h1v2h-1zM459 587h1v1h-1zM460 587h1v1h-1zM461 587h1v1h-1zM462 587h1v1h-1zM463 588h1v1h-1zM464 589h1v2h-1zM465 591h1v1h-1zM466 592h1v1h-1zM467 593h1v2h-1zM468 595h1v2h-1zM469 597h1v2h-1zM470 599h1v1h-1zM471 600h1v1h-1zM472 600h1v1h-1zM473 601h1v1h-1zM474 601h1v1h-1zM475 602h1v1h-1zM476 603h1v1h-1zM477 604h1v1h-1zM478 604h1v2h-1zM479 600h1v4h-1zM480 596h1v4h-1zM481 592h1v4h-1zM482 589h1v3h-1zM483 588h1v1h-1zM484 588h1v1h-1zM485 587h1v1h-1zM486 587h1v1h-1zM487 588h1v1h-1zM488 588h1v1h-1zM489 589h1v1h-1zM490 589h1v1h-1zM491 589h1v1h-1zM492 590h1v1h-1zM493 590h1v1h-1zM494 590h1v1h-1zM495 589h1v1h-1zM496 589h1v1h-1zM497 588h1v1h-1zM498 588h1v1h-1zM499 588h1v1h-1zM500 588h1v1h-1zM501 588h1v1h-1zM502 588h1v1h-1zM503 588h1v1h-1zM504 587h1v1h-1zM505 587h1v1h-1zM506 587h1v1h-1zM507 587h1v1h-1zM508 588h1v1h-1zM509 588h1v1h-1zM510 588h1v1h-1zM511 589h1v1h-1zM512 590h1v1h-1zM513 591h1v1h-1zM514 592h1v1h-1zM515 593h1v1h-1zM516 593h1v1h-1zM517 594h1v1h-1zM518 594h1v1h-1zM519 593h1v1h-1zM520 592h1v1h-1zM521 591h1v1h-1zM522 590h1v1h-1zM523 590h1v1h-1zM524 589h1v1h-1zM525 589h1v1h-1zM526 589h1v1h-1zM527 589h1v1h-1zM528 589h1v1h-1zM529 589h1v1h-1zM530 589h1v1h-1zM531 589h1v1h-1zM532 590h1v1h-1zM533 590h1v1h-1zM534 590h1v1h-1zM535 589h1v1h-1zM536 588h1v1h-1zM537 587h1v1h-1zM538 586h1v1h-1zM539 587h1v1h-1zM540 588h1v1h-1zM541 588h1v1h-1zM542 589h1v1h-1zM543 590h1v1h-1zM544 590h1v1h-1zM545 591h1v1h-1zM546 591h1v1h-1zM547 591h1v1h-1zM548 591h1v1h-1zM549 591h1v1h-1zM550 591h1v1h-1zM551 591h1v1h-1zM552 591h1v1h-1zM553 591h1v1h-1zM554 591h1v1h-1zM555 591h1v1h-1zM556 591h1v1h-1zM557 591h1v1h-1zM558 591h1v1h-1zM559 592h1v1h-1zM560 593h1v1h-1zM561 594h1v1h-1zM562 595h1v1h-1zM563 595h1v1h-1zM564 596h1v1h-1zM565 596h1v1h-1zM566 596h1v1h-1zM567 597h1v1h-1zM568 598h1v1h-1zM569 598h1v1h-1zM570 599h1v1h-1zM571 598h1v1h-1zM572 597h1v1h-1zM573 596h1v1h-1zM574 595h1v1h-1zM575 595h1v1h-1zM576 595h1v1h-1zM577 595h1v1h-1zM578 595h1v1h-1zM579 594h1v1h-1zM580 593h1v1h-1zM581 593h1v1h-1zM582 592h1v1h-1zM583 592h1v1h-1zM584 592h1v1h-1zM585 592h1v1h-1zM586 592h1v1h-1zM587 593h1v1h-1zM588 594h1v1h-1zM589 594h1v1h-1zM590 594h1v2h-1zM591 592h1v2h-1zM592 589h1v3h-1zM593 587h1v2h-1zM594 585h1v2h-1zM595 585h1v1h-1zM596 586h1v1h-1zM597 586h1v1h-1zM598 586h1v1h-1zM599 587h1v2h-1zM600 589h1v1h-1zM601 590h1v2h-1zM602 592h1v1h-1zM603 592h1v1h-1zM604 592h1v1h-1zM605 592h1v1h-1zM606 592h1v1h-1zM607 592h1v1h-1zM608 592h1v1h-1zM609 592h1v1h-1zM610 592h1v1h-1zM611 593h1v1h-1zM612 594h1v2h-1zM613 596h1v1h-1zM614 597h1v1h-1zM615 598h1v1h-1zM616 599h1v2h-1zM617 601h1v1h-1zM618 602h1v1h-1zM619 603h1v1h-1zM620 604h1v1h-1zM621 604h1v1h-1zM622 605h1v1h-1zM623 605h1v1h-1zM624 606h1v1h-1zM625 606h1v1h-1zM626 606h1v1h-1zM627 606h1v1h-1zM628 606h1v1h-1zM629 606h1v1h-1zM630 606h1v1h-1zM631 606h1v1h-1zM632 607h1v1h-1zM633 607h1v1h-1zM634 607h1v1h-1zM635 608h1v1h-1zM636 608h1v1h-1zM637 609h1v1h-1zM638 609h1v1h-1zM639 610h1v1h-1zM640 610h1v1h-1zM641 611h1v1h-1zM642 611h1v1h-1zM643 611h1v1h-1zM644 612h1v1h-1zM645 612h1v1h-1zM646 612h1v1h-1zM647 612h1v1h-1zM648 612h1v1h-1zM649 612h1v1h-1zM650 612h1v1h-1zM651 611h1v1h-1zM652 609h1v2h-1zM653 608h1v1h-1zM654 606h1v2h-1zM655 603h1v3h-1zM656 601h1v2h-1zM657 598h1v3h-1zM658 596h1v2h-1zM659 597h1v1h-1zM660 598h1v1h-1zM661 598h1v1h-1zM662 599h1v1h-1zM663 600h1v2h-1zM664 602h1v2h-1zM665 604h1v2h-1zM666 606h1v1h-1zM667 604h1v2h-1zM668 602h1v2h-1zM669 600h1v2h-1zM670 598h1v2h-1zM671 597h1v1h-1zM672 595h1v2h-1zM673 594h1v1h-1zM674 593h1v1h-1zM675 593h1v1h-1zM676 594h1v1h-1zM677 594h1v1h-1zM678 594h1v1h-1zM679 593h1v1h-1zM680 592h1v1h-1zM681 592h1v1h-1zM682 591h1v1h-1zM683 591h1v1h-1zM684 590h1v1h-1zM685 590h1v1h-1zM686 590h1v1h-1zM687 591h1v1h-1zM688 592h1v1h-1zM689 593h1v1h-1zM690 594h1v1h-1zM691 594h1v1h-1zM692 595h1v1h-1zM693 595h1v1h-1zM694 595h1v1h-1zM695 595h1v1h-1zM696 596h1v1h-1zM697 596h1v1h-1zM698 596h1v1h-1zM699 596h1v1h-1zM700 595h1v1h-1zM701 595h1v1h-1zM702 595h1v1h-1zM703 596h1v1h-1zM704 597h1v1h-1zM705 597h1v1h-1zM706 598h1v1h-1zM707 599h1v1h-1zM708 600h1v1h-1zM709 600h1v1h-1zM710 600h1v2h-1zM711 597h1v3h-1zM712 593h1v4h-1zM713 590h1v3h-1zM714 588h1v2h-1zM715 589h1v1h-1zM716 590h1v1h-1zM717 590h1v1h-1zM718 591h1v1h-1zM719 589h1v2h-1zM720 588h1v1h-1zM721 586h1v2h-1zM722 585h1v1h-1zM723 585h1v1h-1zM724 586h1v1h-1zM725 586h1v1h-1zM726 586h1v1h-1zM727 586h1v1h-1zM728 587h1v1h-1zM729 587h1v1h-1zM730 587h1v1h-1zM731 588h1v1h-1zM732 588h1v1h-1zM733 589h1v1h-1zM734 589h1v1h-1zM735 589h1v1h-1zM736 590h1v1h-1zM737 590h1v1h-1zM738 590h1v1h-1zM739 590h1v1h-1zM740 590h1v1h-1zM741 590h1v1h-1zM742 590h1v1h-1zM743 591h1v1h-1zM744 592h1v1h-1zM745 593h1v1h-1zM746 594h1v1h-1zM747 594h1v1h-1zM748 593h1v1h-1zM749 593h1v1h-1zM750 593h1v1h-1zM751 594h1v1h-1zM752 595h1v1h-1zM753 596h1v1h-1zM754 596h1v2h-1zM755 594h1v2h-1zM756 591h1v3h-1zM757 589h1v2h-1zM758 587h1v2h-1zM759 586h1v1h-1zM760 585h1v1h-1zM761 584h1v1h-1zM762 583h1v1h-1zM763 583h1v1h-1zM764 583h1v1h-1zM765 583h1v1h-1zM766 583h1v1h-1zM767 582h1v1h-1zM768 580h1v2h-1zM769 579h1v1h-1zM770 578h1v1h-1zM771 579h1v1h-1zM772 580h1v1h-1zM773 580h1v1h-1zM774 581h1v1h-1zM775 580h1v1h-1zM776 579h1v1h-1zM777 578h1v1h-1zM778 577h1v1h-1zM779 577h1v1h-1zM780 576h1v1h-1zM781 576h1v1h-1zM782 576h1v1h-1zM783 577h1v1h-1zM784 578h1v2h-1zM785 580h1v1h-1zM786 581h1v1h-1zM787 582h1v2h-1zM788 584h1v1h-1zM789 585h1v2h-1zM790 587h1v1h-1zM791 586h1v1h-1zM792 586h1v1h-1zM793 585h1v1h-1zM794 585h1v1h-1zM795 585h1v1h-1zM796 585h1v1h-1zM797 585h1v1h-1zM798 585h1v1h-1zM799 586h1v1h-1zM800 587h1v1h-1zM801 587h1v1h-1zM802 588h1v1h-1zM803 587h1v1h-1zM804 587h1v1h-1zM805 586h1v1h-1zM806 586h1v1h-1zM807 586h1v1h-1zM808 586h1v1h-1zM809 586h1v1h-1zM810 586h1v1h-1zM811 585h1v1h-1zM812 585h1v1h-1zM813 584h1v1h-1zM814 584h1v1h-1zM815 584h1v1h-1zM816 584h1v1h-1zM817 584h1v1h-1zM818 584h1v1h-1zM819 584h1v1h-1zM820 583h1v1h-1zM821 583h1v1h-1zM822 582h1v2h-1zM823 580h1v2h-1zM824 578h1v2h-1zM825 576h1v2h-1zM826 574h1v2h-1zM827 573h1v1h-1zM828 572h1v1h-1zM829 571h1v1h-1zM830 570h1v1h-1zM831 569h1v1h-1zM832 568h1v1h-1zM833 568h1v1h-1zM834 567h1v1h-1zM835 566h1v1h-1zM836 565h1v1h-1zM837 565h1v1h-1zM838 564h1v1h-1zM839 563h1v1h-1zM840 563h1v1h-1zM841 562h1v1h-1zM842 562h1v1h-1zM843 562h1v1h-1zM844 563h1v1h-1zM845 563h1v1h-1zM846 563h1v1h-1zM847 564h1v2h-1zM848 566h1v2h-1zM849 568h1v2h-1zM850 570h1v1h-1zM851 571h1v1h-1zM852 572h1v2h-1zM853 574h1v1h-1zM854 575h1v1h-1zM855 576h1v1h-1zM856 577h1v2h-1zM857 579h1v1h-1zM858 580h1v1h-1zM859 580h1v1h-1zM860 580h1v1h-1zM861 580h1v1h-1zM862 580h1v1h-1zM863 579h1v1h-1zM864 578h1v1h-1zM865 578h1v1h-1zM866 577h1v1h-1zM867 577h1v1h-1zM868 577h1v1h-1zM869 577h1v1h-1zM870 577h1v1h-1zM871 578h1v2h-1zM872 580h1v2h-1zM873 582h1v2h-1zM874 584h1v2h-1zM875 585h1v1h-1zM876 585h1v1h-1zM877 585h1v1h-1zM878 585h1v1h-1zM879 584h1v1h-1zM880 583h1v1h-1zM881 583h1v1h-1zM882 582h1v1h-1zM883 582h1v1h-1zM884 581h1v1h-1zM885 581h1v1h-1zM886 581h1v2h-1zM887 583h1v2h-1zM888 585h1v3h-1zM889 588h1v2h-1zM890 590h1v2h-1zM891 591h1v1h-1zM892 591h1v1h-1zM893 591h1v1h-1zM894 591h1v1h-1zM895 591h1v1h-1zM896 591h1v1h-1zM897 591h1v1h-1zM898 591h1v1h-1zM899 589h1v2h-1zM900 587h1v2h-1zM901 585h1v2h-1zM902 583h1v2h-1zM903 584h1v1h-1zM904 585h1v1h-1zM905 585h1v1h-1zM906 586h1v1h-1zM907 585h1v1h-1zM908 584h1v1h-1zM909 584h1v1h-1zM910 583h1v1h-1zM911 583h1v1h-1zM912 582h1v1h-1zM913 582h1v1h-1zM914 582h1v1h-1zM915 582h1v1h-1zM916 582h1v1h-1zM917 582h1v1h-1zM918 582h1v1h-1zM919 583h1v2h-1zM920 585h1v2h-1zM921 587h1v2h-1zM922 589h1v2h-1zM923 591h1v1h-1zM924 592h1v1h-1zM925 592h1v1h-1zM926 593h1v1h-1zM927 594h1v1h-1zM928 595h1v1h-1zM929 595h1v1h-1zM930 596h1v1h-1zM931 594h1v2h-1zM932 593h1v1h-1zM933 591h1v2h-1zM934 590h1v1h-1zM935 591h1v1h-1zM936 591h1v1h-1zM937 592h1v1h-1zM938 592h1v1h-1zM939 592h1v1h-1zM940 593h1v1h-1zM941 593h1v1h-1zM942 593h1v1h-1zM943 592h1v1h-1zM944 591h1v1h-1zM945 590h1v1h-1zM946 589h1v1h-1zM947 589h1v1h-1zM948 590h1v1h-1zM949 590h1v1h-1zM950 590h1v1h-1zM951 588h1v2h-1zM952 587h1v1h-1zM953 585h1v2h-1zM954 583h1v2h-1zM955 581h1v2h-1zM956 579h1v2h-1zM957 577h1v2h-1zM958 575h1v2h-1zM959 575h1v1h-1zM960 576h1v1h-1zM961 576h1v1h-1zM962 576h1v1h-1zM963 576h1v1h-1zM964 575h1v1h-1zM965 575h1v1h-1zM966 575h1v1h-1zM967 574h1v1h-1zM968 573h1v1h-1zM969 573h1v1h-1zM970 572h1v2h-1zM971 574h1v2h-1zM972 576h1v3h-1zM973 579h1v2h-1zM974 581h1v2h-1zM975 582h1v1h-1zM976 583h1v1h-1zM977 583h1v1h-1zM978 583h1v1h-1zM979 584h1v2h-1zM980 586h1v2h-1zM981 588h1v2h-1zM982 590h1v1h-1zM983 591h1v2h-1zM984 593h1v1h-1zM985 594h1v2h-1zM986 596h1v1h-1zM987 596h1v1h-1zM988 596h1v1h-1zM989 596h1v1h-1zM990 595h1v2h-1zM991 591h1v4h-1zM992 588h1v3h-1zM993 584h1v4h-1zM994 582h1v2h-1zM995 581h1v1h-1zM996 580h1v1h-1zM997 580h1v1h-1zM998 579h1v1h-1zM999 578h1v1h-1zM1000 577h1v1h-1zM1001 576h1v1h-1zM1002 575h1v1h-1zM1003 576h1v1h-1zM1004 577h1v2h-1zM1005 579h1v1h-1zM1006 580h1v1h-1zM1007 580h1v1h-1zM1008 581h1v1h-1zM1009 581h1v1h-1zM1010 581h1v1h-1zM1011 581h1v1h-1zM1012 580h1v1h-1zM1013 580h1v1h-1zM1014 580h1v1h-1zM1015 580h1v1h-1zM1016 581h1v1h-1zM1017 581h1v1h-1zM1018 581h1v1h-1zM1019 582h1v1h-1zM1020 582h1v1h-1zM1021 583h1v1h-1zM1022 583h1v1h-1zM1023 583h1v1h-1zM1024 584h1v1h-1zM1025 584h1v1h-1zM1026 584h1v1h-1zM1027 583h1v1h-1zM1028 583h1v1h-1zM1029 582h1v1h-1zM1030 582h1v1h-1zM1031 582h1v1h-1zM1032 582h1v1h-1zM1033 582h1v1h-1zM1034 582h1v1h-1zM1035 582h1v1h-1zM1036 582h1v1h-1zM1037 582h1v1h-1zM1038 582h1v1h-1zM1039 581h1v1h-1zM1040 580h1v1h-1zM1041 580h1v1h-1zM1042 579h1v1h-1zM1043 580h1v1h-1zM1044 581h1v1h-1zM1045 581h1v1h-1zM1046 582h1v1h-1zM1047 583h1v1h-1zM1048 584h1v1h-1zM1049 584h1v1h-1zM1050 585h1v1h-1zM1051 586h1v1h-1zM1052 587h1v1h-1zM1053 587h1v1h-1zM1054 588h1v1h-1zM1055 589h1v1h-1zM1056 590h1v1h-1zM1057 590h1v1h-1zM1058 591h1v1h-1zM1059 591h1v1h-1zM1060 591h1v1h-1zM1061 591h1v1h-1zM1062 591h1v1h-1zM1063 591h1v1h-1zM1064 590h1v1h-1zM1065 590h1v1h-1zM1066 590h1v1h-1zM1067 591h1v1h-1zM1068 592h1v2h-1zM1069 594h1v1h-1zM1070 595h1v1h-1zM1071 596h1v1h-1zM1072 597h1v1h-1zM1073 598h1v1h-1zM1074 599h1v1h-1zM1075 600h1v1h-1zM1076 601h1v2h-1zM1077 603h1v1h-1zM1078 604h1v1h-1zM1079 604h1v1h-1zM1080 603h1v1h-1zM1081 603h1v1h-1zM1082 603h1v1h-1zM1083 603h1v1h-1zM1084 603h1v1h-1zM1085 603h1v1h-1zM1086 603h1v1h-1zM1087 603h1v1h-1zM1088 604h1v1h-1zM1089 604h1v1h-1zM1090 604h1v1h-1zM1091 604h1v1h-1zM1092 605h1v1h-1zM1093 605h1v1h-1zM1094 605h1v1h-1zM1095 604h1v1h-1zM1096 603h1v1h-1zM1097 603h1v1h-1zM1098 602h1v1h-1zM1099 603h1v1h-1zM1100 604h1v1h-1zM1101 604h1v1h-1zM1102 604h1v2h-1zM1103 602h1v2h-1zM1104 600h1v2h-1zM1105 598h1v2h-1zM1106 596h1v2h-1zM1107 597h1v1h-1zM1108 597h1v1h-1zM1109 598h1v1h-1zM1110 598h1v1h-1zM1111 598h1v1h-1zM1112 598h1v1h-1zM1113 598h1v1h-1zM1114 598h1v1h-1zM1115 599h1v1h-1zM1116 600h1v1h-1zM1117 600h1v1h-1zM1118 601h1v1h-1zM1119 601h1v1h-1zM1120 602h1v1h-1zM1121 602h1v1h-1zM1122 602h1v1h-1zM1123 602h1v1h-1zM1124 602h1v1h-1zM1125 602h1v1h-1zM1126 602h1v1h-1zM1127 601h1v1h-1zM1128 601h1v1h-1zM1129 600h1v1h-1zM1130 600h1v1h-1zM1131 600h1v1h-1zM1132 601h1v1h-1zM1133 601h1v1h-1zM1134 601h1v1h-1zM1135 599h1v2h-1zM1136 597h1v2h-1zM1137 595h1v2h-1zM1138 593h1v2h-1zM1139 592h1v1h-1zM1140 591h1v1h-1zM1141 591h1v1h-1zM1142 590h1v1h-1zM1143 590h1v1h-1zM1144 589h1v1h-1zM1145 589h1v1h-1zM1146 589h1v1h-1zM1147 588h1v1h-1zM1148 587h1v1h-1zM1149 587h1v1h-1zM1150 586h1v1h-1zM1151 586h1v1h-1zM1152 585h1v1h-1zM1153 585h1v1h-1zM1154 585h1v1h-1zM1155 586h1v1h-1zM1156 587h1v1h-1zM1157 588h1v1h-1zM1158 589h1v1h-1zM1159 590h1v2h-1zM1160 592h1v1h-1zM1161 593h1v2h-1zM1162 595h1v1h-1zM1163 596h1v1h-1zM1164 596h1v1h-1zM1165 597h1v1h-1zM1166 597h1v1h-1zM1167 596h1v1h-1zM1168 596h1v1h-1zM1169 595h1v1h-1zM1170 595h1v1h-1zM1171 594h1v1h-1zM1172 594h1v1h-1zM1173 593h1v1h-1zM1174 593h1v1h-1zM1175 594h1v2h-1zM1176 596h1v1h-1zM1177 597h1v2h-1zM1178 599h1v1h-1zM1179 599h1v1h-1zM1180 599h1v1h-1zM1181 599h1v1h-1zM1182 599h1v1h-1zM1183 598h1v1h-1zM1184 597h1v1h-1zM1185 596h1v1h-1zM1186 594h1v2h-1zM1187 592h1v2h-1zM1188 590h1v2h-1zM1189 588h1v2h-1zM1190 586h1v2h-1zM1191 587h1v1h-1zM1192 588h1v1h-1zM1193 589h1v1h-1zM1194 590h1v1h-1zM1195 588h1v2h-1zM1196 587h1v1h-1zM1197 585h1v2h-1zM1198 584h1v1h-1zM1199 582h1v2h-1zM1200 580h1v2h-1zM1201 578h1v2h-1zM1202 577h1v1h-1zM1203 578h1v1h-1zM1204 579h1v1h-1zM1205 579h1v1h-1zM1206 580h1v1h-1zM1207 581h1v1h-1zM1208 582h1v1h-1zM1209 582h1v1h-1zM1210 583h1v1h-1zM1211 582h1v1h-1zM1212 582h1v1h-1zM1213 581h1v1h-1zM1214 581h1v1h-1zM1215 580h1v1h-1zM1216 580h1v1h-1zM1217 579h1v1h-1zM1218 579h1v1h-1zM1219 579h1v1h-1zM1220 578h1v1h-1zM1221 578h1v1h-1zM1222 578h1v1h-1zM1223 578h1v1h-1zM1224 578h1v1h-1zM1225 578h1v1h-1zM1226 578h1v1h-1zM1227 579h1v1h-1zM1228 580h1v1h-1zM1229 581h1v1h-1zM1230 582h1v1h-1zM1231 581h1v1h-1zM1232 580h1v1h-1zM1233 580h1v1h-1zM1234 579h1v1h-1zM1235 580h1v2h-1zM1236 582h1v2h-1zM1237 584h1v2h-1zM1238 586h1v1h-1zM1239 586h1v1h-1zM1240 587h1v1h-1zM1241 587h1v1h-1zM1242 587h1v1h-1zM1243 586h1v1h-1zM1244 586h1v1h-1zM1245 585h1v1h-1zM1246 585h1v1h-1zM1247 584h1v1h-1zM1248 583h1v1h-1zM1249 582h1v1h-1zM1250 581h1v1h-1zM1251 582h1v1h-1zM1252 583h1v1h-1zM1253 583h1v1h-1zM1254 584h1v1h-1zM1255 583h1v1h-1zM1256 582h1v1h-1zM1257 581h1v1h-1zM1258 580h1v1h-1zM1259 580h1v1h-1zM1260 581h1v1h-1zM1261 581h1v1h-1zM1262 581h1v1h-1zM1263 581h1v1h-1zM1264 580h1v1h-1zM1265 580h1v1h-1zM1266 580h1v1h-1z"/>
<text x="6" y="548" font-size="9.8" fill="#000" stroke="#000" stroke-width="0.15" textLength="67.6" lengthAdjust="spacingAndGlyphs">RSI(14) 51.6228</text>
<rect x="1595" y="537" width="2" height="1" fill="#000"/>
<rect x="1595" y="537" width="2" height="1" fill="#000"/>
<text x="1598.3" y="546" font-size="9.8" fill="#000" stroke="#000" stroke-width="0.15" textLength="14.7" lengthAdjust="spacingAndGlyphs">100</text>
<rect x="1595" y="564" width="2" height="1" fill="#000"/>
<text x="1598.3" y="568" font-size="9.8" fill="#000" stroke="#000" stroke-width="0.15" textLength="9.4" lengthAdjust="spacingAndGlyphs">70</text>
<rect x="1595" y="600" width="2" height="1" fill="#000"/>
<text x="1598.3" y="604.5" font-size="9.8" fill="#000" stroke="#000" stroke-width="0.15" textLength="9.4" lengthAdjust="spacingAndGlyphs">30</text>
<rect x="1595" y="627" width="2" height="1" fill="#000"/>
<text x="1598.3" y="625" font-size="9.8" fill="#000" stroke="#000" stroke-width="0.15" textLength="4.8" lengthAdjust="spacingAndGlyphs">0</text>
<g fill="#c0c0c0">
<rect x="2" y="662" width="1" height="13"/>
<rect x="6" y="662" width="1" height="11"/>
<rect x="10" y="662" width="1" height="11"/>
<rect x="14" y="662" width="1" height="8"/>
<rect x="18" y="662" width="1" height="6"/>
<rect x="22" y="662" width="1" height="6"/>
<rect x="26" y="662" width="1" height="8"/>
<rect x="30" y="662" width="1" height="10"/>
<rect x="34" y="662" width="1" height="11"/>
<rect x="38" y="662" width="1" height="10"/>
<rect x="42" y="662" width="1" height="7"/>
<rect x="46" y="662" width="1" height="4"/>
<rect x="50" y="662" width="1" height="1"/>
<rect x="54" y="660" width="1" height="3"/>
<rect x="58" y="658" width="1" height="5"/>
<rect x="62" y="656" width="1" height="7"/>
<rect x="66" y="655" width="1" height="8"/>
<rect x="70" y="654" width="1" height="9"/>
<rect x="74" y="652" width="1" height="11"/>
<rect x="78" y="650" width="1" height="13"/>
<rect x="82" y="649" width="1" height="14"/>
<rect x="86" y="648" width="1" height="15"/>
<rect x="90" y="647" width="1" height="16"/>
<rect x="94" y="647" width="1" height="16"/>
<rect x="98" y="648" width="1" height="15"/>
<rect x="102" y="650" width="1" height="13"/>
<rect x="106" y="651" width="1" height="12"/>
<rect x="110" y="653" width="1" height="10"/>
<rect x="114" y="654" width="1" height="9"/>
<rect x="118" y="658" width="1" height="5"/>
<rect x="122" y="662" width="1" height="1"/>
<rect x="126" y="662" width="1" height="5"/>
<rect x="130" y="662" width="1" height="11"/>
<rect x="134" y="662" width="1" height="17"/>
<rect x="138" y="662" width="1" height="21"/>
<rect x="142" y="662" width="1" height="27"/>
<rect x="146" y="662" width="1" height="36"/>
<rect x="150" y="662" width="1" height="43"/>
<rect x="154" y="662" width="1" height="51"/>
<rect x="158" y="662" width="1" height="55"/>
<rect x="162" y="662" width="1" height="56"/>
<rect x="166" y="662" width="1" height="49"/>
<rect x="170" y="662" width="1" height="44"/>
<rect x="174" y="662" width="1" height="38"/>
<rect x="178" y="662" width="1" height="37"/>
<rect x="182" y="662" width="1" height="28"/>
<rect x="186" y="662" width="1" height="18"/>
<rect x="190" y="662" width="1" height="5"/>
<rect x="194" y="655" width="1" height="8"/>
<rect x="198" y="645" width="1" height="18"/>
<rect x="202" y="640" width="1" height="23"/>
<rect x="206" y="637" width="1" height="26"/>
<rect x="210" y="637" width="1" height="26"/>
<rect x="214" y="642" width="1" height="21"/>
<rect x="218" y="650" width="1" height="13"/>
<rect x="222" y="657" width="1" height="6"/>
<rect x="226" y="660" width="1" height="3"/>
<rect x="230" y="661" width="1" height="2"/>
<rect x="234" y="660" width="1" height="3"/>
<rect x="238" y="658" width="1" height="5"/>
<rect x="242" y="654" width="1" height="9"/>
<rect x="246" y="651" width="1" height="12"/>
<rect x="250" y="649" width="1" height="14"/>
<rect x="254" y="650" width="1" height="13"/>
<rect x="258" y="651" width="1" height="12"/>
<rect x="262" y="653" width="1" height="10"/>
<rect x="266" y="656" width="1" height="7"/>
<rect x="270" y="658" width="1" height="5"/>
<rect x="274" y="660" width="1" height="3"/>
<rect x="278" y="662" width="1" height="2"/>
<rect x="282" y="662" width="1" height="3"/>
<rect x="286" y="662" width="1" height="1"/>
<rect x="290" y="662" width="1" height="2"/>
<rect x="294" y="662" width="1" height="2"/>
<rect x="298" y="662" width="1" height="2"/>
<rect x="302" y="662" width="1" height="1"/>
<rect x="306" y="660" width="1" height="3"/>
<rect x="310" y="658" width="1" height="5"/>
<rect x="314" y="656" width="1" height="7"/>
<rect x="318" y="654" width="1" height="9"/>
<rect x="322" y="653" width="1" height="10"/>
<rect x="326" y="652" width="1" height="11"/>
<rect x="330" y="652" width="1" height="11"/>
<rect x="334" y="655" width="1" height="8"/>
<rect x="338" y="660" width="1" height="3"/>
<rect x="342" y="662" width="1" height="2"/>
<rect x="346" y="662" width="1" height="4"/>
<rect x="350" y="662" width="1" height="2"/>
<rect x="354" y="660" width="1" height="3"/>
<rect x="358" y="658" width="1" height="5"/>
<rect x="362" y="659" width="1" height="4"/>
<rect x="366" y="659" width="1" height="4"/>
<rect x="370" y="658" width="1" height="5"/>
<rect x="374" y="660" width="1" height="3"/>
<rect x="378" y="660" width="1" height="3"/>
<rect x="382" y="659" width="1" height="4"/>
<rect x="386" y="658" width="1" height="5"/>
<rect x="390" y="658" width="1" height="5"/>
<rect x="394" y="659" width="1" height="4"/>
<rect x="398" y="658" width="1" height="5"/>
<rect x="402" y="661" width="1" height="2"/>
<rect x="406" y="661" width="1" height="2"/>
<rect x="410" y="661" width="1" height="2"/>
<rect x="414" y="660" width="1" height="3"/>
<rect x="418" y="660" width="1" height="3"/>
<rect x="422" y="662" width="1" height="1"/>
<rect x="426" y="662" width="1" height="1"/>
<rect x="430" y="662" width="1" height="4"/>
<rect x="434" y="662" width="1" height="6"/>
<rect x="438" y="662" width="1" height="9"/>
<rect x="442" y="662" width="1" height="10"/>
<rect x="446" y="662" width="1" height="11"/>
<rect x="450" y="662" width="1" height="12"/>
<rect x="454" y="662" width="1" height="15"/>
<rect x="458" y="662" width="1" height="15"/>
<rect x="462" y="662" width="1" height="14"/>
<rect x="466" y="662" width="1" height="16"/>
<rect x="470" y="662" width="1" height="20"/>
<rect x="474" y="662" width="1" height="25"/>
<rect x="478" y="662" width="1" height="31"/>
<rect x="482" y="662" width="1" height="30"/>
<rect x="486" y="662" width="1" height="28"/>
<rect x="490" y="662" width="1" height="28"/>
<rect x="494" y="662" width="1" height="27"/>
<rect x="498" y="662" width="1" height="26"/>
<rect x="502" y="662" width="1" height="25"/>
<rect x="506" y="662" width="1" height="24"/>
<rect x="510" y="662" width="1" height="22"/>
<rect x="514" y="662" width="1" height="23"/>
<rect x="518" y="662" width="1" height="24"/>
<rect x="522" y="662" width="1" height="24"/>
<rect x="526" y="662" width="1" height="23"/>
<rect x="530" y="662" width="1" height="22"/>
<rect x="534" y="662" width="1" height="21"/>
<rect x="538" y="662" width="1" height="19"/>
<rect x="542" y="662" width="1" height="19"/>
<rect x="546" y="662" width="1" height="19"/>
<rect x="550" y="662" width="1" height="19"/>
<rect x="554" y="662" width="1" height="19"/>
<rect x="558" y="662" width="1" height="18"/>
<rect x="562" y="662" width="1" height="19"/>
<rect x="566" y="662" width="1" height="20"/>
<rect x="570" y="662" width="1" height="22"/>
<rect x="574" y="662" width="1" height="22"/>
<rect x="578" y="662" width="1" height="22"/>
<rect x="582" y="662" width="1" height="21"/>
<rect x="586" y="662" width="1" height="21"/>
<rect x="590" y="662" width="1" height="21"/>
<rect x="594" y="662" width="1" height="19"/>
<rect x="598" y="662" width="1" height="17"/>
<rect x="602" y="662" width="1" height="17"/>
<rect x="606" y="662" width="1" height="17"/>
<rect x="610" y="662" width="1" height="17"/>
<rect x="614" y="662" width="1" height="19"/>
<rect x="618" y="662" width="1" height="22"/>
<rect x="622" y="662" width="1" height="26"/>
<rect x="626" y="662" width="1" height="30"/>
<rect x="630" y="662" width="1" height="32"/>
<rect x="634" y="662" width="1" height="35"/>
<rect x="638" y="662" width="1" height="38"/>
<rect x="642" y="662" width="1" height="41"/>
<rect x="646" y="662" width="1" height="44"/>
<rect x="650" y="662" width="1" height="46"/>
<rect x="654" y="662" width="1" height="46"/>
<rect x="658" y="662" width="1" height="43"/>
<rect x="662" y="662" width="1" height="42"/>
<rect x="666" y="662" width="1" height="45"/>
<rect x="670" y="662" width="1" height="45"/>
<rect x="674" y="662" width="1" height="42"/>
<rect x="678" y="662" width="1" height="40"/>
<rect x="682" y="662" width="1" height="38"/>
<rect x="686" y="662" width="1" height="35"/>
<rect x="690" y="662" width="1" height="34"/>
<rect x="694" y="662" width="1" height="34"/>
<rect x="698" y="662" width="1" height="33"/>
<rect x="702" y="662" width="1" height="33"/>
<rect x="706" y="662" width="1" height="33"/>
<rect x="710" y="662" width="1" height="34"/>
<rect x="714" y="662" width="1" height="31"/>
<rect x="718" y="662" width="1" height="30"/>
<rect x="722" y="662" width="1" height="27"/>
<rect x="726" y="662" width="1" height="24"/>
<rect x="730" y="662" width="1" height="22"/>
<rect x="734" y="662" width="1" height="22"/>
<rect x="738" y="662" width="1" height="21"/>
<rect x="742" y="662" width="1" height="21"/>
<rect x="746" y="662" width="1" height="21"/>
<rect x="750" y="662" width="1" height="22"/>
<rect x="754" y="662" width="1" height="23"/>
<rect x="758" y="662" width="1" height="21"/>
<rect x="762" y="662" width="1" height="19"/>
<rect x="766" y="662" width="1" height="16"/>
<rect x="770" y="662" width="1" height="12"/>
<rect x="774" y="662" width="1" height="10"/>
<rect x="778" y="662" width="1" height="7"/>
<rect x="782" y="662" width="1" height="4"/>
<rect x="786" y="662" width="1" height="3"/>
<rect x="790" y="662" width="1" height="5"/>
<rect x="794" y="662" width="1" height="5"/>
<rect x="798" y="662" width="1" height="6"/>
<rect x="802" y="662" width="1" height="7"/>
<rect x="806" y="662" width="1" height="7"/>
<rect x="810" y="662" width="1" height="7"/>
<rect x="814" y="662" width="1" height="7"/>
<rect x="818" y="662" width="1" height="6"/>
<rect x="822" y="662" width="1" height="6"/>
<rect x="826" y="662" width="1" height="3"/>
<rect x="830" y="660" width="1" height="3"/>
<rect x="834" y="656" width="1" height="7"/>
<rect x="838" y="651" width="1" height="12"/>
<rect x="842" y="646" width="1" height="17"/>
<rect x="846" y="643" width="1" height="20"/>
<rect x="850" y="642" width="1" height="21"/>
<rect x="854" y="643" width="1" height="20"/>
<rect x="858" y="645" width="1" height="18"/>
<rect x="862" y="647" width="1" height="16"/>
<rect x="866" y="648" width="1" height="15"/>
<rect x="870" y="649" width="1" height="14"/>
<rect x="874" y="652" width="1" height="11"/>
<rect x="878" y="655" width="1" height="8"/>
<rect x="882" y="656" width="1" height="7"/>
<rect x="886" y="656" width="1" height="7"/>
<rect x="890" y="660" width="1" height="3"/>
<rect x="894" y="662" width="1" height="2"/>
<rect x="898" y="662" width="1" height="5"/>
<rect x="902" y="662" width="1" height="5"/>
<rect x="906" y="662" width="1" height="5"/>
<rect x="910" y="662" width="1" height="5"/>
<rect x="914" y="662" width="1" height="4"/>
<rect x="918" y="662" width="1" height="4"/>
<rect x="922" y="662" width="1" height="6"/>
<rect x="926" y="662" width="1" height="8"/>
<rect x="930" y="662" width="1" height="11"/>
<rect x="934" y="662" width="1" height="12"/>
<rect x="938" y="662" width="1" height="14"/>
<rect x="942" y="662" width="1" height="15"/>
<rect x="946" y="662" width="1" height="15"/>
<rect x="950" y="662" width="1" height="15"/>
<rect x="954" y="662" width="1" height="13"/>
<rect x="958" y="662" width="1" height="9"/>
<rect x="962" y="662" width="1" height="6"/>
<rect x="966" y="662" width="1" height="3"/>
<rect x="970" y="661" width="1" height="2"/>
<rect x="974" y="661" width="1" height="2"/>
<rect x="978" y="662" width="1" height="1"/>
<rect x="982" y="662" width="1" height="4"/>
<rect x="986" y="662" width="1" height="8"/>
<rect x="990" y="662" width="1" height="12"/>
<rect x="994" y="662" width="1" height="10"/>
<rect x="998" y="662" width="1" height="8"/>
<rect x="1002" y="662" width="1" height="4"/>
<rect x="1006" y="662" width="1" height="2"/>
<rect x="1010" y="662" width="1" height="2"/>
<rect x="1014" y="662" width="1" height="1"/>
<rect x="1018" y="661" width="1" height="2"/>
<rect x="1022" y="662" width="1" height="1"/>
<rect x="1026" y="662" width="1" height="2"/>
<rect x="1030" y="662" width="1" height="2"/>
<rect x="1034" y="662" width="1" height="2"/>
<rect x="1038" y="662" width="1" height="2"/>
<rect x="1042" y="662" width="1" height="1"/>
<rect x="1046" y="662" width="1" height="1"/>
<rect x="1050" y="662" width="1" height="1"/>
<rect x="1054" y="662" width="1" height="3"/>
<rect x="1058" y="662" width="1" height="6"/>
<rect x="1062" y="662" width="1" height="7"/>
<rect x="1066" y="662" width="1" height="9"/>
<rect x="1070" y="662" width="1" height="11"/>
<rect x="1074" y="662" width="1" height="15"/>
<rect x="1078" y="662" width="1" height="20"/>
<rect x="1082" y="662" width="1" height="24"/>
<rect x="1086" y="662" width="1" height="26"/>
<rect x="1090" y="662" width="1" height="29"/>
<rect x="1094" y="662" width="1" height="31"/>
<rect x="1098" y="662" width="1" height="31"/>
<rect x="1102" y="662" width="1" height="33"/>
<rect x="1106" y="662" width="1" height="32"/>
<rect x="1110" y="662" width="1" height="31"/>
<rect x="1114" y="662" width="1" height="31"/>
<rect x="1118" y="662" width="1" height="31"/>
<rect x="1122" y="662" width="1" height="32"/>
<rect x="1126" y="662" width="1" height="32"/>
<rect x="1130" y="662" width="1" height="31"/>
<rect x="1134" y="662" width="1" height="31"/>
<rect x="1138" y="662" width="1" height="29"/>
<rect x="1142" y="662" width="1" height="26"/>
<rect x="1146" y="662" width="1" height="24"/>
<rect x="1150" y="662" width="1" height="21"/>
<rect x="1154" y="662" width="1" height="19"/>
<rect x="1158" y="662" width="1" height="17"/>
<rect x="1162" y="662" width="1" height="18"/>
<rect x="1166" y="662" width="1" height="19"/>
<rect x="1170" y="662" width="1" height="19"/>
<rect x="1174" y="662" width="1" height="19"/>
<rect x="1178" y="662" width="1" height="20"/>
<rect x="1182" y="662" width="1" height="21"/>
<rect x="1186" y="662" width="1" height="21"/>
<rect x="1190" y="662" width="1" height="19"/>
<rect x="1194" y="662" width="1" height="18"/>
<rect x="1198" y="662" width="1" height="16"/>
<rect x="1202" y="662" width="1" height="12"/>
<rect x="1206" y="662" width="1" height="10"/>
<rect x="1210" y="662" width="1" height="9"/>
<rect x="1214" y="662" width="1" height="7"/>
<rect x="1218" y="662" width="1" height="6"/>
<rect x="1222" y="662" width="1" height="4"/>
<rect x="1226" y="662" width="1" height="2"/>
<rect x="1230" y="662" width="1" height="2"/>
<rect x="1234" y="662" width="1" height="1"/>
<rect x="1238" y="662" width="1" height="2"/>
<rect x="1242" y="662" width="1" height="3"/>
<rect x="1246" y="662" width="1" height="4"/>
<rect x="1250" y="662" width="1" height="3"/>
<rect x="1254" y="662" width="1" height="3"/>
<rect x="1258" y="662" width="1" height="2"/>
<rect x="1262" y="662" width="1" height="2"/>
<rect x="1266" y="662" width="1" height="1"/>
</g>
<path fill="#ff0000" d="M2 679h1v1h-1zM3 679h1v1h-1zM4 678h1v1h-1zM8 677h1v1h-1zM9 677h1v1h-1zM10 677h1v1h-1zM14 675h1v1h-1zM15 675h1v1h-1zM16 674h1v1h-1zM20 673h1v1h-1zM21 672h1v1h-1zM22 672h1v1h-1zM26 671h1v1h-1zM27 671h1v1h-1zM28 671h1v1h-1zM32 670h1v1h-1zM33 670h1v1h-1zM34 670h1v1h-1zM38 670h1v1h-1zM39 670h1v1h-1zM40 670h1v1h-1zM44 669h1v1h-1zM45 669h1v1h-1zM46 669h1v1h-1zM50 668h1v1h-1zM51 668h1v1h-1zM52 667h1v1h-1zM56 666h1v1h-1zM57 666h1v1h-1zM58 666h1v1h-1zM62 665h1v1h-1zM63 664h1v1h-1zM64 664h1v1h-1zM68 662h1v1h-1zM69 661h1v1h-1zM70 661h1v1h-1zM74 659h1v1h-1zM75 658h1v1h-1zM76 658h1v1h-1zM80 656h1v1h-1zM81 655h1v1h-1zM82 655h1v1h-1zM86 654h1v1h-1zM87 653h1v1h-1zM88 653h1v1h-1zM92 651h1v1h-1zM93 651h1v1h-1zM94 651h1v1h-1zM98 650h1v1h-1zM99 650h1v1h-1zM100 650h1v1h-1zM104 649h1v1h-1zM105 649h1v1h-1zM106 649h1v1h-1zM110 649h1v1h-1zM111 649h1v1h-1zM112 650h1v1h-1zM116 651h1v1h-1zM117 651h1v1h-1zM118 651h1v1h-1zM122 652h1v1h-1zM123 653h1v1h-1zM124 654h1v1h-1zM128 656h1v1h-1zM129 657h1v1h-1zM130 657h1v1h-1zM134 661h1v1h-1zM135 662h1v1h-1zM136 663h1v1h-1zM140 666h1v1h-1zM141 667h1v1h-1zM142 668h1v1h-1zM145 672h1v1h-1zM146 673h1v1h-1zM147 674h1v1h-1zM149 678h1v1h-1zM150 679h1v1h-1zM151 680h1v1h-1zM153 684h1v1h-1zM154 685h1v1h-1zM155 686h1v1h-1zM157 690h1v1h-1zM158 691h1v1h-1zM159 692h1v1h-1zM162 696h1v1h-1zM163 697h1v1h-1zM164 698h1v1h-1zM168 702h1v1h-1zM169 703h1v1h-1zM170 704h1v1h-1zM174 705h1v1h-1zM175 706h1v1h-1zM176 706h1v1h-1zM180 706h1v1h-1zM181 706h1v1h-1zM182 706h1v1h-1zM186 703h1v1h-1zM187 702h1v1h-1zM188 701h1v1h-1zM191 696h1v2h-1zM192 695h1v1h-1zM194 691h1v1h-1zM195 689h1v2h-1zM197 685h1v1h-1zM198 683h1v2h-1zM200 679h1v1h-1zM201 677h1v2h-1zM203 673h1v1h-1zM204 671h1v2h-1zM207 666h1v2h-1zM208 665h1v1h-1zM210 661h1v1h-1zM211 659h1v2h-1zM213 655h1v1h-1zM214 654h1v1h-1zM215 653h1v1h-1zM219 649h1v1h-1zM220 649h1v1h-1zM221 648h1v1h-1zM225 647h1v1h-1zM226 647h1v1h-1zM227 647h1v1h-1zM231 648h1v1h-1zM232 649h1v1h-1zM233 649h1v1h-1zM237 651h1v1h-1zM238 651h1v1h-1zM239 652h1v1h-1zM243 654h1v1h-1zM244 654h1v1h-1zM245 655h1v1h-1zM249 656h1v1h-1zM250 656h1v1h-1zM251 656h1v1h-1zM255 656h1v1h-1zM256 655h1v1h-1zM257 655h1v1h-1zM261 654h1v1h-1zM262 654h1v1h-1zM263 654h1v1h-1zM267 654h1v1h-1zM268 653h1v1h-1zM269 653h1v1h-1zM273 654h1v1h-1zM274 654h1v1h-1zM275 654h1v1h-1zM279 655h1v1h-1zM280 656h1v1h-1zM281 656h1v1h-1zM285 657h1v1h-1zM286 657h1v1h-1zM287 658h1v1h-1zM291 659h1v1h-1zM292 660h1v1h-1zM293 660h1v1h-1zM297 661h1v1h-1zM298 661h1v1h-1zM299 661h1v1h-1zM303 662h1v1h-1zM304 662h1v1h-1zM305 662h1v1h-1zM309 662h1v1h-1zM310 662h1v1h-1zM311 662h1v1h-1zM315 661h1v1h-1zM316 660h1v1h-1zM317 660h1v1h-1zM321 659h1v1h-1zM322 659h1v1h-1zM323 659h1v1h-1zM327 658h1v1h-1zM328 657h1v1h-1zM329 657h1v1h-1zM333 656h1v1h-1zM334 656h1v1h-1zM335 656h1v1h-1zM339 656h1v1h-1zM340 656h1v1h-1zM341 656h1v1h-1zM345 657h1v1h-1zM346 657h1v1h-1zM347 657h1v1h-1zM351 657h1v1h-1zM352 658h1v1h-1zM353 658h1v1h-1zM357 659h1v1h-1zM358 659h1v1h-1zM359 659h1v1h-1zM363 659h1v1h-1zM364 660h1v1h-1zM365 660h1v1h-1zM369 661h1v1h-1zM370 661h1v1h-1zM371 661h1v1h-1zM375 661h1v1h-1zM376 660h1v1h-1zM377 660h1v1h-1zM381 660h1v1h-1zM382 660h1v1h-1zM383 660h1v1h-1zM387 659h1v1h-1zM388 659h1v1h-1zM389 659h1v1h-1zM393 659h1v1h-1zM394 659h1v1h-1zM395 659h1v1h-1zM399 659h1v1h-1zM400 659h1v1h-1zM401 659h1v1h-1zM405 659h1v1h-1zM406 659h1v1h-1zM407 659h1v1h-1zM411 659h1v1h-1zM412 660h1v1h-1zM413 660h1v1h-1zM417 660h1v1h-1zM418 660h1v1h-1zM419 660h1v1h-1zM423 660h1v1h-1zM424 660h1v1h-1zM425 660h1v1h-1zM429 661h1v1h-1zM430 661h1v1h-1zM431 661h1v1h-1zM435 662h1v1h-1zM436 663h1v1h-1zM437 663h1v1h-1zM441 664h1v1h-1zM442 664h1v1h-1zM443 664h1v1h-1zM447 666h1v1h-1zM448 666h1v1h-1zM449 667h1v1h-1zM453 669h1v1h-1zM454 669h1v1h-1zM455 669h1v1h-1zM459 671h1v1h-1zM460 671h1v1h-1zM461 672h1v1h-1zM465 673h1v1h-1zM466 673h1v1h-1zM467 674h1v1h-1zM471 675h1v1h-1zM472 676h1v1h-1zM473 676h1v1h-1zM477 678h1v1h-1zM478 679h1v1h-1zM479 680h1v1h-1zM483 682h1v1h-1zM484 682h1v1h-1zM485 683h1v1h-1zM489 684h1v1h-1zM490 684h1v1h-1zM491 684h1v1h-1zM495 686h1v1h-1zM496 686h1v1h-1zM497 687h1v1h-1zM501 688h1v1h-1zM502 688h1v1h-1zM503 688h1v1h-1zM507 688h1v1h-1zM508 688h1v1h-1zM509 688h1v1h-1zM513 687h1v1h-1zM514 687h1v1h-1zM515 687h1v1h-1zM519 686h1v1h-1zM520 686h1v1h-1zM521 686h1v1h-1zM525 685h1v1h-1zM526 685h1v1h-1zM527 685h1v1h-1zM531 685h1v1h-1zM532 684h1v1h-1zM533 684h1v1h-1zM537 683h1v1h-1zM538 683h1v1h-1zM539 683h1v1h-1zM543 683h1v1h-1zM544 682h1v1h-1zM545 682h1v1h-1zM549 682h1v1h-1zM550 682h1v1h-1zM551 682h1v1h-1zM555 681h1v1h-1zM556 681h1v1h-1zM557 681h1v1h-1zM561 680h1v1h-1zM562 680h1v1h-1zM563 680h1v1h-1zM567 680h1v1h-1zM568 680h1v1h-1zM569 680h1v1h-1zM573 681h1v1h-1zM574 681h1v1h-1zM575 681h1v1h-1zM579 681h1v1h-1zM580 681h1v1h-1zM581 681h1v1h-1zM585 682h1v1h-1zM586 682h1v1h-1zM587 682h1v1h-1zM591 682h1v1h-1zM592 682h1v1h-1zM593 682h1v1h-1zM597 681h1v1h-1zM598 681h1v1h-1zM599 681h1v1h-1zM603 681h1v1h-1zM604 681h1v1h-1zM605 681h1v1h-1zM609 680h1v1h-1zM610 680h1v1h-1zM611 680h1v1h-1zM615 680h1v1h-1zM616 680h1v1h-1zM617 680h1v1h-1zM621 680h1v1h-1zM622 680h1v1h-1zM623 680h1v1h-1zM627 682h1v1h-1zM628 682h1v1h-1zM629 683h1v1h-1zM633 685h1v1h-1zM634 685h1v1h-1zM635 686h1v1h-1zM639 688h1v1h-1zM640 689h1v1h-1zM641 689h1v1h-1zM645 692h1v1h-1zM646 693h1v1h-1zM647 694h1v1h-1zM651 697h1v1h-1zM652 697h1v1h-1zM653 698h1v1h-1zM657 700h1v1h-1zM658 700h1v1h-1zM659 701h1v1h-1zM663 702h1v1h-1zM664 703h1v1h-1zM665 703h1v1h-1zM669 704h1v1h-1zM670 704h1v1h-1zM671 704h1v1h-1zM675 705h1v1h-1zM676 705h1v1h-1zM677 705h1v1h-1zM681 704h1v1h-1zM682 704h1v1h-1zM683 704h1v1h-1zM687 702h1v1h-1zM688 702h1v1h-1zM689 701h1v1h-1zM693 700h1v1h-1zM694 700h1v1h-1zM695 700h1v1h-1zM699 699h1v1h-1zM700 698h1v1h-1zM701 698h1v1h-1zM705 697h1v1h-1zM706 697h1v1h-1zM707 697h1v1h-1zM711 696h1v1h-1zM712 695h1v1h-1zM713 695h1v1h-1zM717 694h1v1h-1zM718 694h1v1h-1zM719 694h1v1h-1zM723 693h1v1h-1zM724 692h1v1h-1zM725 692h1v1h-1zM729 691h1v1h-1zM730 691h1v1h-1zM731 691h1v1h-1zM735 689h1v1h-1zM736 689h1v1h-1zM737 688h1v1h-1zM741 687h1v1h-1zM742 687h1v1h-1zM743 686h1v1h-1zM747 685h1v1h-1zM748 684h1v1h-1zM749 684h1v1h-1zM753 684h1v1h-1zM754 684h1v1h-1zM755 684h1v1h-1zM759 683h1v1h-1zM760 682h1v1h-1zM761 682h1v1h-1zM765 682h1v1h-1zM766 682h1v1h-1zM767 682h1v1h-1zM771 680h1v1h-1zM772 680h1v1h-1zM773 679h1v1h-1zM777 678h1v1h-1zM778 678h1v1h-1zM779 677h1v1h-1zM783 675h1v1h-1zM784 675h1v1h-1zM785 674h1v1h-1zM789 672h1v1h-1zM790 672h1v1h-1zM791 671h1v1h-1zM795 670h1v1h-1zM796 669h1v1h-1zM797 669h1v1h-1zM801 668h1v1h-1zM802 668h1v1h-1zM803 668h1v1h-1zM807 667h1v1h-1zM808 667h1v1h-1zM809 667h1v1h-1zM813 667h1v1h-1zM814 667h1v1h-1zM815 667h1v1h-1zM819 667h1v1h-1zM820 667h1v1h-1zM821 667h1v1h-1zM825 667h1v1h-1zM826 667h1v1h-1zM827 667h1v1h-1zM831 666h1v1h-1zM832 665h1v1h-1zM833 665h1v1h-1zM837 663h1v1h-1zM838 663h1v1h-1zM839 662h1v1h-1zM843 660h1v1h-1zM844 659h1v1h-1zM845 659h1v1h-1zM849 656h1v1h-1zM850 655h1v1h-1zM851 654h1v1h-1zM855 651h1v1h-1zM856 651h1v1h-1zM857 650h1v1h-1zM861 648h1v1h-1zM862 648h1v1h-1zM863 648h1v1h-1zM867 647h1v1h-1zM868 646h1v1h-1zM869 646h1v1h-1zM873 646h1v1h-1zM874 646h1v1h-1zM875 646h1v1h-1zM879 648h1v1h-1zM880 648h1v1h-1zM881 649h1v1h-1zM885 650h1v1h-1zM886 650h1v1h-1zM887 651h1v1h-1zM891 653h1v1h-1zM892 653h1v1h-1zM893 654h1v1h-1zM897 656h1v1h-1zM898 656h1v1h-1zM899 657h1v1h-1zM903 659h1v1h-1zM904 659h1v1h-1zM905 660h1v1h-1zM909 662h1v1h-1zM910 662h1v1h-1zM911 662h1v1h-1zM915 663h1v1h-1zM916 664h1v1h-1zM917 664h1v1h-1zM921 665h1v1h-1zM922 665h1v1h-1zM923 665h1v1h-1zM927 666h1v1h-1zM928 667h1v1h-1zM929 667h1v1h-1zM933 668h1v1h-1zM934 668h1v1h-1zM935 668h1v1h-1zM939 669h1v1h-1zM940 670h1v1h-1zM941 670h1v1h-1zM945 671h1v1h-1zM946 671h1v1h-1zM947 671h1v1h-1zM951 672h1v1h-1zM952 673h1v1h-1zM953 673h1v1h-1zM957 674h1v1h-1zM958 674h1v1h-1zM959 674h1v1h-1zM963 673h1v1h-1zM964 672h1v1h-1zM965 672h1v1h-1zM969 671h1v1h-1zM970 671h1v1h-1zM971 670h1v1h-1zM975 669h1v1h-1zM976 668h1v1h-1zM977 668h1v1h-1zM981 667h1v1h-1zM982 667h1v1h-1zM983 667h1v1h-1zM987 666h1v1h-1zM988 666h1v1h-1zM989 666h1v1h-1zM993 666h1v1h-1zM994 666h1v1h-1zM995 666h1v1h-1zM999 666h1v1h-1zM1000 666h1v1h-1zM1001 666h1v1h-1zM1005 667h1v1h-1zM1006 667h1v1h-1zM1007 667h1v1h-1zM1011 667h1v1h-1zM1012 667h1v1h-1zM1013 667h1v1h-1zM1017 666h1v1h-1zM1018 666h1v1h-1zM1019 666h1v1h-1zM1023 665h1v1h-1zM1024 664h1v1h-1zM1025 664h1v1h-1zM1029 663h1v1h-1zM1030 663h1v1h-1zM1031 663h1v1h-1zM1035 663h1v1h-1zM1036 662h1v1h-1zM1037 662h1v1h-1zM1041 662h1v1h-1zM1042 662h1v1h-1zM1043 662h1v1h-1zM1047 662h1v1h-1zM1048 662h1v1h-1zM1049 662h1v1h-1zM1053 663h1v1h-1zM1054 663h1v1h-1zM1055 663h1v1h-1zM1059 663h1v1h-1zM1060 664h1v1h-1zM1061 664h1v1h-1zM1065 664h1v1h-1zM1066 664h1v1h-1zM1067 664h1v1h-1zM1071 666h1v1h-1zM1072 666h1v1h-1zM1073 667h1v1h-1zM1077 669h1v1h-1zM1078 669h1v1h-1zM1079 670h1v1h-1zM1083 673h1v1h-1zM1084 673h1v1h-1zM1085 674h1v1h-1zM1089 676h1v1h-1zM1090 677h1v1h-1zM1091 678h1v1h-1zM1095 681h1v1h-1zM1096 682h1v1h-1zM1097 682h1v1h-1zM1101 685h1v1h-1zM1102 685h1v1h-1zM1103 686h1v1h-1zM1107 689h1v1h-1zM1108 689h1v1h-1zM1109 690h1v1h-1zM1113 691h1v1h-1zM1114 691h1v1h-1zM1115 691h1v1h-1zM1119 692h1v1h-1zM1120 692h1v1h-1zM1121 692h1v1h-1zM1125 692h1v1h-1zM1126 692h1v1h-1zM1127 692h1v1h-1zM1131 692h1v1h-1zM1132 692h1v1h-1zM1133 692h1v1h-1zM1137 692h1v1h-1zM1138 692h1v1h-1zM1139 692h1v1h-1zM1143 691h1v1h-1zM1144 691h1v1h-1zM1145 691h1v1h-1zM1149 690h1v1h-1zM1150 690h1v1h-1zM1151 689h1v1h-1zM1155 688h1v1h-1zM1156 687h1v1h-1zM1157 687h1v1h-1zM1161 685h1v1h-1zM1162 685h1v1h-1zM1163 685h1v1h-1zM1167 683h1v1h-1zM1168 683h1v1h-1zM1169 682h1v1h-1zM1173 681h1v1h-1zM1174 681h1v1h-1zM1175 681h1v1h-1zM1179 681h1v1h-1zM1180 680h1v1h-1zM1181 680h1v1h-1zM1185 680h1v1h-1zM1186 680h1v1h-1zM1187 680h1v1h-1zM1191 680h1v1h-1zM1192 681h1v1h-1zM1193 681h1v1h-1zM1197 680h1v1h-1zM1198 680h1v1h-1zM1199 680h1v1h-1zM1203 680h1v1h-1zM1204 679h1v1h-1zM1205 679h1v1h-1zM1209 678h1v1h-1zM1210 678h1v1h-1zM1211 677h1v1h-1zM1215 675h1v1h-1zM1216 675h1v1h-1zM1217 674h1v1h-1zM1221 672h1v1h-1zM1222 672h1v1h-1zM1223 671h1v1h-1zM1227 670h1v1h-1zM1228 669h1v1h-1zM1229 669h1v1h-1zM1233 667h1v1h-1zM1234 667h1v1h-1zM1235 667h1v1h-1zM1239 666h1v1h-1zM1240 665h1v1h-1zM1241 665h1v1h-1zM1245 665h1v1h-1zM1246 665h1v1h-1zM1247 665h1v1h-1zM1251 664h1v1h-1zM1252 664h1v1h-1zM1253 664h1v1h-1zM1257 664h1v1h-1zM1258 664h1v1h-1zM1259 664h1v1h-1zM1263 664h1v1h-1zM1264 664h1v1h-1zM1265 664h1v1h-1z"/>
<text x="6" y="643" font-size="9.8" fill="#000" stroke="#000" stroke-width="0.15" textLength="153.6" lengthAdjust="spacingAndGlyphs">MACD(12,26,9) -0.000067 -0.000268</text>
<rect x="1595" y="632" width="2" height="1" fill="#000"/>
<text x="1598.5" y="641" font-size="9.8" fill="#000" stroke="#000" stroke-width="0.15" textLength="37.7" lengthAdjust="spacingAndGlyphs">0.005818</text>
<rect x="1595" y="662" width="2" height="1" fill="#000"/>
<text x="1598.5" y="665.5" font-size="9.8" fill="#000" stroke="#000" stroke-width="0.15" textLength="17.5" lengthAdjust="spacingAndGlyphs">0.00</text>
<rect x="1595" y="721" width="2" height="1" fill="#000"/>
<text x="1598.5" y="719.5" font-size="9.8" fill="#000" stroke="#000" stroke-width="0.15" textLength="41" lengthAdjust="spacingAndGlyphs">-0.011514</text>
<rect x="2" y="724" width="1" height="3" fill="#000"/>
<text x="1.5" y="736" font-size="9.8" fill="#000" stroke="#000" stroke-width="0.15" textLength="48.9" lengthAdjust="spacingAndGlyphs">24 Jan 2020</text>
<rect x="66" y="724" width="1" height="3" fill="#000"/>
<text x="65.5" y="736" font-size="9.8" fill="#000" stroke="#000" stroke-width="0.15" textLength="51.4" lengthAdjust="spacingAndGlyphs">12 Feb 2020</text>
<rect x="130" y="724" width="1" height="3" fill="#000"/>
<text x="129.5" y="736" font-size="9.8" fill="#000" stroke="#000" stroke-width="0.15" textLength="46.3" lengthAdjust="spacingAndGlyphs">2 Mar 2020</text>
<rect x="194" y="724" width="1" height="3" fill="#000"/>
<text x="193.5" y="736" font-size="9.8" fill="#000" stroke="#000" stroke-width="0.15" textLength="51.5" lengthAdjust="spacingAndGlyphs">20 Mar 2020</text>
<rect x="258" y="724" width="1" height="3" fill="#000"/>
<text x="257.5" y="736" font-size="9.8" fill="#000" stroke="#000" stroke-width="0.15" textLength="44.9" lengthAdjust="spacingAndGlyphs">8 Apr 2020</text>
<rect x="322" y="724" width="1" height="3" fill="#000"/>
<text x="321.5" y="736" font-size="9.8" fill="#000" stroke="#000" stroke-width="0.15" textLength="50.5" lengthAdjust="spacingAndGlyphs">27 Apr 2020</text>
<rect x="386" y="724" width="1" height="3" fill="#000"/>
<text x="385.5" y="736" font-size="9.8" fill="#000" stroke="#000" stroke-width="0.15" textLength="54.5" lengthAdjust="spacingAndGlyphs">15 May 2020</text>
<rect x="450" y="724" width="1" height="3" fill="#000"/>
<text x="449.5" y="736" font-size="9.8" fill="#000" stroke="#000" stroke-width="0.15" textLength="44.3" lengthAdjust="spacingAndGlyphs">3 Jun 2020</text>
<rect x="514" y="724" width="1" height="3" fill="#000"/>
<text x="513.5" y="736" font-size="9.8" fill="#000" stroke="#000" stroke-width="0.15" textLength="49.5" lengthAdjust="spacingAndGlyphs">22 Jun 2020</text>
<rect x="578" y="724" width="1" height="3" fill="#000"/>
<text x="577.5" y="736" font-size="9.8" fill="#000" stroke="#000" stroke-width="0.15" textLength="45.9" lengthAdjust="spacingAndGlyphs">10 Jul 2020</text>
<rect x="642" y="724" width="1" height="3" fill="#000"/>
<text x="641.5" y="736" font-size="9.8" fill="#000" stroke="#000" stroke-width="0.15" textLength="46.3" lengthAdjust="spacingAndGlyphs">29 Jul 2020</text>
<rect x="706" y="724" width="1" height="3" fill="#000"/>
<text x="705.5" y="736" font-size="9.8" fill="#000" stroke="#000" stroke-width="0.15" textLength="52.5" lengthAdjust="spacingAndGlyphs">17 Aug 2020</text>
<rect x="770" y="724" width="1" height="3" fill="#000"/>
<text x="769.5" y="736" font-size="9.8" fill="#000" stroke="#000" stroke-width="0.15" textLength="46.3" lengthAdjust="spacingAndGlyphs">4 Sep 2020</text>
<rect x="834" y="724" width="1" height="3" fill="#000"/>
<text x="833.5" y="736" font-size="9.8" fill="#000" stroke="#000" stroke-width="0.15" textLength="51.5" lengthAdjust="spacingAndGlyphs">23 Sep 2020</text>
<rect x="898" y="724" width="1" height="3" fill="#000"/>
<text x="897.5" y="736" font-size="9.8" fill="#000" stroke="#000" stroke-width="0.15" textLength="50.4" lengthAdjust="spacingAndGlyphs">12 Oct 2020</text>
<rect x="962" y="724" width="1" height="3" fill="#000"/>
<text x="961.5" y="736" font-size="9.8" fill="#000" stroke="#000" stroke-width="0.15" textLength="50.5" lengthAdjust="spacingAndGlyphs">30 Oct 2020</text>
<rect x="1026" y="724" width="1" height="3" fill="#000"/>
<text x="1025.5" y="736" font-size="9.8" fill="#000" stroke="#000" stroke-width="0.15" textLength="53.5" lengthAdjust="spacingAndGlyphs">18 Nov 2020</text>
<rect x="1090" y="724" width="1" height="3" fill="#000"/>
<text x="1089.5" y="736" font-size="9.8" fill="#000" stroke="#000" stroke-width="0.15" textLength="46.3" lengthAdjust="spacingAndGlyphs">7 Dec 2020</text>
<rect x="1154" y="724" width="1" height="3" fill="#000"/>
<text x="1153.5" y="736" font-size="9.8" fill="#000" stroke="#000" stroke-width="0.15" textLength="51.5" lengthAdjust="spacingAndGlyphs">25 Dec 2020</text>
<rect x="1218" y="724" width="1" height="3" fill="#000"/>
<text x="1217.5" y="736" font-size="9.8" fill="#000" stroke="#000" stroke-width="0.15" textLength="49.4" lengthAdjust="spacingAndGlyphs">15 Jan 2021</text>
<rect x="0" y="744" width="1638" height="1" fill="#e3e3e3"/>
<rect x="0" y="746" width="1638" height="1" fill="#000"/>
<rect x="0" y="747" width="1638" height="18" fill="#f0f0f0"/>
<rect x="0" y="747" width="1638" height="1" fill="#ffffff"/>
<rect x="0" y="765" width="1638" height="2" fill="#fafafa"/>
<rect x="0" y="767" width="1638" height="1" fill="#efefef"/>
<rect x="107" y="745" width="100" height="20" fill="#ffffff"/>
<rect x="107" y="746" width="1" height="19" fill="#000"/>
<rect x="206" y="746" width="1" height="19" fill="#000"/>
<rect x="107" y="764" width="100" height="1" fill="#000"/>
<rect x="207" y="747" width="1" height="18" fill="#b0b0b0"/>
<rect x="311" y="749" width="1" height="14" fill="#606060"/>
<rect x="415" y="749" width="1" height="14" fill="#606060"/>
<rect x="519" y="749" width="1" height="14" fill="#606060"/>
<rect x="623" y="749" width="1" height="14" fill="#606060"/>
<rect x="715" y="749" width="1" height="14" fill="#606060"/>
<rect x="831" y="749" width="1" height="14" fill="#606060"/>
<rect x="903" y="749" width="1" height="14" fill="#606060"/>
<rect x="983" y="749" width="1" height="14" fill="#606060"/>
<rect x="1063" y="749" width="1" height="14" fill="#606060"/>
<rect x="1143" y="749" width="1" height="14" fill="#606060"/>
<rect x="1219" y="749" width="1" height="14" fill="#606060"/>
<rect x="1319" y="749" width="1" height="14" fill="#606060"/>
<rect x="1403" y="749" width="1" height="14" fill="#606060"/>
<rect x="1483" y="749" width="1" height="14" fill="#606060"/>
<rect x="1583" y="749" width="1" height="14" fill="#606060"/>
<text x="15.4" y="761" font-size="12" fill="#6d6d6d" textLength="79.8" lengthAdjust="spacingAndGlyphs">EURUSD,Daily</text>
<text x="218" y="761" font-size="12" fill="#6d6d6d">AUDUSD,Daily</text>
<text x="322" y="761" font-size="12" fill="#6d6d6d">USDCAD,Daily</text>
<text x="425" y="761" font-size="12" fill="#6d6d6d">USDCNH,Daily</text>
<text x="531" y="761" font-size="12" fill="#6d6d6d" textLength="79.8" lengthAdjust="spacingAndGlyphs">EURUSD,Daily</text>
<text x="635" y="761" font-size="12" fill="#6d6d6d" textLength="67" lengthAdjust="spacingAndGlyphs">GBPUSD,H4</text>
<text x="725" y="761" font-size="12" fill="#6d6d6d" textLength="94.6" lengthAdjust="spacingAndGlyphs">XAUUSD,Weekly</text>
<text x="842" y="761" font-size="12" fill="#6d6d6d">HK50,H1</text>
<text x="914.4" y="761" font-size="12" fill="#6d6d6d">UK100,H1</text>
<text x="994" y="761" font-size="12" fill="#6d6d6d">UK100,H1</text>
<text x="1074" y="761" font-size="12" fill="#6d6d6d">GER30,H1</text>
<text x="1153.5" y="761" font-size="12" fill="#6d6d6d">FRA40,H1</text>
<text x="1230" y="761" font-size="12" fill="#6d6d6d">USOil,Weekly</text>
<text x="1329" y="761" font-size="12" fill="#6d6d6d">USDJPY,H1</text>
<text x="1413" y="761" font-size="12" fill="#6d6d6d">DJ30,Daily</text>
<text x="1493" y="761" font-size="12" fill="#6d6d6d">CHINA300,H1</text>
<text x="117.2" y="761" font-size="12" fill="#000" textLength="79.1" lengthAdjust="spacingAndGlyphs">USDCHF,Daily</text>
<clipPath id="uclip"><rect x="1590" y="745" width="14" height="22"/></clipPath>
<text x="1593" y="761" font-size="12" fill="#6d6d6d" clip-path="url(#uclip)">USDX</text>
<rect x="1604" y="747" width="34" height="18" fill="#f0f0f0"/>
<path d="M1614 751.5 L1614 758.5 L1610 755 Z" fill="#a0a0a0" shape-rendering="geometricPrecision"/>
<path d="M1629 751.5 L1629 758.5 L1633 755 Z" fill="#000" shape-rendering="geometricPrecision"/>
</svg></body></html>
